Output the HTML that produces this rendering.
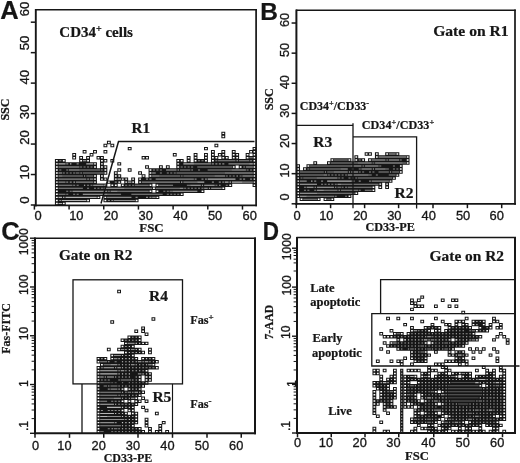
<!DOCTYPE html>
<html lang="en"><head><meta charset="utf-8"><title>Flow cytometry gating figure</title>
<style>html,body{margin:0;padding:0;background:#fff}body{width:520px;height:463px;overflow:hidden}svg{display:block;will-change:transform}</style>
</head><body>
<svg width="520" height="463" viewBox="0 0 520 463">
<rect width="520" height="463" fill="#fff"/>
<path d="M54.91 201.75h3.87v3.45h-3.87zM54.91 198.71h3.87v3.45h-3.87zM54.91 195.66h3.87v3.45h-3.87zM54.91 192.61h3.87v3.45h-3.87zM54.91 189.56h3.87v3.45h-3.87zM54.91 186.52h3.87v3.45h-3.87zM54.91 183.47h3.87v3.45h-3.87zM54.91 180.42h3.87v3.45h-3.87zM54.91 177.38h3.87v3.45h-3.87zM54.91 174.33h3.87v3.45h-3.87zM54.91 171.28h3.87v3.45h-3.87zM54.91 168.24h3.87v3.45h-3.87zM54.91 165.19h3.87v3.45h-3.87zM54.91 162.14h3.87v3.45h-3.87zM54.91 159.09h3.87v3.45h-3.87zM58.38 201.75h3.87v3.45h-3.87zM58.38 198.71h3.87v3.45h-3.87zM58.38 195.66h3.87v3.45h-3.87zM58.38 192.61h3.87v3.45h-3.87zM58.38 189.56h3.87v3.45h-3.87zM58.38 186.52h3.87v3.45h-3.87zM58.38 183.47h3.87v3.45h-3.87zM58.38 180.42h3.87v3.45h-3.87zM58.38 177.38h3.87v3.45h-3.87zM58.38 174.33h3.87v3.45h-3.87zM58.38 171.28h3.87v3.45h-3.87zM58.38 168.24h3.87v3.45h-3.87zM58.38 165.19h3.87v3.45h-3.87zM58.38 162.14h3.87v3.45h-3.87zM58.38 159.09h3.87v3.45h-3.87zM61.84 201.75h3.87v3.45h-3.87zM61.84 198.71h3.87v3.45h-3.87zM61.84 195.66h3.87v3.45h-3.87zM61.84 192.61h3.87v3.45h-3.87zM61.84 189.56h3.87v3.45h-3.87zM61.84 186.52h3.87v3.45h-3.87zM61.84 183.47h3.87v3.45h-3.87zM61.84 180.42h3.87v3.45h-3.87zM61.84 177.38h3.87v3.45h-3.87zM61.84 174.33h3.87v3.45h-3.87zM61.84 171.28h3.87v3.45h-3.87zM61.84 168.24h3.87v3.45h-3.87zM61.84 165.19h3.87v3.45h-3.87zM61.84 162.14h3.87v3.45h-3.87zM61.84 159.09h3.87v3.45h-3.87zM65.31 198.71h3.87v3.45h-3.87zM65.31 195.66h3.87v3.45h-3.87zM65.31 192.61h3.87v3.45h-3.87zM65.31 189.56h3.87v3.45h-3.87zM65.31 186.52h3.87v3.45h-3.87zM65.31 183.47h3.87v3.45h-3.87zM65.31 180.42h3.87v3.45h-3.87zM65.31 177.38h3.87v3.45h-3.87zM65.31 174.33h3.87v3.45h-3.87zM65.31 171.28h3.87v3.45h-3.87zM65.31 168.24h3.87v3.45h-3.87zM65.31 165.19h3.87v3.45h-3.87zM65.31 162.14h3.87v3.45h-3.87zM68.78 198.71h3.87v3.45h-3.87zM68.78 195.66h3.87v3.45h-3.87zM68.78 192.61h3.87v3.45h-3.87zM68.78 189.56h3.87v3.45h-3.87zM68.78 186.52h3.87v3.45h-3.87zM68.78 183.47h3.87v3.45h-3.87zM68.78 180.42h3.87v3.45h-3.87zM68.78 177.38h3.87v3.45h-3.87zM68.78 174.33h3.87v3.45h-3.87zM68.78 171.28h3.87v3.45h-3.87zM68.78 168.24h3.87v3.45h-3.87zM68.78 165.19h3.87v3.45h-3.87zM68.78 162.14h3.87v3.45h-3.87zM72.25 198.71h3.87v3.45h-3.87zM72.25 195.66h3.87v3.45h-3.87zM72.25 192.61h3.87v3.45h-3.87zM72.25 189.56h3.87v3.45h-3.87zM72.25 186.52h3.87v3.45h-3.87zM72.25 183.47h3.87v3.45h-3.87zM72.25 180.42h3.87v3.45h-3.87zM72.25 177.38h3.87v3.45h-3.87zM72.25 174.33h3.87v3.45h-3.87zM72.25 171.28h3.87v3.45h-3.87zM72.25 168.24h3.87v3.45h-3.87zM72.25 165.19h3.87v3.45h-3.87zM72.25 162.14h3.87v3.45h-3.87zM72.25 156.05h3.87v3.45h-3.87zM72.25 153.00h3.87v3.45h-3.87zM75.72 198.71h3.87v3.45h-3.87zM75.72 195.66h3.87v3.45h-3.87zM75.72 192.61h3.87v3.45h-3.87zM75.72 189.56h3.87v3.45h-3.87zM75.72 186.52h3.87v3.45h-3.87zM75.72 183.47h3.87v3.45h-3.87zM75.72 180.42h3.87v3.45h-3.87zM75.72 177.38h3.87v3.45h-3.87zM75.72 174.33h3.87v3.45h-3.87zM75.72 171.28h3.87v3.45h-3.87zM75.72 168.24h3.87v3.45h-3.87zM75.72 165.19h3.87v3.45h-3.87zM75.72 162.14h3.87v3.45h-3.87zM79.18 198.71h3.87v3.45h-3.87zM79.18 195.66h3.87v3.45h-3.87zM79.18 192.61h3.87v3.45h-3.87zM79.18 189.56h3.87v3.45h-3.87zM79.18 186.52h3.87v3.45h-3.87zM79.18 183.47h3.87v3.45h-3.87zM79.18 180.42h3.87v3.45h-3.87zM79.18 177.38h3.87v3.45h-3.87zM79.18 174.33h3.87v3.45h-3.87zM79.18 171.28h3.87v3.45h-3.87zM79.18 168.24h3.87v3.45h-3.87zM79.18 165.19h3.87v3.45h-3.87zM79.18 162.14h3.87v3.45h-3.87zM79.18 159.09h3.87v3.45h-3.87zM79.18 156.05h3.87v3.45h-3.87zM82.65 198.71h3.87v3.45h-3.87zM82.65 195.66h3.87v3.45h-3.87zM82.65 192.61h3.87v3.45h-3.87zM82.65 189.56h3.87v3.45h-3.87zM82.65 186.52h3.87v3.45h-3.87zM82.65 183.47h3.87v3.45h-3.87zM82.65 180.42h3.87v3.45h-3.87zM82.65 177.38h3.87v3.45h-3.87zM82.65 174.33h3.87v3.45h-3.87zM82.65 171.28h3.87v3.45h-3.87zM82.65 168.24h3.87v3.45h-3.87zM82.65 165.19h3.87v3.45h-3.87zM82.65 162.14h3.87v3.45h-3.87zM82.65 159.09h3.87v3.45h-3.87zM82.65 149.95h3.87v3.45h-3.87zM86.12 198.71h3.87v3.45h-3.87zM86.12 195.66h3.87v3.45h-3.87zM86.12 192.61h3.87v3.45h-3.87zM86.12 189.56h3.87v3.45h-3.87zM86.12 186.52h3.87v3.45h-3.87zM86.12 183.47h3.87v3.45h-3.87zM86.12 180.42h3.87v3.45h-3.87zM86.12 177.38h3.87v3.45h-3.87zM86.12 174.33h3.87v3.45h-3.87zM86.12 171.28h3.87v3.45h-3.87zM86.12 168.24h3.87v3.45h-3.87zM86.12 165.19h3.87v3.45h-3.87zM86.12 162.14h3.87v3.45h-3.87zM86.12 159.09h3.87v3.45h-3.87zM86.12 156.05h3.87v3.45h-3.87zM89.59 195.66h3.87v3.45h-3.87zM89.59 192.61h3.87v3.45h-3.87zM89.59 189.56h3.87v3.45h-3.87zM89.59 186.52h3.87v3.45h-3.87zM89.59 183.47h3.87v3.45h-3.87zM89.59 180.42h3.87v3.45h-3.87zM89.59 177.38h3.87v3.45h-3.87zM89.59 174.33h3.87v3.45h-3.87zM89.59 171.28h3.87v3.45h-3.87zM89.59 168.24h3.87v3.45h-3.87zM89.59 165.19h3.87v3.45h-3.87zM89.59 162.14h3.87v3.45h-3.87zM89.59 153.00h3.87v3.45h-3.87zM93.06 195.66h3.87v3.45h-3.87zM93.06 192.61h3.87v3.45h-3.87zM93.06 189.56h3.87v3.45h-3.87zM93.06 186.52h3.87v3.45h-3.87zM93.06 183.47h3.87v3.45h-3.87zM93.06 180.42h3.87v3.45h-3.87zM93.06 177.38h3.87v3.45h-3.87zM93.06 174.33h3.87v3.45h-3.87zM93.06 171.28h3.87v3.45h-3.87zM93.06 168.24h3.87v3.45h-3.87zM93.06 165.19h3.87v3.45h-3.87zM93.06 162.14h3.87v3.45h-3.87zM93.06 149.95h3.87v3.45h-3.87zM96.52 195.66h3.87v3.45h-3.87zM96.52 192.61h3.87v3.45h-3.87zM96.52 189.56h3.87v3.45h-3.87zM96.52 186.52h3.87v3.45h-3.87zM96.52 183.47h3.87v3.45h-3.87zM96.52 171.28h3.87v3.45h-3.87zM96.52 168.24h3.87v3.45h-3.87zM96.52 156.05h3.87v3.45h-3.87zM99.99 192.61h3.87v3.45h-3.87zM99.99 189.56h3.87v3.45h-3.87zM99.99 186.52h3.87v3.45h-3.87zM99.99 183.47h3.87v3.45h-3.87zM99.99 177.38h3.87v3.45h-3.87zM99.99 174.33h3.87v3.45h-3.87zM99.99 171.28h3.87v3.45h-3.87zM99.99 168.24h3.87v3.45h-3.87zM99.99 165.19h3.87v3.45h-3.87zM99.99 162.14h3.87v3.45h-3.87zM99.99 159.09h3.87v3.45h-3.87zM99.99 156.05h3.87v3.45h-3.87zM103.46 198.71h3.87v3.45h-3.87zM103.46 195.66h3.87v3.45h-3.87zM103.46 192.61h3.87v3.45h-3.87zM103.46 189.56h3.87v3.45h-3.87zM103.46 186.52h3.87v3.45h-3.87zM103.46 183.47h3.87v3.45h-3.87zM103.46 177.38h3.87v3.45h-3.87zM103.46 171.28h3.87v3.45h-3.87zM103.46 168.24h3.87v3.45h-3.87zM103.46 165.19h3.87v3.45h-3.87zM103.46 159.09h3.87v3.45h-3.87zM103.46 149.95h3.87v3.45h-3.87zM103.46 143.86h3.87v3.45h-3.87zM106.93 198.71h3.87v3.45h-3.87zM106.93 195.66h3.87v3.45h-3.87zM106.93 192.61h3.87v3.45h-3.87zM106.93 189.56h3.87v3.45h-3.87zM106.93 186.52h3.87v3.45h-3.87zM106.93 180.42h3.87v3.45h-3.87zM106.93 140.81h3.87v3.45h-3.87zM110.40 198.71h3.87v3.45h-3.87zM110.40 195.66h3.87v3.45h-3.87zM110.40 192.61h3.87v3.45h-3.87zM110.40 189.56h3.87v3.45h-3.87zM110.40 186.52h3.87v3.45h-3.87zM110.40 183.47h3.87v3.45h-3.87zM110.40 180.42h3.87v3.45h-3.87zM110.40 159.09h3.87v3.45h-3.87zM110.40 143.86h3.87v3.45h-3.87zM113.86 198.71h3.87v3.45h-3.87zM113.86 195.66h3.87v3.45h-3.87zM113.86 192.61h3.87v3.45h-3.87zM113.86 189.56h3.87v3.45h-3.87zM113.86 186.52h3.87v3.45h-3.87zM113.86 183.47h3.87v3.45h-3.87zM113.86 180.42h3.87v3.45h-3.87zM113.86 177.38h3.87v3.45h-3.87zM113.86 174.33h3.87v3.45h-3.87zM113.86 171.28h3.87v3.45h-3.87zM117.33 198.71h3.87v3.45h-3.87zM117.33 195.66h3.87v3.45h-3.87zM117.33 192.61h3.87v3.45h-3.87zM117.33 189.56h3.87v3.45h-3.87zM117.33 186.52h3.87v3.45h-3.87zM117.33 180.42h3.87v3.45h-3.87zM117.33 177.38h3.87v3.45h-3.87zM117.33 174.33h3.87v3.45h-3.87zM117.33 168.24h3.87v3.45h-3.87zM117.33 162.14h3.87v3.45h-3.87zM120.80 198.71h3.87v3.45h-3.87zM120.80 195.66h3.87v3.45h-3.87zM120.80 192.61h3.87v3.45h-3.87zM120.80 189.56h3.87v3.45h-3.87zM120.80 186.52h3.87v3.45h-3.87zM120.80 183.47h3.87v3.45h-3.87zM120.80 177.38h3.87v3.45h-3.87zM124.27 198.71h3.87v3.45h-3.87zM124.27 195.66h3.87v3.45h-3.87zM124.27 192.61h3.87v3.45h-3.87zM124.27 189.56h3.87v3.45h-3.87zM124.27 186.52h3.87v3.45h-3.87zM124.27 183.47h3.87v3.45h-3.87zM124.27 180.42h3.87v3.45h-3.87zM124.27 177.38h3.87v3.45h-3.87zM127.74 198.71h3.87v3.45h-3.87zM127.74 195.66h3.87v3.45h-3.87zM127.74 192.61h3.87v3.45h-3.87zM127.74 189.56h3.87v3.45h-3.87zM127.74 186.52h3.87v3.45h-3.87zM127.74 183.47h3.87v3.45h-3.87zM127.74 180.42h3.87v3.45h-3.87zM127.74 168.24h3.87v3.45h-3.87zM127.74 146.91h3.87v3.45h-3.87zM131.20 198.71h3.87v3.45h-3.87zM131.20 195.66h3.87v3.45h-3.87zM131.20 192.61h3.87v3.45h-3.87zM131.20 189.56h3.87v3.45h-3.87zM131.20 186.52h3.87v3.45h-3.87zM131.20 183.47h3.87v3.45h-3.87zM131.20 180.42h3.87v3.45h-3.87zM131.20 177.38h3.87v3.45h-3.87zM134.67 198.71h3.87v3.45h-3.87zM134.67 195.66h3.87v3.45h-3.87zM134.67 192.61h3.87v3.45h-3.87zM134.67 189.56h3.87v3.45h-3.87zM134.67 186.52h3.87v3.45h-3.87zM134.67 183.47h3.87v3.45h-3.87zM138.14 195.66h3.87v3.45h-3.87zM138.14 192.61h3.87v3.45h-3.87zM138.14 189.56h3.87v3.45h-3.87zM138.14 186.52h3.87v3.45h-3.87zM138.14 183.47h3.87v3.45h-3.87zM138.14 180.42h3.87v3.45h-3.87zM138.14 177.38h3.87v3.45h-3.87zM138.14 171.28h3.87v3.45h-3.87zM141.61 195.66h3.87v3.45h-3.87zM141.61 192.61h3.87v3.45h-3.87zM141.61 189.56h3.87v3.45h-3.87zM141.61 186.52h3.87v3.45h-3.87zM141.61 183.47h3.87v3.45h-3.87zM141.61 180.42h3.87v3.45h-3.87zM141.61 177.38h3.87v3.45h-3.87zM141.61 174.33h3.87v3.45h-3.87zM141.61 156.05h3.87v3.45h-3.87zM145.08 195.66h3.87v3.45h-3.87zM145.08 192.61h3.87v3.45h-3.87zM145.08 189.56h3.87v3.45h-3.87zM145.08 186.52h3.87v3.45h-3.87zM145.08 183.47h3.87v3.45h-3.87zM145.08 180.42h3.87v3.45h-3.87zM145.08 177.38h3.87v3.45h-3.87zM145.08 165.19h3.87v3.45h-3.87zM145.08 156.05h3.87v3.45h-3.87zM148.54 195.66h3.87v3.45h-3.87zM148.54 192.61h3.87v3.45h-3.87zM148.54 189.56h3.87v3.45h-3.87zM148.54 186.52h3.87v3.45h-3.87zM148.54 183.47h3.87v3.45h-3.87zM148.54 180.42h3.87v3.45h-3.87zM148.54 177.38h3.87v3.45h-3.87zM148.54 174.33h3.87v3.45h-3.87zM148.54 171.28h3.87v3.45h-3.87zM148.54 168.24h3.87v3.45h-3.87zM152.01 195.66h3.87v3.45h-3.87zM152.01 192.61h3.87v3.45h-3.87zM152.01 186.52h3.87v3.45h-3.87zM152.01 180.42h3.87v3.45h-3.87zM152.01 177.38h3.87v3.45h-3.87zM152.01 174.33h3.87v3.45h-3.87zM152.01 171.28h3.87v3.45h-3.87zM152.01 168.24h3.87v3.45h-3.87zM155.48 195.66h3.87v3.45h-3.87zM155.48 192.61h3.87v3.45h-3.87zM155.48 189.56h3.87v3.45h-3.87zM155.48 186.52h3.87v3.45h-3.87zM155.48 183.47h3.87v3.45h-3.87zM155.48 180.42h3.87v3.45h-3.87zM155.48 177.38h3.87v3.45h-3.87zM155.48 174.33h3.87v3.45h-3.87zM155.48 171.28h3.87v3.45h-3.87zM155.48 168.24h3.87v3.45h-3.87zM158.95 192.61h3.87v3.45h-3.87zM158.95 189.56h3.87v3.45h-3.87zM158.95 186.52h3.87v3.45h-3.87zM158.95 183.47h3.87v3.45h-3.87zM158.95 180.42h3.87v3.45h-3.87zM158.95 177.38h3.87v3.45h-3.87zM158.95 174.33h3.87v3.45h-3.87zM158.95 171.28h3.87v3.45h-3.87zM158.95 168.24h3.87v3.45h-3.87zM158.95 165.19h3.87v3.45h-3.87zM162.42 192.61h3.87v3.45h-3.87zM162.42 189.56h3.87v3.45h-3.87zM162.42 186.52h3.87v3.45h-3.87zM162.42 183.47h3.87v3.45h-3.87zM162.42 180.42h3.87v3.45h-3.87zM162.42 177.38h3.87v3.45h-3.87zM162.42 174.33h3.87v3.45h-3.87zM162.42 171.28h3.87v3.45h-3.87zM162.42 168.24h3.87v3.45h-3.87zM165.88 192.61h3.87v3.45h-3.87zM165.88 189.56h3.87v3.45h-3.87zM165.88 186.52h3.87v3.45h-3.87zM165.88 183.47h3.87v3.45h-3.87zM165.88 180.42h3.87v3.45h-3.87zM165.88 177.38h3.87v3.45h-3.87zM165.88 174.33h3.87v3.45h-3.87zM165.88 171.28h3.87v3.45h-3.87zM165.88 168.24h3.87v3.45h-3.87zM165.88 165.19h3.87v3.45h-3.87zM169.35 192.61h3.87v3.45h-3.87zM169.35 189.56h3.87v3.45h-3.87zM169.35 186.52h3.87v3.45h-3.87zM169.35 183.47h3.87v3.45h-3.87zM169.35 180.42h3.87v3.45h-3.87zM169.35 177.38h3.87v3.45h-3.87zM169.35 174.33h3.87v3.45h-3.87zM169.35 171.28h3.87v3.45h-3.87zM169.35 168.24h3.87v3.45h-3.87zM172.82 192.61h3.87v3.45h-3.87zM172.82 189.56h3.87v3.45h-3.87zM172.82 186.52h3.87v3.45h-3.87zM172.82 183.47h3.87v3.45h-3.87zM172.82 180.42h3.87v3.45h-3.87zM172.82 177.38h3.87v3.45h-3.87zM172.82 174.33h3.87v3.45h-3.87zM172.82 171.28h3.87v3.45h-3.87zM172.82 168.24h3.87v3.45h-3.87zM172.82 153.00h3.87v3.45h-3.87zM176.29 192.61h3.87v3.45h-3.87zM176.29 189.56h3.87v3.45h-3.87zM176.29 186.52h3.87v3.45h-3.87zM176.29 183.47h3.87v3.45h-3.87zM176.29 180.42h3.87v3.45h-3.87zM176.29 177.38h3.87v3.45h-3.87zM176.29 174.33h3.87v3.45h-3.87zM176.29 171.28h3.87v3.45h-3.87zM176.29 168.24h3.87v3.45h-3.87zM176.29 165.19h3.87v3.45h-3.87zM176.29 162.14h3.87v3.45h-3.87zM176.29 159.09h3.87v3.45h-3.87zM179.76 192.61h3.87v3.45h-3.87zM179.76 189.56h3.87v3.45h-3.87zM179.76 186.52h3.87v3.45h-3.87zM179.76 183.47h3.87v3.45h-3.87zM179.76 180.42h3.87v3.45h-3.87zM179.76 177.38h3.87v3.45h-3.87zM179.76 174.33h3.87v3.45h-3.87zM179.76 171.28h3.87v3.45h-3.87zM179.76 168.24h3.87v3.45h-3.87zM179.76 165.19h3.87v3.45h-3.87zM179.76 162.14h3.87v3.45h-3.87zM179.76 159.09h3.87v3.45h-3.87zM183.22 189.56h3.87v3.45h-3.87zM183.22 186.52h3.87v3.45h-3.87zM183.22 183.47h3.87v3.45h-3.87zM183.22 180.42h3.87v3.45h-3.87zM183.22 177.38h3.87v3.45h-3.87zM183.22 174.33h3.87v3.45h-3.87zM183.22 171.28h3.87v3.45h-3.87zM183.22 168.24h3.87v3.45h-3.87zM183.22 165.19h3.87v3.45h-3.87zM183.22 162.14h3.87v3.45h-3.87zM186.69 189.56h3.87v3.45h-3.87zM186.69 186.52h3.87v3.45h-3.87zM186.69 183.47h3.87v3.45h-3.87zM186.69 180.42h3.87v3.45h-3.87zM186.69 177.38h3.87v3.45h-3.87zM186.69 174.33h3.87v3.45h-3.87zM186.69 171.28h3.87v3.45h-3.87zM186.69 168.24h3.87v3.45h-3.87zM186.69 165.19h3.87v3.45h-3.87zM186.69 162.14h3.87v3.45h-3.87zM186.69 159.09h3.87v3.45h-3.87zM186.69 156.05h3.87v3.45h-3.87zM190.16 189.56h3.87v3.45h-3.87zM190.16 186.52h3.87v3.45h-3.87zM190.16 183.47h3.87v3.45h-3.87zM190.16 180.42h3.87v3.45h-3.87zM190.16 177.38h3.87v3.45h-3.87zM190.16 174.33h3.87v3.45h-3.87zM190.16 171.28h3.87v3.45h-3.87zM190.16 168.24h3.87v3.45h-3.87zM190.16 165.19h3.87v3.45h-3.87zM190.16 162.14h3.87v3.45h-3.87zM193.63 189.56h3.87v3.45h-3.87zM193.63 186.52h3.87v3.45h-3.87zM193.63 183.47h3.87v3.45h-3.87zM193.63 180.42h3.87v3.45h-3.87zM193.63 177.38h3.87v3.45h-3.87zM193.63 174.33h3.87v3.45h-3.87zM193.63 171.28h3.87v3.45h-3.87zM193.63 168.24h3.87v3.45h-3.87zM193.63 165.19h3.87v3.45h-3.87zM193.63 162.14h3.87v3.45h-3.87zM193.63 159.09h3.87v3.45h-3.87zM193.63 156.05h3.87v3.45h-3.87zM193.63 153.00h3.87v3.45h-3.87zM197.10 189.56h3.87v3.45h-3.87zM197.10 186.52h3.87v3.45h-3.87zM197.10 183.47h3.87v3.45h-3.87zM197.10 180.42h3.87v3.45h-3.87zM197.10 177.38h3.87v3.45h-3.87zM197.10 174.33h3.87v3.45h-3.87zM197.10 171.28h3.87v3.45h-3.87zM197.10 168.24h3.87v3.45h-3.87zM197.10 165.19h3.87v3.45h-3.87zM197.10 162.14h3.87v3.45h-3.87zM197.10 159.09h3.87v3.45h-3.87zM200.56 189.56h3.87v3.45h-3.87zM200.56 186.52h3.87v3.45h-3.87zM200.56 183.47h3.87v3.45h-3.87zM200.56 180.42h3.87v3.45h-3.87zM200.56 177.38h3.87v3.45h-3.87zM200.56 174.33h3.87v3.45h-3.87zM200.56 171.28h3.87v3.45h-3.87zM200.56 168.24h3.87v3.45h-3.87zM200.56 165.19h3.87v3.45h-3.87zM200.56 162.14h3.87v3.45h-3.87zM200.56 159.09h3.87v3.45h-3.87zM204.03 186.52h3.87v3.45h-3.87zM204.03 183.47h3.87v3.45h-3.87zM204.03 180.42h3.87v3.45h-3.87zM204.03 177.38h3.87v3.45h-3.87zM204.03 174.33h3.87v3.45h-3.87zM204.03 171.28h3.87v3.45h-3.87zM204.03 168.24h3.87v3.45h-3.87zM204.03 165.19h3.87v3.45h-3.87zM204.03 162.14h3.87v3.45h-3.87zM204.03 159.09h3.87v3.45h-3.87zM204.03 156.05h3.87v3.45h-3.87zM204.03 153.00h3.87v3.45h-3.87zM204.03 146.91h3.87v3.45h-3.87zM207.50 186.52h3.87v3.45h-3.87zM207.50 183.47h3.87v3.45h-3.87zM207.50 180.42h3.87v3.45h-3.87zM207.50 177.38h3.87v3.45h-3.87zM207.50 174.33h3.87v3.45h-3.87zM207.50 171.28h3.87v3.45h-3.87zM207.50 168.24h3.87v3.45h-3.87zM207.50 165.19h3.87v3.45h-3.87zM207.50 162.14h3.87v3.45h-3.87zM210.97 186.52h3.87v3.45h-3.87zM210.97 183.47h3.87v3.45h-3.87zM210.97 180.42h3.87v3.45h-3.87zM210.97 177.38h3.87v3.45h-3.87zM210.97 174.33h3.87v3.45h-3.87zM210.97 171.28h3.87v3.45h-3.87zM210.97 168.24h3.87v3.45h-3.87zM210.97 165.19h3.87v3.45h-3.87zM210.97 162.14h3.87v3.45h-3.87zM210.97 159.09h3.87v3.45h-3.87zM210.97 156.05h3.87v3.45h-3.87zM210.97 153.00h3.87v3.45h-3.87zM210.97 149.95h3.87v3.45h-3.87zM214.44 186.52h3.87v3.45h-3.87zM214.44 183.47h3.87v3.45h-3.87zM214.44 180.42h3.87v3.45h-3.87zM214.44 177.38h3.87v3.45h-3.87zM214.44 174.33h3.87v3.45h-3.87zM214.44 171.28h3.87v3.45h-3.87zM214.44 168.24h3.87v3.45h-3.87zM214.44 165.19h3.87v3.45h-3.87zM214.44 162.14h3.87v3.45h-3.87zM214.44 159.09h3.87v3.45h-3.87zM214.44 156.05h3.87v3.45h-3.87zM214.44 143.86h3.87v3.45h-3.87zM217.90 186.52h3.87v3.45h-3.87zM217.90 183.47h3.87v3.45h-3.87zM217.90 180.42h3.87v3.45h-3.87zM217.90 177.38h3.87v3.45h-3.87zM217.90 174.33h3.87v3.45h-3.87zM217.90 171.28h3.87v3.45h-3.87zM217.90 168.24h3.87v3.45h-3.87zM217.90 165.19h3.87v3.45h-3.87zM217.90 162.14h3.87v3.45h-3.87zM217.90 159.09h3.87v3.45h-3.87zM217.90 153.00h3.87v3.45h-3.87zM221.37 186.52h3.87v3.45h-3.87zM221.37 183.47h3.87v3.45h-3.87zM221.37 180.42h3.87v3.45h-3.87zM221.37 177.38h3.87v3.45h-3.87zM221.37 174.33h3.87v3.45h-3.87zM221.37 171.28h3.87v3.45h-3.87zM221.37 168.24h3.87v3.45h-3.87zM221.37 165.19h3.87v3.45h-3.87zM221.37 162.14h3.87v3.45h-3.87zM221.37 159.09h3.87v3.45h-3.87zM221.37 156.05h3.87v3.45h-3.87zM221.37 153.00h3.87v3.45h-3.87zM221.37 149.95h3.87v3.45h-3.87zM221.37 134.72h3.87v3.45h-3.87zM221.37 131.67h3.87v3.45h-3.87zM224.84 183.47h3.87v3.45h-3.87zM224.84 180.42h3.87v3.45h-3.87zM224.84 177.38h3.87v3.45h-3.87zM224.84 174.33h3.87v3.45h-3.87zM224.84 171.28h3.87v3.45h-3.87zM224.84 168.24h3.87v3.45h-3.87zM224.84 165.19h3.87v3.45h-3.87zM224.84 162.14h3.87v3.45h-3.87zM224.84 159.09h3.87v3.45h-3.87zM224.84 156.05h3.87v3.45h-3.87zM228.31 183.47h3.87v3.45h-3.87zM228.31 180.42h3.87v3.45h-3.87zM228.31 177.38h3.87v3.45h-3.87zM228.31 174.33h3.87v3.45h-3.87zM228.31 171.28h3.87v3.45h-3.87zM228.31 168.24h3.87v3.45h-3.87zM228.31 165.19h3.87v3.45h-3.87zM228.31 162.14h3.87v3.45h-3.87zM228.31 159.09h3.87v3.45h-3.87zM231.78 180.42h3.87v3.45h-3.87zM231.78 177.38h3.87v3.45h-3.87zM231.78 174.33h3.87v3.45h-3.87zM231.78 171.28h3.87v3.45h-3.87zM231.78 168.24h3.87v3.45h-3.87zM231.78 165.19h3.87v3.45h-3.87zM231.78 162.14h3.87v3.45h-3.87zM231.78 159.09h3.87v3.45h-3.87zM231.78 156.05h3.87v3.45h-3.87zM231.78 153.00h3.87v3.45h-3.87zM231.78 149.95h3.87v3.45h-3.87zM235.24 180.42h3.87v3.45h-3.87zM235.24 177.38h3.87v3.45h-3.87zM235.24 174.33h3.87v3.45h-3.87zM235.24 171.28h3.87v3.45h-3.87zM235.24 168.24h3.87v3.45h-3.87zM235.24 162.14h3.87v3.45h-3.87zM235.24 159.09h3.87v3.45h-3.87zM235.24 156.05h3.87v3.45h-3.87zM235.24 153.00h3.87v3.45h-3.87zM238.71 180.42h3.87v3.45h-3.87zM238.71 177.38h3.87v3.45h-3.87zM238.71 174.33h3.87v3.45h-3.87zM238.71 171.28h3.87v3.45h-3.87zM238.71 168.24h3.87v3.45h-3.87zM238.71 165.19h3.87v3.45h-3.87zM238.71 162.14h3.87v3.45h-3.87zM238.71 159.09h3.87v3.45h-3.87zM242.18 180.42h3.87v3.45h-3.87zM242.18 177.38h3.87v3.45h-3.87zM242.18 174.33h3.87v3.45h-3.87zM242.18 171.28h3.87v3.45h-3.87zM242.18 168.24h3.87v3.45h-3.87zM242.18 165.19h3.87v3.45h-3.87zM242.18 162.14h3.87v3.45h-3.87zM242.18 159.09h3.87v3.45h-3.87zM245.65 180.42h3.87v3.45h-3.87zM245.65 177.38h3.87v3.45h-3.87zM245.65 174.33h3.87v3.45h-3.87zM245.65 171.28h3.87v3.45h-3.87zM245.65 168.24h3.87v3.45h-3.87zM245.65 165.19h3.87v3.45h-3.87zM245.65 162.14h3.87v3.45h-3.87zM245.65 159.09h3.87v3.45h-3.87zM245.65 156.05h3.87v3.45h-3.87zM245.65 153.00h3.87v3.45h-3.87zM249.12 180.42h3.87v3.45h-3.87zM249.12 177.38h3.87v3.45h-3.87zM249.12 174.33h3.87v3.45h-3.87zM249.12 171.28h3.87v3.45h-3.87zM249.12 168.24h3.87v3.45h-3.87zM249.12 165.19h3.87v3.45h-3.87zM249.12 162.14h3.87v3.45h-3.87zM249.12 159.09h3.87v3.45h-3.87zM249.12 156.05h3.87v3.45h-3.87zM249.12 149.95h3.87v3.45h-3.87zM252.58 183.47h3.87v3.45h-3.87zM252.58 180.42h3.87v3.45h-3.87zM252.58 177.38h3.87v3.45h-3.87zM252.58 174.33h3.87v3.45h-3.87zM252.58 171.28h3.87v3.45h-3.87zM252.58 168.24h3.87v3.45h-3.87zM252.58 165.19h3.87v3.45h-3.87zM252.58 162.14h3.87v3.45h-3.87zM252.58 159.09h3.87v3.45h-3.87zM252.58 156.05h3.87v3.45h-3.87zM252.58 153.00h3.87v3.45h-3.87zM252.58 149.95h3.87v3.45h-3.87zM252.58 146.91h3.87v3.45h-3.87z" fill="#161616"/>
<path d="M59.28 199.91h2.07v1.05h-2.07zM58.53 193.81h3.57v1.05h-3.57zM58.53 187.72h3.57v1.05h-3.57zM58.53 184.67h3.57v1.05h-3.57zM58.53 181.62h3.57v1.05h-3.57zM58.53 178.58h3.57v1.05h-3.57zM59.28 169.44h2.07v1.05h-2.07zM59.28 160.29h2.07v1.05h-2.07zM61.99 193.81h3.57v1.05h-3.57zM61.99 187.72h3.57v1.05h-3.57zM61.99 184.67h3.57v1.05h-3.57zM61.99 181.62h3.57v1.05h-3.57zM61.99 178.58h3.57v1.05h-3.57zM61.99 175.53h3.57v1.05h-3.57zM62.74 172.48h2.07v1.05h-2.07zM66.21 193.81h2.07v1.05h-2.07zM66.21 190.76h2.07v1.05h-2.07zM65.46 187.72h3.57v1.05h-3.57zM65.46 184.67h3.57v1.05h-3.57zM66.21 181.62h2.07v1.05h-2.07zM65.46 178.58h3.57v1.05h-3.57zM65.46 175.53h3.57v1.05h-3.57zM66.21 172.48h2.07v1.05h-2.07zM66.21 169.44h2.07v1.05h-2.07zM66.21 163.34h2.07v1.05h-2.07zM69.68 190.76h2.07v1.05h-2.07zM68.93 187.72h3.57v1.05h-3.57zM68.93 184.67h3.57v1.05h-3.57zM69.68 181.62h2.07v1.05h-2.07zM68.93 178.58h3.57v1.05h-3.57zM68.93 175.53h3.57v1.05h-3.57zM69.68 172.48h2.07v1.05h-2.07zM73.15 193.81h2.07v1.05h-2.07zM72.40 187.72h3.57v1.05h-3.57zM73.15 184.67h2.07v1.05h-2.07zM72.40 178.58h3.57v1.05h-3.57zM72.40 175.53h3.57v1.05h-3.57zM73.15 172.48h2.07v1.05h-2.07zM76.62 193.81h2.07v1.05h-2.07zM75.87 187.72h3.57v1.05h-3.57zM76.62 184.67h2.07v1.05h-2.07zM75.87 181.62h3.57v1.05h-3.57zM75.87 178.58h3.57v1.05h-3.57zM75.87 175.53h3.57v1.05h-3.57zM75.87 172.48h3.57v1.05h-3.57zM76.62 163.34h2.07v1.05h-2.07zM79.33 187.72h3.57v1.05h-3.57zM79.33 181.62h3.57v1.05h-3.57zM79.33 178.58h3.57v1.05h-3.57zM79.33 175.53h3.57v1.05h-3.57zM79.33 169.44h3.57v1.05h-3.57zM80.08 166.39h2.07v1.05h-2.07zM82.80 181.62h3.57v1.05h-3.57zM82.80 178.58h3.57v1.05h-3.57zM82.80 172.48h3.57v1.05h-3.57zM82.80 169.44h3.57v1.05h-3.57zM83.55 166.39h2.07v1.05h-2.07zM87.02 187.72h2.07v1.05h-2.07zM87.02 184.67h2.07v1.05h-2.07zM86.27 181.62h3.57v1.05h-3.57zM86.27 175.53h3.57v1.05h-3.57zM86.27 172.48h3.57v1.05h-3.57zM86.27 169.44h3.57v1.05h-3.57zM87.02 166.39h2.07v1.05h-2.07zM90.49 184.67h2.07v1.05h-2.07zM89.74 181.62h3.57v1.05h-3.57zM89.74 178.58h3.57v1.05h-3.57zM89.74 175.53h3.57v1.05h-3.57zM89.74 172.48h3.57v1.05h-3.57zM89.74 169.44h3.57v1.05h-3.57zM90.49 166.39h2.07v1.05h-2.07zM93.96 187.72h2.07v1.05h-2.07zM93.21 172.48h3.57v1.05h-3.57zM93.21 169.44h3.57v1.05h-3.57zM97.42 187.72h2.07v1.05h-2.07zM96.67 172.48h3.57v1.05h-3.57zM96.67 169.44h3.57v1.05h-3.57zM100.89 187.72h2.07v1.05h-2.07zM100.14 172.48h3.57v1.05h-3.57zM107.83 199.91h2.07v1.05h-2.07zM107.08 196.86h3.57v1.05h-3.57zM107.08 193.81h3.57v1.05h-3.57zM107.83 190.76h2.07v1.05h-2.07zM111.30 199.91h2.07v1.05h-2.07zM110.55 196.86h3.57v1.05h-3.57zM110.55 193.81h3.57v1.05h-3.57zM114.01 199.91h3.57v1.05h-3.57zM114.01 196.86h3.57v1.05h-3.57zM114.01 193.81h3.57v1.05h-3.57zM114.76 181.62h2.07v1.05h-2.07zM117.48 199.91h3.57v1.05h-3.57zM117.48 196.86h3.57v1.05h-3.57zM117.48 193.81h3.57v1.05h-3.57zM117.48 190.76h3.57v1.05h-3.57zM120.95 199.91h3.57v1.05h-3.57zM120.95 196.86h3.57v1.05h-3.57zM120.95 190.76h3.57v1.05h-3.57zM124.42 199.91h3.57v1.05h-3.57zM124.42 196.86h3.57v1.05h-3.57zM124.42 190.76h3.57v1.05h-3.57zM124.42 187.72h3.57v1.05h-3.57zM125.17 184.67h2.07v1.05h-2.07zM127.89 199.91h3.57v1.05h-3.57zM127.89 196.86h3.57v1.05h-3.57zM127.89 190.76h3.57v1.05h-3.57zM127.89 187.72h3.57v1.05h-3.57zM128.64 184.67h2.07v1.05h-2.07zM131.35 199.91h3.57v1.05h-3.57zM131.35 193.81h3.57v1.05h-3.57zM131.35 190.76h3.57v1.05h-3.57zM131.35 187.72h3.57v1.05h-3.57zM132.10 184.67h2.07v1.05h-2.07zM135.57 196.86h2.07v1.05h-2.07zM134.82 193.81h3.57v1.05h-3.57zM134.82 190.76h3.57v1.05h-3.57zM134.82 187.72h3.57v1.05h-3.57zM134.82 184.67h3.57v1.05h-3.57zM138.29 193.81h3.57v1.05h-3.57zM138.29 190.76h3.57v1.05h-3.57zM138.29 187.72h3.57v1.05h-3.57zM138.29 184.67h3.57v1.05h-3.57zM141.76 193.81h3.57v1.05h-3.57zM141.76 190.76h3.57v1.05h-3.57zM141.76 187.72h3.57v1.05h-3.57zM141.76 184.67h3.57v1.05h-3.57zM141.76 181.62h3.57v1.05h-3.57zM145.98 196.86h2.07v1.05h-2.07zM145.23 193.81h3.57v1.05h-3.57zM145.23 190.76h3.57v1.05h-3.57zM145.23 187.72h3.57v1.05h-3.57zM145.23 184.67h3.57v1.05h-3.57zM145.23 181.62h3.57v1.05h-3.57zM145.98 178.58h2.07v1.05h-2.07zM149.44 196.86h2.07v1.05h-2.07zM148.69 193.81h3.57v1.05h-3.57zM148.69 187.72h3.57v1.05h-3.57zM148.69 181.62h3.57v1.05h-3.57zM149.44 178.58h2.07v1.05h-2.07zM152.16 196.86h3.57v1.05h-3.57zM152.16 193.81h3.57v1.05h-3.57zM152.16 181.62h3.57v1.05h-3.57zM152.91 169.44h2.07v1.05h-2.07zM155.63 193.81h3.57v1.05h-3.57zM155.63 187.72h3.57v1.05h-3.57zM155.63 181.62h3.57v1.05h-3.57zM155.63 178.58h3.57v1.05h-3.57zM156.38 169.44h2.07v1.05h-2.07zM159.10 193.81h3.57v1.05h-3.57zM159.10 187.72h3.57v1.05h-3.57zM159.10 184.67h3.57v1.05h-3.57zM159.10 181.62h3.57v1.05h-3.57zM159.10 178.58h3.57v1.05h-3.57zM159.10 175.53h3.57v1.05h-3.57zM159.85 172.48h2.07v1.05h-2.07zM159.85 169.44h2.07v1.05h-2.07zM163.32 190.76h2.07v1.05h-2.07zM162.57 187.72h3.57v1.05h-3.57zM162.57 184.67h3.57v1.05h-3.57zM162.57 181.62h3.57v1.05h-3.57zM162.57 178.58h3.57v1.05h-3.57zM162.57 175.53h3.57v1.05h-3.57zM166.78 193.81h2.07v1.05h-2.07zM166.78 190.76h2.07v1.05h-2.07zM166.03 187.72h3.57v1.05h-3.57zM166.03 184.67h3.57v1.05h-3.57zM166.03 181.62h3.57v1.05h-3.57zM166.03 178.58h3.57v1.05h-3.57zM166.03 175.53h3.57v1.05h-3.57zM166.78 172.48h2.07v1.05h-2.07zM170.25 193.81h2.07v1.05h-2.07zM169.50 190.76h3.57v1.05h-3.57zM169.50 187.72h3.57v1.05h-3.57zM169.50 184.67h3.57v1.05h-3.57zM169.50 181.62h3.57v1.05h-3.57zM169.50 178.58h3.57v1.05h-3.57zM169.50 175.53h3.57v1.05h-3.57zM170.25 172.48h2.07v1.05h-2.07zM173.72 193.81h2.07v1.05h-2.07zM172.97 187.72h3.57v1.05h-3.57zM172.97 181.62h3.57v1.05h-3.57zM172.97 178.58h3.57v1.05h-3.57zM172.97 175.53h3.57v1.05h-3.57zM173.72 172.48h2.07v1.05h-2.07zM177.19 193.81h2.07v1.05h-2.07zM176.44 187.72h3.57v1.05h-3.57zM176.44 181.62h3.57v1.05h-3.57zM176.44 178.58h3.57v1.05h-3.57zM176.44 175.53h3.57v1.05h-3.57zM176.44 172.48h3.57v1.05h-3.57zM179.91 178.58h3.57v1.05h-3.57zM180.66 175.53h2.07v1.05h-2.07zM179.91 172.48h3.57v1.05h-3.57zM179.91 169.44h3.57v1.05h-3.57zM180.66 166.39h2.07v1.05h-2.07zM184.12 187.72h2.07v1.05h-2.07zM183.37 181.62h3.57v1.05h-3.57zM183.37 178.58h3.57v1.05h-3.57zM183.37 175.53h3.57v1.05h-3.57zM183.37 172.48h3.57v1.05h-3.57zM183.37 169.44h3.57v1.05h-3.57zM184.12 166.39h2.07v1.05h-2.07zM187.59 187.72h2.07v1.05h-2.07zM186.84 184.67h3.57v1.05h-3.57zM186.84 181.62h3.57v1.05h-3.57zM186.84 178.58h3.57v1.05h-3.57zM186.84 175.53h3.57v1.05h-3.57zM186.84 172.48h3.57v1.05h-3.57zM186.84 169.44h3.57v1.05h-3.57zM187.59 166.39h2.07v1.05h-2.07zM191.06 187.72h2.07v1.05h-2.07zM190.31 181.62h3.57v1.05h-3.57zM190.31 178.58h3.57v1.05h-3.57zM190.31 175.53h3.57v1.05h-3.57zM190.31 172.48h3.57v1.05h-3.57zM191.06 166.39h2.07v1.05h-2.07zM194.53 187.72h2.07v1.05h-2.07zM193.78 181.62h3.57v1.05h-3.57zM194.53 178.58h2.07v1.05h-2.07zM193.78 175.53h3.57v1.05h-3.57zM193.78 172.48h3.57v1.05h-3.57zM193.78 163.34h3.57v1.05h-3.57zM198.00 187.72h2.07v1.05h-2.07zM197.25 175.53h3.57v1.05h-3.57zM197.25 172.48h3.57v1.05h-3.57zM198.00 169.44h2.07v1.05h-2.07zM197.25 166.39h3.57v1.05h-3.57zM197.25 163.34h3.57v1.05h-3.57zM198.00 160.29h2.07v1.05h-2.07zM201.46 187.72h2.07v1.05h-2.07zM201.46 178.58h2.07v1.05h-2.07zM200.71 175.53h3.57v1.05h-3.57zM200.71 172.48h3.57v1.05h-3.57zM200.71 166.39h3.57v1.05h-3.57zM200.71 163.34h3.57v1.05h-3.57zM201.46 160.29h2.07v1.05h-2.07zM204.18 175.53h3.57v1.05h-3.57zM204.18 172.48h3.57v1.05h-3.57zM204.18 166.39h3.57v1.05h-3.57zM204.18 163.34h3.57v1.05h-3.57zM207.65 175.53h3.57v1.05h-3.57zM207.65 172.48h3.57v1.05h-3.57zM207.65 169.44h3.57v1.05h-3.57zM207.65 166.39h3.57v1.05h-3.57zM207.65 163.34h3.57v1.05h-3.57zM211.87 181.62h2.07v1.05h-2.07zM211.12 175.53h3.57v1.05h-3.57zM211.12 172.48h3.57v1.05h-3.57zM211.12 169.44h3.57v1.05h-3.57zM211.12 166.39h3.57v1.05h-3.57zM211.87 163.34h2.07v1.05h-2.07zM215.34 184.67h2.07v1.05h-2.07zM214.59 172.48h3.57v1.05h-3.57zM214.59 169.44h3.57v1.05h-3.57zM214.59 166.39h3.57v1.05h-3.57zM215.34 163.34h2.07v1.05h-2.07zM215.34 160.29h2.07v1.05h-2.07zM218.80 181.62h2.07v1.05h-2.07zM218.05 172.48h3.57v1.05h-3.57zM218.05 169.44h3.57v1.05h-3.57zM218.05 166.39h3.57v1.05h-3.57zM218.80 163.34h2.07v1.05h-2.07zM218.05 160.29h3.57v1.05h-3.57zM222.27 181.62h2.07v1.05h-2.07zM221.52 172.48h3.57v1.05h-3.57zM221.52 169.44h3.57v1.05h-3.57zM221.52 166.39h3.57v1.05h-3.57zM222.27 163.34h2.07v1.05h-2.07zM221.52 160.29h3.57v1.05h-3.57zM225.74 184.67h2.07v1.05h-2.07zM225.74 175.53h2.07v1.05h-2.07zM224.99 169.44h3.57v1.05h-3.57zM224.99 166.39h3.57v1.05h-3.57zM224.99 160.29h3.57v1.05h-3.57zM229.21 175.53h2.07v1.05h-2.07zM228.46 169.44h3.57v1.05h-3.57zM228.46 166.39h3.57v1.05h-3.57zM228.46 163.34h3.57v1.05h-3.57zM228.46 160.29h3.57v1.05h-3.57zM232.68 175.53h2.07v1.05h-2.07zM231.93 163.34h3.57v1.05h-3.57zM231.93 160.29h3.57v1.05h-3.57zM235.39 163.34h3.57v1.05h-3.57zM239.61 178.58h2.07v1.05h-2.07zM239.61 175.53h2.07v1.05h-2.07zM238.86 163.34h3.57v1.05h-3.57zM238.86 160.29h3.57v1.05h-3.57zM242.33 181.62h3.57v1.05h-3.57zM243.08 178.58h2.07v1.05h-2.07zM242.33 163.34h3.57v1.05h-3.57zM242.33 160.29h3.57v1.05h-3.57zM245.80 181.62h3.57v1.05h-3.57zM246.55 169.44h2.07v1.05h-2.07zM245.80 163.34h3.57v1.05h-3.57zM245.80 160.29h3.57v1.05h-3.57zM249.27 181.62h3.57v1.05h-3.57zM250.02 178.58h2.07v1.05h-2.07zM250.02 169.44h2.07v1.05h-2.07zM250.02 160.29h2.07v1.05h-2.07zM249.27 157.25h3.57v1.05h-3.57z" fill="#8c8c8c"/>
<path d="M58.53 202.95h3.57v1.05h-3.57zM58.53 196.86h3.57v1.05h-3.57zM58.53 175.53h3.57v1.05h-3.57zM58.53 172.48h3.57v1.05h-3.57zM58.53 166.39h3.57v1.05h-3.57zM58.53 163.34h3.57v1.05h-3.57zM61.99 199.91h3.57v1.05h-3.57zM61.99 166.39h3.57v1.05h-3.57zM61.99 163.34h3.57v1.05h-3.57zM65.46 199.91h3.57v1.05h-3.57zM65.46 196.86h3.57v1.05h-3.57zM65.46 166.39h3.57v1.05h-3.57zM68.93 199.91h3.57v1.05h-3.57zM68.93 196.86h3.57v1.05h-3.57zM68.93 169.44h3.57v1.05h-3.57zM68.93 166.39h3.57v1.05h-3.57zM72.40 199.91h3.57v1.05h-3.57zM72.40 196.86h3.57v1.05h-3.57zM72.40 190.76h3.57v1.05h-3.57zM72.40 169.44h3.57v1.05h-3.57zM72.40 166.39h3.57v1.05h-3.57zM75.87 199.91h3.57v1.05h-3.57zM75.87 196.86h3.57v1.05h-3.57zM75.87 190.76h3.57v1.05h-3.57zM75.87 169.44h3.57v1.05h-3.57zM75.87 166.39h3.57v1.05h-3.57zM79.33 199.91h3.57v1.05h-3.57zM79.33 196.86h3.57v1.05h-3.57zM79.33 190.76h3.57v1.05h-3.57zM82.80 199.91h3.57v1.05h-3.57zM82.80 196.86h3.57v1.05h-3.57zM82.80 193.81h3.57v1.05h-3.57zM82.80 190.76h3.57v1.05h-3.57zM82.80 160.29h3.57v1.05h-3.57zM86.27 196.86h3.57v1.05h-3.57zM86.27 193.81h3.57v1.05h-3.57zM86.27 190.76h3.57v1.05h-3.57zM86.27 163.34h3.57v1.05h-3.57zM89.74 196.86h3.57v1.05h-3.57zM89.74 193.81h3.57v1.05h-3.57zM89.74 190.76h3.57v1.05h-3.57zM89.74 163.34h3.57v1.05h-3.57zM93.21 196.86h3.57v1.05h-3.57zM93.21 193.81h3.57v1.05h-3.57zM93.21 190.76h3.57v1.05h-3.57zM93.21 184.67h3.57v1.05h-3.57zM96.67 193.81h3.57v1.05h-3.57zM96.67 190.76h3.57v1.05h-3.57zM96.67 184.67h3.57v1.05h-3.57zM100.14 193.81h3.57v1.05h-3.57zM100.14 190.76h3.57v1.05h-3.57zM100.14 184.67h3.57v1.05h-3.57zM103.61 193.81h3.57v1.05h-3.57zM103.61 190.76h3.57v1.05h-3.57zM103.61 187.72h3.57v1.05h-3.57zM107.08 187.72h3.57v1.05h-3.57zM110.55 190.76h3.57v1.05h-3.57zM110.55 187.72h3.57v1.05h-3.57zM114.01 190.76h3.57v1.05h-3.57zM114.01 187.72h3.57v1.05h-3.57zM117.48 187.72h3.57v1.05h-3.57zM117.48 178.58h3.57v1.05h-3.57zM120.95 187.72h3.57v1.05h-3.57zM127.89 181.62h3.57v1.05h-3.57zM152.16 175.53h3.57v1.05h-3.57zM152.16 172.48h3.57v1.05h-3.57zM155.63 175.53h3.57v1.05h-3.57zM166.03 169.44h3.57v1.05h-3.57zM169.50 169.44h3.57v1.05h-3.57zM172.97 190.76h3.57v1.05h-3.57zM172.97 169.44h3.57v1.05h-3.57zM176.44 190.76h3.57v1.05h-3.57zM179.91 190.76h3.57v1.05h-3.57zM179.91 187.72h3.57v1.05h-3.57zM183.37 190.76h3.57v1.05h-3.57zM183.37 163.34h3.57v1.05h-3.57zM186.84 190.76h3.57v1.05h-3.57zM186.84 163.34h3.57v1.05h-3.57zM190.31 190.76h3.57v1.05h-3.57zM190.31 184.67h3.57v1.05h-3.57zM190.31 163.34h3.57v1.05h-3.57zM193.78 190.76h3.57v1.05h-3.57zM193.78 184.67h3.57v1.05h-3.57zM197.25 184.67h3.57v1.05h-3.57zM197.25 181.62h3.57v1.05h-3.57zM200.71 181.62h3.57v1.05h-3.57zM204.18 187.72h3.57v1.05h-3.57zM204.18 184.67h3.57v1.05h-3.57zM207.65 184.67h3.57v1.05h-3.57zM207.65 178.58h3.57v1.05h-3.57zM211.12 187.72h3.57v1.05h-3.57zM211.12 184.67h3.57v1.05h-3.57zM211.12 178.58h3.57v1.05h-3.57zM214.59 187.72h3.57v1.05h-3.57zM214.59 178.58h3.57v1.05h-3.57zM214.59 175.53h3.57v1.05h-3.57zM218.05 187.72h3.57v1.05h-3.57zM218.05 178.58h3.57v1.05h-3.57zM218.05 175.53h3.57v1.05h-3.57zM221.52 178.58h3.57v1.05h-3.57zM221.52 175.53h3.57v1.05h-3.57zM224.99 181.62h3.57v1.05h-3.57zM224.99 178.58h3.57v1.05h-3.57zM224.99 172.48h3.57v1.05h-3.57zM228.46 178.58h3.57v1.05h-3.57zM228.46 172.48h3.57v1.05h-3.57zM231.93 181.62h3.57v1.05h-3.57zM231.93 178.58h3.57v1.05h-3.57zM231.93 172.48h3.57v1.05h-3.57zM231.93 169.44h3.57v1.05h-3.57zM235.39 181.62h3.57v1.05h-3.57zM235.39 172.48h3.57v1.05h-3.57zM235.39 169.44h3.57v1.05h-3.57zM238.86 181.62h3.57v1.05h-3.57zM238.86 172.48h3.57v1.05h-3.57zM238.86 169.44h3.57v1.05h-3.57zM242.33 175.53h3.57v1.05h-3.57zM242.33 172.48h3.57v1.05h-3.57zM242.33 169.44h3.57v1.05h-3.57zM245.80 175.53h3.57v1.05h-3.57zM245.80 172.48h3.57v1.05h-3.57zM245.80 166.39h3.57v1.05h-3.57zM249.27 175.53h3.57v1.05h-3.57zM249.27 172.48h3.57v1.05h-3.57zM249.27 166.39h3.57v1.05h-3.57zM249.27 163.34h3.57v1.05h-3.57z" fill="#b4b4b4"/>
<path d="M63.14 196.86h1.27v1.05h-1.27zM70.08 163.34h1.27v1.05h-1.27zM73.55 181.62h1.27v1.05h-1.27zM80.48 172.48h1.27v1.05h-1.27zM83.95 184.67h1.27v1.05h-1.27zM83.95 175.53h1.27v1.05h-1.27zM87.42 178.58h1.27v1.05h-1.27zM101.29 169.44h1.27v1.05h-1.27zM177.59 169.44h1.27v1.05h-1.27zM181.06 181.62h1.27v1.05h-1.27zM191.46 169.44h1.27v1.05h-1.27zM201.86 184.67h1.27v1.05h-1.27zM205.33 178.58h1.27v1.05h-1.27zM208.80 187.72h1.27v1.05h-1.27zM219.20 184.67h1.27v1.05h-1.27zM229.61 181.62h1.27v1.05h-1.27zM236.54 175.53h1.27v1.05h-1.27zM236.54 160.29h1.27v1.05h-1.27zM243.48 166.39h1.27v1.05h-1.27z" fill="#c6c6c6"/>
<path d="M55.95 202.75h1.79v1.45h-1.79zM55.95 199.71h1.79v1.45h-1.79zM55.95 196.66h1.79v1.45h-1.79zM55.95 193.61h1.79v1.45h-1.79zM55.95 190.56h1.79v1.45h-1.79zM55.95 187.52h1.79v1.45h-1.79zM55.95 184.47h1.79v1.45h-1.79zM55.95 181.42h1.79v1.45h-1.79zM55.95 178.38h1.79v1.45h-1.79zM55.95 175.33h1.79v1.45h-1.79zM55.95 172.28h1.79v1.45h-1.79zM55.95 169.24h1.79v1.45h-1.79zM55.95 166.19h1.79v1.45h-1.79zM55.95 163.14h1.79v1.45h-1.79zM55.95 160.09h1.79v1.45h-1.79zM62.88 202.75h1.79v1.45h-1.79zM62.88 160.09h1.79v1.45h-1.79zM73.29 157.05h1.79v1.45h-1.79zM73.29 154.00h1.79v1.45h-1.79zM80.22 160.09h1.79v1.45h-1.79zM80.22 157.05h1.79v1.45h-1.79zM83.69 150.95h1.79v1.45h-1.79zM87.16 199.71h1.79v1.45h-1.79zM87.16 160.09h1.79v1.45h-1.79zM87.16 157.05h1.79v1.45h-1.79zM90.63 154.00h1.79v1.45h-1.79zM94.10 181.42h1.79v1.45h-1.79zM94.10 178.38h1.79v1.45h-1.79zM94.10 175.33h1.79v1.45h-1.79zM94.10 166.19h1.79v1.45h-1.79zM94.10 163.14h1.79v1.45h-1.79zM94.10 150.95h1.79v1.45h-1.79zM97.56 196.66h1.79v1.45h-1.79zM97.56 157.05h1.79v1.45h-1.79zM101.03 178.38h1.79v1.45h-1.79zM101.03 175.33h1.79v1.45h-1.79zM101.03 166.19h1.79v1.45h-1.79zM101.03 163.14h1.79v1.45h-1.79zM101.03 160.09h1.79v1.45h-1.79zM101.03 157.05h1.79v1.45h-1.79zM104.50 199.71h1.79v1.45h-1.79zM104.50 196.66h1.79v1.45h-1.79zM104.50 184.47h1.79v1.45h-1.79zM104.50 178.38h1.79v1.45h-1.79zM104.50 172.28h1.79v1.45h-1.79zM104.50 169.24h1.79v1.45h-1.79zM104.50 166.19h1.79v1.45h-1.79zM104.50 160.09h1.79v1.45h-1.79zM104.50 150.95h1.79v1.45h-1.79zM104.50 144.86h1.79v1.45h-1.79zM107.97 181.42h1.79v1.45h-1.79zM107.97 141.81h1.79v1.45h-1.79zM111.44 184.47h1.79v1.45h-1.79zM111.44 160.09h1.79v1.45h-1.79zM111.44 144.86h1.79v1.45h-1.79zM114.90 184.47h1.79v1.45h-1.79zM114.90 178.38h1.79v1.45h-1.79zM114.90 175.33h1.79v1.45h-1.79zM114.90 172.28h1.79v1.45h-1.79zM118.37 181.42h1.79v1.45h-1.79zM118.37 175.33h1.79v1.45h-1.79zM118.37 169.24h1.79v1.45h-1.79zM118.37 163.14h1.79v1.45h-1.79zM121.84 184.47h1.79v1.45h-1.79zM121.84 178.38h1.79v1.45h-1.79zM125.31 181.42h1.79v1.45h-1.79zM125.31 178.38h1.79v1.45h-1.79zM128.78 169.24h1.79v1.45h-1.79zM128.78 147.91h1.79v1.45h-1.79zM132.24 181.42h1.79v1.45h-1.79zM132.24 178.38h1.79v1.45h-1.79zM135.71 199.71h1.79v1.45h-1.79zM139.18 181.42h1.79v1.45h-1.79zM139.18 178.38h1.79v1.45h-1.79zM139.18 172.28h1.79v1.45h-1.79zM142.65 175.33h1.79v1.45h-1.79zM142.65 157.05h1.79v1.45h-1.79zM146.12 166.19h1.79v1.45h-1.79zM146.12 157.05h1.79v1.45h-1.79zM149.58 190.56h1.79v1.45h-1.79zM149.58 184.47h1.79v1.45h-1.79zM149.58 175.33h1.79v1.45h-1.79zM149.58 172.28h1.79v1.45h-1.79zM149.58 169.24h1.79v1.45h-1.79zM153.05 187.52h1.79v1.45h-1.79zM156.52 196.66h1.79v1.45h-1.79zM156.52 190.56h1.79v1.45h-1.79zM156.52 184.47h1.79v1.45h-1.79zM159.99 166.19h1.79v1.45h-1.79zM166.92 166.19h1.79v1.45h-1.79zM173.86 154.00h1.79v1.45h-1.79zM177.33 166.19h1.79v1.45h-1.79zM177.33 163.14h1.79v1.45h-1.79zM177.33 160.09h1.79v1.45h-1.79zM180.80 193.61h1.79v1.45h-1.79zM180.80 160.09h1.79v1.45h-1.79zM187.73 160.09h1.79v1.45h-1.79zM187.73 157.05h1.79v1.45h-1.79zM194.67 160.09h1.79v1.45h-1.79zM194.67 157.05h1.79v1.45h-1.79zM194.67 154.00h1.79v1.45h-1.79zM201.60 190.56h1.79v1.45h-1.79zM205.07 160.09h1.79v1.45h-1.79zM205.07 157.05h1.79v1.45h-1.79zM205.07 154.00h1.79v1.45h-1.79zM205.07 147.91h1.79v1.45h-1.79zM212.01 160.09h1.79v1.45h-1.79zM212.01 157.05h1.79v1.45h-1.79zM212.01 154.00h1.79v1.45h-1.79zM212.01 150.95h1.79v1.45h-1.79zM215.48 157.05h1.79v1.45h-1.79zM215.48 144.86h1.79v1.45h-1.79zM218.94 154.00h1.79v1.45h-1.79zM222.41 187.52h1.79v1.45h-1.79zM222.41 157.05h1.79v1.45h-1.79zM222.41 154.00h1.79v1.45h-1.79zM222.41 150.95h1.79v1.45h-1.79zM222.41 135.72h1.79v1.45h-1.79zM222.41 132.67h1.79v1.45h-1.79zM225.88 157.05h1.79v1.45h-1.79zM229.35 184.47h1.79v1.45h-1.79zM232.82 166.19h1.79v1.45h-1.79zM232.82 157.05h1.79v1.45h-1.79zM232.82 154.00h1.79v1.45h-1.79zM232.82 150.95h1.79v1.45h-1.79zM236.28 157.05h1.79v1.45h-1.79zM236.28 154.00h1.79v1.45h-1.79zM239.75 166.19h1.79v1.45h-1.79zM246.69 157.05h1.79v1.45h-1.79zM246.69 154.00h1.79v1.45h-1.79zM250.16 150.95h1.79v1.45h-1.79zM253.62 184.47h1.79v1.45h-1.79zM253.62 181.42h1.79v1.45h-1.79zM253.62 178.38h1.79v1.45h-1.79zM253.62 175.33h1.79v1.45h-1.79zM253.62 172.28h1.79v1.45h-1.79zM253.62 169.24h1.79v1.45h-1.79zM253.62 166.19h1.79v1.45h-1.79zM253.62 163.14h1.79v1.45h-1.79zM253.62 160.09h1.79v1.45h-1.79zM253.62 157.05h1.79v1.45h-1.79zM253.62 154.00h1.79v1.45h-1.79zM253.62 150.95h1.79v1.45h-1.79zM253.62 147.91h1.79v1.45h-1.79z" fill="#ffffff"/>
<polyline points="101,203.5 118.5,141.5 254.5,141.5" fill="none" stroke="#161616" stroke-width="1.5"/>
<line x1="35.80" y1="9.00" x2="35.80" y2="206.40" stroke="#161616" stroke-width="1.9" stroke-linecap="butt"/>
<line x1="34.90" y1="205.40" x2="257.00" y2="205.40" stroke="#161616" stroke-width="1.9" stroke-linecap="butt"/>
<line x1="36.00" y1="9.80" x2="257.00" y2="9.80" stroke="#161616" stroke-width="1.5" stroke-linecap="butt"/>
<line x1="256.10" y1="9.00" x2="256.10" y2="206.30" stroke="#161616" stroke-width="1.7" stroke-linecap="butt"/>
<line x1="30.80" y1="205.00" x2="35.80" y2="205.00" stroke="#161616" stroke-width="1.5" stroke-linecap="butt"/>
<line x1="34.40" y1="205.00" x2="34.40" y2="209.60" stroke="#161616" stroke-width="1.5" stroke-linecap="butt"/>
<line x1="30.80" y1="174.53" x2="35.80" y2="174.53" stroke="#161616" stroke-width="1.5" stroke-linecap="butt"/>
<line x1="69.08" y1="205.00" x2="69.08" y2="209.60" stroke="#161616" stroke-width="1.5" stroke-linecap="butt"/>
<line x1="30.80" y1="144.06" x2="35.80" y2="144.06" stroke="#161616" stroke-width="1.5" stroke-linecap="butt"/>
<line x1="103.76" y1="205.00" x2="103.76" y2="209.60" stroke="#161616" stroke-width="1.5" stroke-linecap="butt"/>
<line x1="30.80" y1="113.59" x2="35.80" y2="113.59" stroke="#161616" stroke-width="1.5" stroke-linecap="butt"/>
<line x1="138.44" y1="205.00" x2="138.44" y2="209.60" stroke="#161616" stroke-width="1.5" stroke-linecap="butt"/>
<line x1="30.80" y1="83.12" x2="35.80" y2="83.12" stroke="#161616" stroke-width="1.5" stroke-linecap="butt"/>
<line x1="173.12" y1="205.00" x2="173.12" y2="209.60" stroke="#161616" stroke-width="1.5" stroke-linecap="butt"/>
<line x1="30.80" y1="52.65" x2="35.80" y2="52.65" stroke="#161616" stroke-width="1.5" stroke-linecap="butt"/>
<line x1="207.80" y1="205.00" x2="207.80" y2="209.60" stroke="#161616" stroke-width="1.5" stroke-linecap="butt"/>
<line x1="30.80" y1="22.18" x2="35.80" y2="22.18" stroke="#161616" stroke-width="1.5" stroke-linecap="butt"/>
<line x1="242.48" y1="205.00" x2="242.48" y2="209.60" stroke="#161616" stroke-width="1.5" stroke-linecap="butt"/>
<text x="28.70" y="9.00" font-family="'Liberation Sans', sans-serif" font-size="13.1" font-weight="normal" text-anchor="middle" fill="#161616" stroke="#161616" stroke-width="0.32" transform="rotate(-90 28.70 9.00)">60</text>
<text x="28.70" y="43.00" font-family="'Liberation Sans', sans-serif" font-size="13.1" font-weight="normal" text-anchor="middle" fill="#161616" stroke="#161616" stroke-width="0.32" transform="rotate(-90 28.70 43.00)">50</text>
<text x="28.70" y="77.30" font-family="'Liberation Sans', sans-serif" font-size="13.1" font-weight="normal" text-anchor="middle" fill="#161616" stroke="#161616" stroke-width="0.32" transform="rotate(-90 28.70 77.30)">40</text>
<text x="28.70" y="112.00" font-family="'Liberation Sans', sans-serif" font-size="13.1" font-weight="normal" text-anchor="middle" fill="#161616" stroke="#161616" stroke-width="0.32" transform="rotate(-90 28.70 112.00)">30</text>
<text x="28.70" y="137.50" font-family="'Liberation Sans', sans-serif" font-size="13.1" font-weight="normal" text-anchor="middle" fill="#161616" stroke="#161616" stroke-width="0.32" transform="rotate(-90 28.70 137.50)">20</text>
<text x="28.70" y="172.30" font-family="'Liberation Sans', sans-serif" font-size="13.1" font-weight="normal" text-anchor="middle" fill="#161616" stroke="#161616" stroke-width="0.32" transform="rotate(-90 28.70 172.30)">10</text>
<text x="28.70" y="200.20" font-family="'Liberation Sans', sans-serif" font-size="13.1" font-weight="normal" text-anchor="middle" fill="#161616" stroke="#161616" stroke-width="0.32" transform="rotate(-90 28.70 200.20)">0</text>
<text x="34.50" y="220.20" font-family="'Liberation Sans', sans-serif" font-size="12.9" font-weight="normal" text-anchor="start" fill="#161616" stroke="#161616" stroke-width="0.32">0</text>
<text x="69.18" y="220.20" font-family="'Liberation Sans', sans-serif" font-size="12.9" font-weight="normal" text-anchor="start" fill="#161616" stroke="#161616" stroke-width="0.32">10</text>
<text x="103.86" y="220.20" font-family="'Liberation Sans', sans-serif" font-size="12.9" font-weight="normal" text-anchor="start" fill="#161616" stroke="#161616" stroke-width="0.32">20</text>
<text x="138.54" y="220.20" font-family="'Liberation Sans', sans-serif" font-size="12.9" font-weight="normal" text-anchor="start" fill="#161616" stroke="#161616" stroke-width="0.32">30</text>
<text x="173.22" y="220.20" font-family="'Liberation Sans', sans-serif" font-size="12.9" font-weight="normal" text-anchor="start" fill="#161616" stroke="#161616" stroke-width="0.32">40</text>
<text x="207.90" y="220.20" font-family="'Liberation Sans', sans-serif" font-size="12.9" font-weight="normal" text-anchor="start" fill="#161616" stroke="#161616" stroke-width="0.32">50</text>
<text x="242.58" y="220.20" font-family="'Liberation Sans', sans-serif" font-size="12.9" font-weight="normal" text-anchor="start" fill="#161616" stroke="#161616" stroke-width="0.32">60</text>
<text x="139.30" y="231.60" font-family="'Liberation Serif', serif" font-size="12.9" font-weight="bold" text-anchor="start" fill="#161616" stroke="#161616" stroke-width="0.22">FSC</text>
<text x="9.30" y="109.60" font-family="'Liberation Serif', serif" font-size="12" font-weight="bold" text-anchor="middle" fill="#161616" stroke="#161616" stroke-width="0.22" transform="rotate(-90 9.30 109.60)">SSC</text>
<text x="59.30" y="36.60" font-family="'Liberation Serif', serif" font-size="15" font-weight="bold" text-anchor="start" fill="#161616" stroke="#161616" stroke-width="0.22">CD34<tspan font-size="10" dy="-5">+</tspan><tspan dy="5"> cells</tspan></text>
<text x="131.60" y="133.30" font-family="'Liberation Serif', serif" font-size="15.2" font-weight="bold" text-anchor="start" fill="#161616" stroke="#161616" stroke-width="0.22">R1</text>
<text x="0.30" y="19.20" font-family="'Liberation Sans', sans-serif" font-size="25.5" font-weight="bold" text-anchor="start" fill="#161616" stroke="#161616" stroke-width="0.22">A</text>
<path d="M296.20 194.53h3.82v3.42h-3.82zM296.20 191.51h3.82v3.42h-3.82zM296.20 188.49h3.82v3.42h-3.82zM296.20 185.47h3.82v3.42h-3.82zM296.20 182.45h3.82v3.42h-3.82zM296.20 179.42h3.82v3.42h-3.82zM296.20 176.40h3.82v3.42h-3.82zM296.20 173.38h3.82v3.42h-3.82zM296.20 170.36h3.82v3.42h-3.82zM296.20 167.34h3.82v3.42h-3.82zM296.20 164.31h3.82v3.42h-3.82zM299.62 197.56h3.82v3.42h-3.82zM299.62 194.53h3.82v3.42h-3.82zM299.62 191.51h3.82v3.42h-3.82zM299.62 188.49h3.82v3.42h-3.82zM299.62 185.47h3.82v3.42h-3.82zM299.62 182.45h3.82v3.42h-3.82zM299.62 179.42h3.82v3.42h-3.82zM299.62 176.40h3.82v3.42h-3.82zM299.62 173.38h3.82v3.42h-3.82zM299.62 170.36h3.82v3.42h-3.82zM303.05 197.56h3.82v3.42h-3.82zM303.05 194.53h3.82v3.42h-3.82zM303.05 191.51h3.82v3.42h-3.82zM303.05 188.49h3.82v3.42h-3.82zM303.05 185.47h3.82v3.42h-3.82zM303.05 182.45h3.82v3.42h-3.82zM303.05 179.42h3.82v3.42h-3.82zM303.05 176.40h3.82v3.42h-3.82zM303.05 173.38h3.82v3.42h-3.82zM303.05 170.36h3.82v3.42h-3.82zM303.05 167.34h3.82v3.42h-3.82zM306.47 197.56h3.82v3.42h-3.82zM306.47 194.53h3.82v3.42h-3.82zM306.47 191.51h3.82v3.42h-3.82zM306.47 188.49h3.82v3.42h-3.82zM306.47 185.47h3.82v3.42h-3.82zM306.47 182.45h3.82v3.42h-3.82zM306.47 179.42h3.82v3.42h-3.82zM306.47 176.40h3.82v3.42h-3.82zM306.47 173.38h3.82v3.42h-3.82zM306.47 170.36h3.82v3.42h-3.82zM306.47 167.34h3.82v3.42h-3.82zM306.47 164.31h3.82v3.42h-3.82zM309.89 197.56h3.82v3.42h-3.82zM309.89 194.53h3.82v3.42h-3.82zM309.89 191.51h3.82v3.42h-3.82zM309.89 188.49h3.82v3.42h-3.82zM309.89 185.47h3.82v3.42h-3.82zM309.89 182.45h3.82v3.42h-3.82zM309.89 179.42h3.82v3.42h-3.82zM309.89 176.40h3.82v3.42h-3.82zM309.89 173.38h3.82v3.42h-3.82zM309.89 170.36h3.82v3.42h-3.82zM309.89 167.34h3.82v3.42h-3.82zM309.89 164.31h3.82v3.42h-3.82zM313.31 197.56h3.82v3.42h-3.82zM313.31 194.53h3.82v3.42h-3.82zM313.31 191.51h3.82v3.42h-3.82zM313.31 188.49h3.82v3.42h-3.82zM313.31 185.47h3.82v3.42h-3.82zM313.31 182.45h3.82v3.42h-3.82zM313.31 179.42h3.82v3.42h-3.82zM313.31 176.40h3.82v3.42h-3.82zM313.31 173.38h3.82v3.42h-3.82zM313.31 170.36h3.82v3.42h-3.82zM313.31 167.34h3.82v3.42h-3.82zM313.31 164.31h3.82v3.42h-3.82zM313.31 161.29h3.82v3.42h-3.82zM316.74 197.56h3.82v3.42h-3.82zM316.74 194.53h3.82v3.42h-3.82zM316.74 191.51h3.82v3.42h-3.82zM316.74 188.49h3.82v3.42h-3.82zM316.74 185.47h3.82v3.42h-3.82zM316.74 182.45h3.82v3.42h-3.82zM316.74 179.42h3.82v3.42h-3.82zM316.74 176.40h3.82v3.42h-3.82zM316.74 173.38h3.82v3.42h-3.82zM316.74 170.36h3.82v3.42h-3.82zM316.74 167.34h3.82v3.42h-3.82zM316.74 164.31h3.82v3.42h-3.82zM320.16 194.53h3.82v3.42h-3.82zM320.16 191.51h3.82v3.42h-3.82zM320.16 188.49h3.82v3.42h-3.82zM320.16 185.47h3.82v3.42h-3.82zM320.16 182.45h3.82v3.42h-3.82zM320.16 179.42h3.82v3.42h-3.82zM320.16 176.40h3.82v3.42h-3.82zM320.16 173.38h3.82v3.42h-3.82zM320.16 170.36h3.82v3.42h-3.82zM320.16 167.34h3.82v3.42h-3.82zM320.16 164.31h3.82v3.42h-3.82zM323.58 197.56h3.82v3.42h-3.82zM323.58 194.53h3.82v3.42h-3.82zM323.58 191.51h3.82v3.42h-3.82zM323.58 188.49h3.82v3.42h-3.82zM323.58 185.47h3.82v3.42h-3.82zM323.58 182.45h3.82v3.42h-3.82zM323.58 179.42h3.82v3.42h-3.82zM323.58 176.40h3.82v3.42h-3.82zM323.58 173.38h3.82v3.42h-3.82zM323.58 170.36h3.82v3.42h-3.82zM323.58 167.34h3.82v3.42h-3.82zM323.58 164.31h3.82v3.42h-3.82zM327.01 197.56h3.82v3.42h-3.82zM327.01 194.53h3.82v3.42h-3.82zM327.01 191.51h3.82v3.42h-3.82zM327.01 188.49h3.82v3.42h-3.82zM327.01 185.47h3.82v3.42h-3.82zM327.01 182.45h3.82v3.42h-3.82zM327.01 179.42h3.82v3.42h-3.82zM327.01 176.40h3.82v3.42h-3.82zM327.01 173.38h3.82v3.42h-3.82zM327.01 170.36h3.82v3.42h-3.82zM327.01 167.34h3.82v3.42h-3.82zM327.01 164.31h3.82v3.42h-3.82zM327.01 161.29h3.82v3.42h-3.82zM330.43 197.56h3.82v3.42h-3.82zM330.43 194.53h3.82v3.42h-3.82zM330.43 191.51h3.82v3.42h-3.82zM330.43 188.49h3.82v3.42h-3.82zM330.43 185.47h3.82v3.42h-3.82zM330.43 182.45h3.82v3.42h-3.82zM330.43 179.42h3.82v3.42h-3.82zM330.43 176.40h3.82v3.42h-3.82zM330.43 173.38h3.82v3.42h-3.82zM330.43 170.36h3.82v3.42h-3.82zM330.43 167.34h3.82v3.42h-3.82zM330.43 164.31h3.82v3.42h-3.82zM330.43 161.29h3.82v3.42h-3.82zM330.43 158.27h3.82v3.42h-3.82zM333.85 194.53h3.82v3.42h-3.82zM333.85 191.51h3.82v3.42h-3.82zM333.85 188.49h3.82v3.42h-3.82zM333.85 185.47h3.82v3.42h-3.82zM333.85 182.45h3.82v3.42h-3.82zM333.85 179.42h3.82v3.42h-3.82zM333.85 176.40h3.82v3.42h-3.82zM333.85 173.38h3.82v3.42h-3.82zM333.85 170.36h3.82v3.42h-3.82zM333.85 167.34h3.82v3.42h-3.82zM333.85 164.31h3.82v3.42h-3.82zM333.85 161.29h3.82v3.42h-3.82zM333.85 158.27h3.82v3.42h-3.82zM337.28 194.53h3.82v3.42h-3.82zM337.28 191.51h3.82v3.42h-3.82zM337.28 188.49h3.82v3.42h-3.82zM337.28 185.47h3.82v3.42h-3.82zM337.28 182.45h3.82v3.42h-3.82zM337.28 179.42h3.82v3.42h-3.82zM337.28 176.40h3.82v3.42h-3.82zM337.28 173.38h3.82v3.42h-3.82zM337.28 170.36h3.82v3.42h-3.82zM337.28 167.34h3.82v3.42h-3.82zM337.28 164.31h3.82v3.42h-3.82zM337.28 161.29h3.82v3.42h-3.82zM337.28 158.27h3.82v3.42h-3.82zM340.70 194.53h3.82v3.42h-3.82zM340.70 191.51h3.82v3.42h-3.82zM340.70 188.49h3.82v3.42h-3.82zM340.70 185.47h3.82v3.42h-3.82zM340.70 182.45h3.82v3.42h-3.82zM340.70 179.42h3.82v3.42h-3.82zM340.70 176.40h3.82v3.42h-3.82zM340.70 173.38h3.82v3.42h-3.82zM340.70 170.36h3.82v3.42h-3.82zM340.70 167.34h3.82v3.42h-3.82zM340.70 164.31h3.82v3.42h-3.82zM340.70 161.29h3.82v3.42h-3.82zM340.70 158.27h3.82v3.42h-3.82zM344.12 194.53h3.82v3.42h-3.82zM344.12 191.51h3.82v3.42h-3.82zM344.12 188.49h3.82v3.42h-3.82zM344.12 185.47h3.82v3.42h-3.82zM344.12 182.45h3.82v3.42h-3.82zM344.12 179.42h3.82v3.42h-3.82zM344.12 176.40h3.82v3.42h-3.82zM344.12 173.38h3.82v3.42h-3.82zM344.12 170.36h3.82v3.42h-3.82zM344.12 167.34h3.82v3.42h-3.82zM344.12 164.31h3.82v3.42h-3.82zM344.12 161.29h3.82v3.42h-3.82zM344.12 158.27h3.82v3.42h-3.82zM347.55 194.53h3.82v3.42h-3.82zM347.55 191.51h3.82v3.42h-3.82zM347.55 188.49h3.82v3.42h-3.82zM347.55 185.47h3.82v3.42h-3.82zM347.55 182.45h3.82v3.42h-3.82zM347.55 179.42h3.82v3.42h-3.82zM347.55 176.40h3.82v3.42h-3.82zM347.55 173.38h3.82v3.42h-3.82zM347.55 170.36h3.82v3.42h-3.82zM347.55 167.34h3.82v3.42h-3.82zM347.55 164.31h3.82v3.42h-3.82zM347.55 161.29h3.82v3.42h-3.82zM347.55 158.27h3.82v3.42h-3.82zM350.97 191.51h3.82v3.42h-3.82zM350.97 188.49h3.82v3.42h-3.82zM350.97 185.47h3.82v3.42h-3.82zM350.97 182.45h3.82v3.42h-3.82zM350.97 179.42h3.82v3.42h-3.82zM350.97 176.40h3.82v3.42h-3.82zM350.97 173.38h3.82v3.42h-3.82zM350.97 170.36h3.82v3.42h-3.82zM350.97 167.34h3.82v3.42h-3.82zM350.97 164.31h3.82v3.42h-3.82zM350.97 161.29h3.82v3.42h-3.82zM354.39 191.51h3.82v3.42h-3.82zM354.39 188.49h3.82v3.42h-3.82zM354.39 185.47h3.82v3.42h-3.82zM354.39 182.45h3.82v3.42h-3.82zM354.39 179.42h3.82v3.42h-3.82zM354.39 176.40h3.82v3.42h-3.82zM354.39 173.38h3.82v3.42h-3.82zM354.39 170.36h3.82v3.42h-3.82zM354.39 167.34h3.82v3.42h-3.82zM354.39 164.31h3.82v3.42h-3.82zM354.39 161.29h3.82v3.42h-3.82zM354.39 158.27h3.82v3.42h-3.82zM354.39 155.25h3.82v3.42h-3.82zM357.81 188.49h3.82v3.42h-3.82zM357.81 185.47h3.82v3.42h-3.82zM357.81 182.45h3.82v3.42h-3.82zM357.81 179.42h3.82v3.42h-3.82zM357.81 176.40h3.82v3.42h-3.82zM357.81 173.38h3.82v3.42h-3.82zM357.81 170.36h3.82v3.42h-3.82zM357.81 167.34h3.82v3.42h-3.82zM357.81 164.31h3.82v3.42h-3.82zM357.81 161.29h3.82v3.42h-3.82zM357.81 158.27h3.82v3.42h-3.82zM361.24 188.49h3.82v3.42h-3.82zM361.24 185.47h3.82v3.42h-3.82zM361.24 182.45h3.82v3.42h-3.82zM361.24 179.42h3.82v3.42h-3.82zM361.24 176.40h3.82v3.42h-3.82zM361.24 173.38h3.82v3.42h-3.82zM361.24 170.36h3.82v3.42h-3.82zM361.24 167.34h3.82v3.42h-3.82zM361.24 164.31h3.82v3.42h-3.82zM361.24 161.29h3.82v3.42h-3.82zM361.24 158.27h3.82v3.42h-3.82zM364.66 188.49h3.82v3.42h-3.82zM364.66 185.47h3.82v3.42h-3.82zM364.66 182.45h3.82v3.42h-3.82zM364.66 179.42h3.82v3.42h-3.82zM364.66 176.40h3.82v3.42h-3.82zM364.66 173.38h3.82v3.42h-3.82zM364.66 170.36h3.82v3.42h-3.82zM364.66 167.34h3.82v3.42h-3.82zM364.66 164.31h3.82v3.42h-3.82zM364.66 161.29h3.82v3.42h-3.82zM364.66 152.23h3.82v3.42h-3.82zM368.08 188.49h3.82v3.42h-3.82zM368.08 185.47h3.82v3.42h-3.82zM368.08 182.45h3.82v3.42h-3.82zM368.08 179.42h3.82v3.42h-3.82zM368.08 176.40h3.82v3.42h-3.82zM368.08 173.38h3.82v3.42h-3.82zM368.08 170.36h3.82v3.42h-3.82zM368.08 167.34h3.82v3.42h-3.82zM368.08 164.31h3.82v3.42h-3.82zM368.08 161.29h3.82v3.42h-3.82zM368.08 158.27h3.82v3.42h-3.82zM368.08 152.23h3.82v3.42h-3.82zM371.51 188.49h3.82v3.42h-3.82zM371.51 185.47h3.82v3.42h-3.82zM371.51 182.45h3.82v3.42h-3.82zM371.51 179.42h3.82v3.42h-3.82zM371.51 176.40h3.82v3.42h-3.82zM371.51 173.38h3.82v3.42h-3.82zM371.51 170.36h3.82v3.42h-3.82zM371.51 167.34h3.82v3.42h-3.82zM371.51 164.31h3.82v3.42h-3.82zM371.51 161.29h3.82v3.42h-3.82zM371.51 158.27h3.82v3.42h-3.82zM374.93 182.45h3.82v3.42h-3.82zM374.93 179.42h3.82v3.42h-3.82zM374.93 176.40h3.82v3.42h-3.82zM374.93 173.38h3.82v3.42h-3.82zM374.93 170.36h3.82v3.42h-3.82zM374.93 167.34h3.82v3.42h-3.82zM374.93 164.31h3.82v3.42h-3.82zM374.93 161.29h3.82v3.42h-3.82zM374.93 158.27h3.82v3.42h-3.82zM374.93 155.25h3.82v3.42h-3.82zM374.93 152.23h3.82v3.42h-3.82zM378.35 185.47h3.82v3.42h-3.82zM378.35 182.45h3.82v3.42h-3.82zM378.35 179.42h3.82v3.42h-3.82zM378.35 176.40h3.82v3.42h-3.82zM378.35 173.38h3.82v3.42h-3.82zM378.35 170.36h3.82v3.42h-3.82zM378.35 167.34h3.82v3.42h-3.82zM378.35 164.31h3.82v3.42h-3.82zM378.35 161.29h3.82v3.42h-3.82zM378.35 158.27h3.82v3.42h-3.82zM378.35 155.25h3.82v3.42h-3.82zM381.77 179.42h3.82v3.42h-3.82zM381.77 176.40h3.82v3.42h-3.82zM381.77 173.38h3.82v3.42h-3.82zM381.77 170.36h3.82v3.42h-3.82zM381.77 167.34h3.82v3.42h-3.82zM381.77 164.31h3.82v3.42h-3.82zM381.77 161.29h3.82v3.42h-3.82zM381.77 158.27h3.82v3.42h-3.82zM381.77 155.25h3.82v3.42h-3.82zM385.20 185.47h3.82v3.42h-3.82zM385.20 182.45h3.82v3.42h-3.82zM385.20 179.42h3.82v3.42h-3.82zM385.20 176.40h3.82v3.42h-3.82zM385.20 173.38h3.82v3.42h-3.82zM385.20 170.36h3.82v3.42h-3.82zM385.20 167.34h3.82v3.42h-3.82zM385.20 164.31h3.82v3.42h-3.82zM385.20 161.29h3.82v3.42h-3.82zM385.20 158.27h3.82v3.42h-3.82zM385.20 155.25h3.82v3.42h-3.82zM385.20 152.23h3.82v3.42h-3.82zM388.62 179.42h3.82v3.42h-3.82zM388.62 176.40h3.82v3.42h-3.82zM388.62 173.38h3.82v3.42h-3.82zM388.62 170.36h3.82v3.42h-3.82zM388.62 167.34h3.82v3.42h-3.82zM388.62 164.31h3.82v3.42h-3.82zM388.62 161.29h3.82v3.42h-3.82zM388.62 158.27h3.82v3.42h-3.82zM388.62 155.25h3.82v3.42h-3.82zM388.62 152.23h3.82v3.42h-3.82zM392.04 176.40h3.82v3.42h-3.82zM392.04 173.38h3.82v3.42h-3.82zM392.04 170.36h3.82v3.42h-3.82zM392.04 167.34h3.82v3.42h-3.82zM392.04 164.31h3.82v3.42h-3.82zM392.04 161.29h3.82v3.42h-3.82zM392.04 158.27h3.82v3.42h-3.82zM392.04 155.25h3.82v3.42h-3.82zM392.04 152.23h3.82v3.42h-3.82zM395.47 173.38h3.82v3.42h-3.82zM395.47 170.36h3.82v3.42h-3.82zM395.47 167.34h3.82v3.42h-3.82zM395.47 164.31h3.82v3.42h-3.82zM395.47 161.29h3.82v3.42h-3.82zM395.47 158.27h3.82v3.42h-3.82zM395.47 155.25h3.82v3.42h-3.82zM395.47 152.23h3.82v3.42h-3.82zM398.89 170.36h3.82v3.42h-3.82zM398.89 167.34h3.82v3.42h-3.82zM398.89 164.31h3.82v3.42h-3.82zM398.89 161.29h3.82v3.42h-3.82zM398.89 158.27h3.82v3.42h-3.82zM398.89 155.25h3.82v3.42h-3.82zM402.31 161.29h3.82v3.42h-3.82zM402.31 158.27h3.82v3.42h-3.82zM402.31 155.25h3.82v3.42h-3.82zM405.74 161.29h3.82v3.42h-3.82zM405.74 158.27h3.82v3.42h-3.82zM405.74 155.25h3.82v3.42h-3.82z" fill="#161616"/>
<path d="M299.77 180.62h3.52v1.02h-3.52zM300.52 177.60h2.02v1.02h-2.02zM299.77 174.58h3.52v1.02h-3.52zM299.77 171.56h3.52v1.02h-3.52zM303.20 198.76h3.52v1.02h-3.52zM303.95 189.69h2.02v1.02h-2.02zM303.95 186.67h2.02v1.02h-2.02zM303.20 180.62h3.52v1.02h-3.52zM303.20 177.60h3.52v1.02h-3.52zM303.20 174.58h3.52v1.02h-3.52zM303.20 171.56h3.52v1.02h-3.52zM306.62 198.76h3.52v1.02h-3.52zM306.62 195.73h3.52v1.02h-3.52zM307.37 189.69h2.02v1.02h-2.02zM306.62 177.60h3.52v1.02h-3.52zM306.62 174.58h3.52v1.02h-3.52zM306.62 171.56h3.52v1.02h-3.52zM307.37 168.54h2.02v1.02h-2.02zM310.04 198.76h3.52v1.02h-3.52zM310.04 195.73h3.52v1.02h-3.52zM310.04 177.60h3.52v1.02h-3.52zM310.04 174.58h3.52v1.02h-3.52zM310.04 171.56h3.52v1.02h-3.52zM310.04 168.54h3.52v1.02h-3.52zM310.04 165.51h3.52v1.02h-3.52zM313.46 198.76h3.52v1.02h-3.52zM313.46 195.73h3.52v1.02h-3.52zM314.21 189.69h2.02v1.02h-2.02zM314.21 180.62h2.02v1.02h-2.02zM313.46 177.60h3.52v1.02h-3.52zM313.46 174.58h3.52v1.02h-3.52zM313.46 171.56h3.52v1.02h-3.52zM313.46 168.54h3.52v1.02h-3.52zM313.46 165.51h3.52v1.02h-3.52zM316.89 195.73h3.52v1.02h-3.52zM316.89 192.71h3.52v1.02h-3.52zM316.89 174.58h3.52v1.02h-3.52zM316.89 171.56h3.52v1.02h-3.52zM316.89 168.54h3.52v1.02h-3.52zM316.89 165.51h3.52v1.02h-3.52zM320.31 195.73h3.52v1.02h-3.52zM320.31 192.71h3.52v1.02h-3.52zM321.06 183.65h2.02v1.02h-2.02zM321.06 180.62h2.02v1.02h-2.02zM320.31 174.58h3.52v1.02h-3.52zM320.31 171.56h3.52v1.02h-3.52zM320.31 168.54h3.52v1.02h-3.52zM320.31 165.51h3.52v1.02h-3.52zM323.73 195.73h3.52v1.02h-3.52zM323.73 192.71h3.52v1.02h-3.52zM323.73 189.69h3.52v1.02h-3.52zM324.48 183.65h2.02v1.02h-2.02zM323.73 168.54h3.52v1.02h-3.52zM323.73 165.51h3.52v1.02h-3.52zM327.16 198.76h3.52v1.02h-3.52zM327.16 195.73h3.52v1.02h-3.52zM327.16 192.71h3.52v1.02h-3.52zM327.16 189.69h3.52v1.02h-3.52zM327.91 183.65h2.02v1.02h-2.02zM327.91 174.58h2.02v1.02h-2.02zM327.16 171.56h3.52v1.02h-3.52zM327.16 168.54h3.52v1.02h-3.52zM327.16 165.51h3.52v1.02h-3.52zM330.58 195.73h3.52v1.02h-3.52zM330.58 192.71h3.52v1.02h-3.52zM330.58 189.69h3.52v1.02h-3.52zM331.33 183.65h2.02v1.02h-2.02zM331.33 174.58h2.02v1.02h-2.02zM330.58 171.56h3.52v1.02h-3.52zM330.58 168.54h3.52v1.02h-3.52zM330.58 165.51h3.52v1.02h-3.52zM330.58 162.49h3.52v1.02h-3.52zM334.75 195.73h2.02v1.02h-2.02zM334.00 192.71h3.52v1.02h-3.52zM334.00 189.69h3.52v1.02h-3.52zM334.75 183.65h2.02v1.02h-2.02zM334.75 174.58h2.02v1.02h-2.02zM334.00 168.54h3.52v1.02h-3.52zM334.00 165.51h3.52v1.02h-3.52zM334.00 162.49h3.52v1.02h-3.52zM334.00 159.47h3.52v1.02h-3.52zM337.43 192.71h3.52v1.02h-3.52zM337.43 186.67h3.52v1.02h-3.52zM338.18 177.60h2.02v1.02h-2.02zM338.18 174.58h2.02v1.02h-2.02zM337.43 168.54h3.52v1.02h-3.52zM337.43 165.51h3.52v1.02h-3.52zM337.43 162.49h3.52v1.02h-3.52zM337.43 159.47h3.52v1.02h-3.52zM340.85 192.71h3.52v1.02h-3.52zM340.85 189.69h3.52v1.02h-3.52zM341.60 186.67h2.02v1.02h-2.02zM340.85 183.65h3.52v1.02h-3.52zM341.60 177.60h2.02v1.02h-2.02zM341.60 174.58h2.02v1.02h-2.02zM340.85 165.51h3.52v1.02h-3.52zM340.85 162.49h3.52v1.02h-3.52zM340.85 159.47h3.52v1.02h-3.52zM344.27 192.71h3.52v1.02h-3.52zM344.27 189.69h3.52v1.02h-3.52zM345.02 186.67h2.02v1.02h-2.02zM344.27 183.65h3.52v1.02h-3.52zM344.27 165.51h3.52v1.02h-3.52zM344.27 162.49h3.52v1.02h-3.52zM344.27 159.47h3.52v1.02h-3.52zM347.69 192.71h3.52v1.02h-3.52zM347.69 189.69h3.52v1.02h-3.52zM347.69 186.67h3.52v1.02h-3.52zM347.69 183.65h3.52v1.02h-3.52zM348.44 177.60h2.02v1.02h-2.02zM347.69 165.51h3.52v1.02h-3.52zM347.69 162.49h3.52v1.02h-3.52zM351.12 192.71h3.52v1.02h-3.52zM351.12 189.69h3.52v1.02h-3.52zM351.12 186.67h3.52v1.02h-3.52zM351.12 183.65h3.52v1.02h-3.52zM351.12 180.62h3.52v1.02h-3.52zM351.87 177.60h2.02v1.02h-2.02zM351.87 168.54h2.02v1.02h-2.02zM351.12 162.49h3.52v1.02h-3.52zM354.54 189.69h3.52v1.02h-3.52zM354.54 186.67h3.52v1.02h-3.52zM354.54 183.65h3.52v1.02h-3.52zM355.29 177.60h2.02v1.02h-2.02zM354.54 162.49h3.52v1.02h-3.52zM358.71 189.69h2.02v1.02h-2.02zM357.96 186.67h3.52v1.02h-3.52zM357.96 183.65h3.52v1.02h-3.52zM358.71 180.62h2.02v1.02h-2.02zM357.96 177.60h3.52v1.02h-3.52zM358.71 171.56h2.02v1.02h-2.02zM358.71 168.54h2.02v1.02h-2.02zM358.71 159.47h2.02v1.02h-2.02zM361.39 186.67h3.52v1.02h-3.52zM361.39 183.65h3.52v1.02h-3.52zM361.39 177.60h3.52v1.02h-3.52zM362.14 171.56h2.02v1.02h-2.02zM364.81 189.69h3.52v1.02h-3.52zM364.81 186.67h3.52v1.02h-3.52zM364.81 183.65h3.52v1.02h-3.52zM364.81 177.60h3.52v1.02h-3.52zM368.23 189.69h3.52v1.02h-3.52zM368.23 186.67h3.52v1.02h-3.52zM368.23 183.65h3.52v1.02h-3.52zM368.23 177.60h3.52v1.02h-3.52zM368.23 174.58h3.52v1.02h-3.52zM368.98 171.56h2.02v1.02h-2.02zM371.66 183.65h3.52v1.02h-3.52zM371.66 180.62h3.52v1.02h-3.52zM371.66 177.60h3.52v1.02h-3.52zM372.41 171.56h2.02v1.02h-2.02zM372.41 162.49h2.02v1.02h-2.02zM375.08 183.65h3.52v1.02h-3.52zM375.08 180.62h3.52v1.02h-3.52zM375.08 177.60h3.52v1.02h-3.52zM375.83 174.58h2.02v1.02h-2.02zM378.50 180.62h3.52v1.02h-3.52zM378.50 177.60h3.52v1.02h-3.52zM378.50 171.56h3.52v1.02h-3.52zM379.25 165.51h2.02v1.02h-2.02zM381.92 180.62h3.52v1.02h-3.52zM381.92 177.60h3.52v1.02h-3.52zM381.92 171.56h3.52v1.02h-3.52zM385.35 180.62h3.52v1.02h-3.52zM385.35 177.60h3.52v1.02h-3.52zM385.35 171.56h3.52v1.02h-3.52zM385.35 168.54h3.52v1.02h-3.52zM388.77 177.60h3.52v1.02h-3.52zM388.77 174.58h3.52v1.02h-3.52zM392.19 174.58h3.52v1.02h-3.52zM392.19 171.56h3.52v1.02h-3.52zM392.94 168.54h2.02v1.02h-2.02zM392.94 165.51h2.02v1.02h-2.02zM395.62 171.56h3.52v1.02h-3.52zM396.37 168.54h2.02v1.02h-2.02zM399.79 159.47h2.02v1.02h-2.02zM402.46 162.49h3.52v1.02h-3.52z" fill="#8c8c8c"/>
<path d="M299.77 195.73h3.52v1.02h-3.52zM299.77 192.71h3.52v1.02h-3.52zM299.77 183.65h3.52v1.02h-3.52zM303.20 195.73h3.52v1.02h-3.52zM303.20 192.71h3.52v1.02h-3.52zM303.20 183.65h3.52v1.02h-3.52zM306.62 192.71h3.52v1.02h-3.52zM306.62 186.67h3.52v1.02h-3.52zM306.62 183.65h3.52v1.02h-3.52zM310.04 192.71h3.52v1.02h-3.52zM310.04 186.67h3.52v1.02h-3.52zM310.04 183.65h3.52v1.02h-3.52zM313.46 192.71h3.52v1.02h-3.52zM313.46 183.65h3.52v1.02h-3.52zM316.89 189.69h3.52v1.02h-3.52zM316.89 186.67h3.52v1.02h-3.52zM316.89 177.60h3.52v1.02h-3.52zM320.31 189.69h3.52v1.02h-3.52zM320.31 186.67h3.52v1.02h-3.52zM320.31 177.60h3.52v1.02h-3.52zM323.73 186.67h3.52v1.02h-3.52zM323.73 177.60h3.52v1.02h-3.52zM323.73 174.58h3.52v1.02h-3.52zM327.16 186.67h3.52v1.02h-3.52zM327.16 180.62h3.52v1.02h-3.52zM327.16 177.60h3.52v1.02h-3.52zM330.58 186.67h3.52v1.02h-3.52zM330.58 180.62h3.52v1.02h-3.52zM330.58 177.60h3.52v1.02h-3.52zM334.00 180.62h3.52v1.02h-3.52zM334.00 177.60h3.52v1.02h-3.52zM334.00 171.56h3.52v1.02h-3.52zM337.43 183.65h3.52v1.02h-3.52zM337.43 180.62h3.52v1.02h-3.52zM337.43 171.56h3.52v1.02h-3.52zM340.85 180.62h3.52v1.02h-3.52zM340.85 171.56h3.52v1.02h-3.52zM340.85 168.54h3.52v1.02h-3.52zM344.27 180.62h3.52v1.02h-3.52zM344.27 171.56h3.52v1.02h-3.52zM344.27 168.54h3.52v1.02h-3.52zM347.69 180.62h3.52v1.02h-3.52zM347.69 174.58h3.52v1.02h-3.52zM351.12 174.58h3.52v1.02h-3.52zM351.12 171.56h3.52v1.02h-3.52zM351.12 165.51h3.52v1.02h-3.52zM354.54 174.58h3.52v1.02h-3.52zM354.54 171.56h3.52v1.02h-3.52zM354.54 165.51h3.52v1.02h-3.52zM357.96 174.58h3.52v1.02h-3.52zM357.96 165.51h3.52v1.02h-3.52zM357.96 162.49h3.52v1.02h-3.52zM361.39 174.58h3.52v1.02h-3.52zM361.39 168.54h3.52v1.02h-3.52zM361.39 162.49h3.52v1.02h-3.52zM364.81 174.58h3.52v1.02h-3.52zM364.81 168.54h3.52v1.02h-3.52zM364.81 165.51h3.52v1.02h-3.52zM364.81 162.49h3.52v1.02h-3.52zM368.23 168.54h3.52v1.02h-3.52zM368.23 165.51h3.52v1.02h-3.52zM368.23 162.49h3.52v1.02h-3.52zM371.66 165.51h3.52v1.02h-3.52zM371.66 159.47h3.52v1.02h-3.52zM375.08 168.54h3.52v1.02h-3.52zM375.08 165.51h3.52v1.02h-3.52zM375.08 162.49h3.52v1.02h-3.52zM375.08 159.47h3.52v1.02h-3.52zM378.50 168.54h3.52v1.02h-3.52zM378.50 162.49h3.52v1.02h-3.52zM378.50 159.47h3.52v1.02h-3.52zM378.50 156.45h3.52v1.02h-3.52zM381.92 168.54h3.52v1.02h-3.52zM381.92 162.49h3.52v1.02h-3.52zM381.92 159.47h3.52v1.02h-3.52zM381.92 156.45h3.52v1.02h-3.52zM385.35 162.49h3.52v1.02h-3.52zM385.35 156.45h3.52v1.02h-3.52zM388.77 162.49h3.52v1.02h-3.52zM388.77 159.47h3.52v1.02h-3.52zM388.77 156.45h3.52v1.02h-3.52zM388.77 153.43h3.52v1.02h-3.52zM392.19 162.49h3.52v1.02h-3.52zM392.19 159.47h3.52v1.02h-3.52zM392.19 156.45h3.52v1.02h-3.52zM392.19 153.43h3.52v1.02h-3.52zM395.62 162.49h3.52v1.02h-3.52zM395.62 159.47h3.52v1.02h-3.52zM395.62 156.45h3.52v1.02h-3.52zM399.04 162.49h3.52v1.02h-3.52zM399.04 156.45h3.52v1.02h-3.52zM402.46 156.45h3.52v1.02h-3.52z" fill="#b4b4b4"/>
<path d="M311.19 180.62h1.22v1.02h-1.22zM314.62 186.67h1.22v1.02h-1.22zM324.88 171.56h1.22v1.02h-1.22zM335.15 186.67h1.22v1.02h-1.22zM338.58 189.69h1.22v1.02h-1.22zM345.42 195.73h1.22v1.02h-1.22zM345.42 174.58h1.22v1.02h-1.22zM348.85 171.56h1.22v1.02h-1.22zM362.54 165.51h1.22v1.02h-1.22zM369.38 180.62h1.22v1.02h-1.22zM372.81 168.54h1.22v1.02h-1.22zM386.50 159.47h1.22v1.02h-1.22zM389.92 171.56h1.22v1.02h-1.22z" fill="#c6c6c6"/>
<path d="M297.24 195.53h1.74v1.42h-1.74zM297.24 192.51h1.74v1.42h-1.74zM297.24 189.49h1.74v1.42h-1.74zM297.24 186.47h1.74v1.42h-1.74zM297.24 183.45h1.74v1.42h-1.74zM297.24 180.42h1.74v1.42h-1.74zM297.24 177.40h1.74v1.42h-1.74zM297.24 174.38h1.74v1.42h-1.74zM297.24 171.36h1.74v1.42h-1.74zM297.24 168.34h1.74v1.42h-1.74zM297.24 165.31h1.74v1.42h-1.74zM300.66 198.56h1.74v1.42h-1.74zM304.09 168.34h1.74v1.42h-1.74zM307.51 165.31h1.74v1.42h-1.74zM314.35 162.29h1.74v1.42h-1.74zM317.78 198.56h1.74v1.42h-1.74zM324.62 198.56h1.74v1.42h-1.74zM328.05 162.29h1.74v1.42h-1.74zM331.47 198.56h1.74v1.42h-1.74zM331.47 159.27h1.74v1.42h-1.74zM348.58 195.53h1.74v1.42h-1.74zM348.58 159.27h1.74v1.42h-1.74zM355.43 192.51h1.74v1.42h-1.74zM355.43 159.27h1.74v1.42h-1.74zM355.43 156.25h1.74v1.42h-1.74zM362.28 159.27h1.74v1.42h-1.74zM365.70 153.23h1.74v1.42h-1.74zM369.12 159.27h1.74v1.42h-1.74zM369.12 153.23h1.74v1.42h-1.74zM372.55 189.49h1.74v1.42h-1.74zM372.55 186.47h1.74v1.42h-1.74zM375.97 156.25h1.74v1.42h-1.74zM375.97 153.23h1.74v1.42h-1.74zM379.39 186.47h1.74v1.42h-1.74zM379.39 183.45h1.74v1.42h-1.74zM386.24 186.47h1.74v1.42h-1.74zM386.24 183.45h1.74v1.42h-1.74zM386.24 153.23h1.74v1.42h-1.74zM389.66 180.42h1.74v1.42h-1.74zM393.08 177.40h1.74v1.42h-1.74zM396.51 174.38h1.74v1.42h-1.74zM396.51 153.23h1.74v1.42h-1.74zM399.93 171.36h1.74v1.42h-1.74zM399.93 168.34h1.74v1.42h-1.74zM399.93 165.31h1.74v1.42h-1.74zM406.78 162.29h1.74v1.42h-1.74zM406.78 159.27h1.74v1.42h-1.74zM406.78 156.25h1.74v1.42h-1.74z" fill="#ffffff"/>
<polyline points="296.4,125.3 353,125.3" fill="none" stroke="#161616" stroke-width="1.3"/>
<line x1="353.00" y1="123.30" x2="353.00" y2="208.20" stroke="#161616" stroke-width="1.3" stroke-linecap="butt"/>
<polyline points="353,136.8 416.6,136.8 416.6,208.4" fill="none" stroke="#161616" stroke-width="1.3"/>
<line x1="296.40" y1="9.50" x2="296.40" y2="204.80" stroke="#161616" stroke-width="2.0" stroke-linecap="butt"/>
<line x1="295.40" y1="203.90" x2="516.00" y2="203.90" stroke="#161616" stroke-width="1.9" stroke-linecap="butt"/>
<line x1="296.00" y1="10.20" x2="515.80" y2="10.20" stroke="#161616" stroke-width="1.5" stroke-linecap="butt"/>
<line x1="515.00" y1="9.50" x2="515.00" y2="204.80" stroke="#161616" stroke-width="1.7" stroke-linecap="butt"/>
<line x1="291.60" y1="203.80" x2="296.40" y2="203.80" stroke="#161616" stroke-width="1.5" stroke-linecap="butt"/>
<line x1="291.60" y1="173.67" x2="296.40" y2="173.67" stroke="#161616" stroke-width="1.5" stroke-linecap="butt"/>
<line x1="291.60" y1="143.54" x2="296.40" y2="143.54" stroke="#161616" stroke-width="1.5" stroke-linecap="butt"/>
<line x1="291.60" y1="113.41" x2="296.40" y2="113.41" stroke="#161616" stroke-width="1.5" stroke-linecap="butt"/>
<line x1="291.60" y1="83.28" x2="296.40" y2="83.28" stroke="#161616" stroke-width="1.5" stroke-linecap="butt"/>
<line x1="291.60" y1="53.15" x2="296.40" y2="53.15" stroke="#161616" stroke-width="1.5" stroke-linecap="butt"/>
<line x1="291.60" y1="23.02" x2="296.40" y2="23.02" stroke="#161616" stroke-width="1.5" stroke-linecap="butt"/>
<line x1="296.30" y1="203.80" x2="296.30" y2="208.20" stroke="#161616" stroke-width="1.5" stroke-linecap="butt"/>
<text x="297.00" y="219.70" font-family="'Liberation Sans', sans-serif" font-size="12.9" font-weight="normal" text-anchor="middle" fill="#161616" stroke="#161616" stroke-width="0.32">0</text>
<line x1="330.60" y1="203.80" x2="330.60" y2="208.20" stroke="#161616" stroke-width="1.5" stroke-linecap="butt"/>
<text x="333.50" y="219.70" font-family="'Liberation Sans', sans-serif" font-size="12.9" font-weight="normal" text-anchor="end" fill="#161616" stroke="#161616" stroke-width="0.32">10</text>
<line x1="364.60" y1="203.80" x2="364.60" y2="208.20" stroke="#161616" stroke-width="1.5" stroke-linecap="butt"/>
<text x="367.50" y="219.70" font-family="'Liberation Sans', sans-serif" font-size="12.9" font-weight="normal" text-anchor="end" fill="#161616" stroke="#161616" stroke-width="0.32">20</text>
<line x1="398.60" y1="203.80" x2="398.60" y2="208.20" stroke="#161616" stroke-width="1.5" stroke-linecap="butt"/>
<text x="401.50" y="219.70" font-family="'Liberation Sans', sans-serif" font-size="12.9" font-weight="normal" text-anchor="end" fill="#161616" stroke="#161616" stroke-width="0.32">30</text>
<line x1="433.00" y1="203.80" x2="433.00" y2="208.20" stroke="#161616" stroke-width="1.5" stroke-linecap="butt"/>
<text x="435.90" y="219.70" font-family="'Liberation Sans', sans-serif" font-size="12.9" font-weight="normal" text-anchor="end" fill="#161616" stroke="#161616" stroke-width="0.32">40</text>
<line x1="467.40" y1="203.80" x2="467.40" y2="208.20" stroke="#161616" stroke-width="1.5" stroke-linecap="butt"/>
<text x="470.30" y="219.70" font-family="'Liberation Sans', sans-serif" font-size="12.9" font-weight="normal" text-anchor="end" fill="#161616" stroke="#161616" stroke-width="0.32">50</text>
<line x1="501.70" y1="203.80" x2="501.70" y2="208.20" stroke="#161616" stroke-width="1.5" stroke-linecap="butt"/>
<text x="503.90" y="219.70" font-family="'Liberation Sans', sans-serif" font-size="12.9" font-weight="normal" text-anchor="end" fill="#161616" stroke="#161616" stroke-width="0.32">60</text>
<text x="289.20" y="20.00" font-family="'Liberation Sans', sans-serif" font-size="12.8" font-weight="normal" text-anchor="middle" fill="#161616" stroke="#161616" stroke-width="0.32" transform="rotate(-90 289.20 20.00)">60</text>
<text x="289.20" y="50.00" font-family="'Liberation Sans', sans-serif" font-size="12.8" font-weight="normal" text-anchor="middle" fill="#161616" stroke="#161616" stroke-width="0.32" transform="rotate(-90 289.20 50.00)">50</text>
<text x="289.20" y="82.20" font-family="'Liberation Sans', sans-serif" font-size="12.8" font-weight="normal" text-anchor="middle" fill="#161616" stroke="#161616" stroke-width="0.32" transform="rotate(-90 289.20 82.20)">40</text>
<text x="289.20" y="110.70" font-family="'Liberation Sans', sans-serif" font-size="12.8" font-weight="normal" text-anchor="middle" fill="#161616" stroke="#161616" stroke-width="0.32" transform="rotate(-90 289.20 110.70)">30</text>
<text x="289.20" y="140.80" font-family="'Liberation Sans', sans-serif" font-size="12.8" font-weight="normal" text-anchor="middle" fill="#161616" stroke="#161616" stroke-width="0.32" transform="rotate(-90 289.20 140.80)">20</text>
<text x="289.20" y="170.50" font-family="'Liberation Sans', sans-serif" font-size="12.8" font-weight="normal" text-anchor="middle" fill="#161616" stroke="#161616" stroke-width="0.32" transform="rotate(-90 289.20 170.50)">10</text>
<text x="289.20" y="197.00" font-family="'Liberation Sans', sans-serif" font-size="12.8" font-weight="normal" text-anchor="middle" fill="#161616" stroke="#161616" stroke-width="0.32" transform="rotate(-90 289.20 197.00)">0</text>
<text x="365.40" y="230.90" font-family="'Liberation Serif', serif" font-size="12.2" font-weight="bold" text-anchor="start" fill="#161616" stroke="#161616" stroke-width="0.22">CD33-PE</text>
<text x="272.60" y="99.30" font-family="'Liberation Serif', serif" font-size="12" font-weight="bold" text-anchor="middle" fill="#161616" stroke="#161616" stroke-width="0.22" transform="rotate(-90 272.60 99.30)">SSC</text>
<text x="260.30" y="20.20" font-family="'Liberation Sans', sans-serif" font-size="24.5" font-weight="bold" text-anchor="start" fill="#161616" stroke="#161616" stroke-width="0.22">B</text>
<text x="433.20" y="36.00" font-family="'Liberation Serif', serif" font-size="15.6" font-weight="bold" text-anchor="start" fill="#161616" stroke="#161616" stroke-width="0.22">Gate on R1</text>
<text x="299.80" y="110.40" font-family="'Liberation Serif', serif" font-size="13.1" font-weight="bold" text-anchor="start" fill="#161616" stroke="#161616" stroke-width="0.22" transform="translate(299.80 110.40) scale(0.915 1) translate(-299.80 -110.40)">CD34<tspan font-size="9" dy="-4">+</tspan><tspan dy="4">/CD33</tspan><tspan font-size="9" dy="-4">-</tspan></text>
<text x="361.80" y="128.80" font-family="'Liberation Serif', serif" font-size="13.1" font-weight="bold" text-anchor="start" fill="#161616" stroke="#161616" stroke-width="0.22" transform="translate(361.80 128.80) scale(0.93 1) translate(-361.80 -128.80)">CD34<tspan font-size="9" dy="-4">+</tspan><tspan dy="4">/CD33</tspan><tspan font-size="9" dy="-4">+</tspan></text>
<text x="313.30" y="147.40" font-family="'Liberation Serif', serif" font-size="15.5" font-weight="bold" text-anchor="start" fill="#161616" stroke="#161616" stroke-width="0.22">R3</text>
<text x="394.50" y="197.60" font-family="'Liberation Serif', serif" font-size="15.5" font-weight="bold" text-anchor="start" fill="#161616" stroke="#161616" stroke-width="0.22">R2</text>
<path d="M96.58 430.05h3.83v3.45h-3.83zM96.58 427.00h3.83v3.45h-3.83zM96.58 423.96h3.83v3.45h-3.83zM96.58 420.91h3.83v3.45h-3.83zM96.58 417.86h3.83v3.45h-3.83zM96.58 414.81h3.83v3.45h-3.83zM96.58 411.76h3.83v3.45h-3.83zM96.58 408.72h3.83v3.45h-3.83zM96.58 405.67h3.83v3.45h-3.83zM96.58 402.62h3.83v3.45h-3.83zM96.58 399.57h3.83v3.45h-3.83zM96.58 396.52h3.83v3.45h-3.83zM96.58 393.48h3.83v3.45h-3.83zM96.58 390.43h3.83v3.45h-3.83zM96.58 387.38h3.83v3.45h-3.83zM96.58 384.33h3.83v3.45h-3.83zM96.58 381.28h3.83v3.45h-3.83zM96.58 378.24h3.83v3.45h-3.83zM96.58 375.19h3.83v3.45h-3.83zM96.58 372.14h3.83v3.45h-3.83zM96.58 369.09h3.83v3.45h-3.83zM96.58 366.04h3.83v3.45h-3.83zM96.58 359.95h3.83v3.45h-3.83zM96.58 356.90h3.83v3.45h-3.83zM100.01 430.05h3.83v3.45h-3.83zM100.01 427.00h3.83v3.45h-3.83zM100.01 423.96h3.83v3.45h-3.83zM100.01 420.91h3.83v3.45h-3.83zM100.01 417.86h3.83v3.45h-3.83zM100.01 414.81h3.83v3.45h-3.83zM100.01 411.76h3.83v3.45h-3.83zM100.01 408.72h3.83v3.45h-3.83zM100.01 405.67h3.83v3.45h-3.83zM100.01 402.62h3.83v3.45h-3.83zM100.01 399.57h3.83v3.45h-3.83zM100.01 396.52h3.83v3.45h-3.83zM100.01 393.48h3.83v3.45h-3.83zM100.01 390.43h3.83v3.45h-3.83zM100.01 387.38h3.83v3.45h-3.83zM100.01 384.33h3.83v3.45h-3.83zM100.01 381.28h3.83v3.45h-3.83zM100.01 378.24h3.83v3.45h-3.83zM100.01 375.19h3.83v3.45h-3.83zM100.01 372.14h3.83v3.45h-3.83zM100.01 369.09h3.83v3.45h-3.83zM100.01 366.04h3.83v3.45h-3.83zM100.01 363.00h3.83v3.45h-3.83zM100.01 359.95h3.83v3.45h-3.83zM100.01 356.90h3.83v3.45h-3.83zM103.44 430.05h3.83v3.45h-3.83zM103.44 427.00h3.83v3.45h-3.83zM103.44 423.96h3.83v3.45h-3.83zM103.44 420.91h3.83v3.45h-3.83zM103.44 417.86h3.83v3.45h-3.83zM103.44 414.81h3.83v3.45h-3.83zM103.44 411.76h3.83v3.45h-3.83zM103.44 408.72h3.83v3.45h-3.83zM103.44 405.67h3.83v3.45h-3.83zM103.44 402.62h3.83v3.45h-3.83zM103.44 399.57h3.83v3.45h-3.83zM103.44 396.52h3.83v3.45h-3.83zM103.44 393.48h3.83v3.45h-3.83zM103.44 390.43h3.83v3.45h-3.83zM103.44 387.38h3.83v3.45h-3.83zM103.44 384.33h3.83v3.45h-3.83zM103.44 381.28h3.83v3.45h-3.83zM103.44 378.24h3.83v3.45h-3.83zM103.44 375.19h3.83v3.45h-3.83zM103.44 372.14h3.83v3.45h-3.83zM103.44 369.09h3.83v3.45h-3.83zM103.44 366.04h3.83v3.45h-3.83zM103.44 363.00h3.83v3.45h-3.83zM103.44 359.95h3.83v3.45h-3.83zM103.44 356.90h3.83v3.45h-3.83zM106.87 430.05h3.83v3.45h-3.83zM106.87 427.00h3.83v3.45h-3.83zM106.87 423.96h3.83v3.45h-3.83zM106.87 420.91h3.83v3.45h-3.83zM106.87 417.86h3.83v3.45h-3.83zM106.87 414.81h3.83v3.45h-3.83zM106.87 411.76h3.83v3.45h-3.83zM106.87 408.72h3.83v3.45h-3.83zM106.87 405.67h3.83v3.45h-3.83zM106.87 402.62h3.83v3.45h-3.83zM106.87 399.57h3.83v3.45h-3.83zM106.87 396.52h3.83v3.45h-3.83zM106.87 393.48h3.83v3.45h-3.83zM106.87 390.43h3.83v3.45h-3.83zM106.87 387.38h3.83v3.45h-3.83zM106.87 384.33h3.83v3.45h-3.83zM106.87 381.28h3.83v3.45h-3.83zM106.87 378.24h3.83v3.45h-3.83zM106.87 375.19h3.83v3.45h-3.83zM106.87 372.14h3.83v3.45h-3.83zM106.87 369.09h3.83v3.45h-3.83zM106.87 366.04h3.83v3.45h-3.83zM106.87 363.00h3.83v3.45h-3.83zM106.87 359.95h3.83v3.45h-3.83zM106.87 347.76h3.83v3.45h-3.83zM110.30 430.05h3.83v3.45h-3.83zM110.30 427.00h3.83v3.45h-3.83zM110.30 423.96h3.83v3.45h-3.83zM110.30 420.91h3.83v3.45h-3.83zM110.30 417.86h3.83v3.45h-3.83zM110.30 414.81h3.83v3.45h-3.83zM110.30 411.76h3.83v3.45h-3.83zM110.30 408.72h3.83v3.45h-3.83zM110.30 405.67h3.83v3.45h-3.83zM110.30 402.62h3.83v3.45h-3.83zM110.30 399.57h3.83v3.45h-3.83zM110.30 396.52h3.83v3.45h-3.83zM110.30 393.48h3.83v3.45h-3.83zM110.30 390.43h3.83v3.45h-3.83zM110.30 387.38h3.83v3.45h-3.83zM110.30 384.33h3.83v3.45h-3.83zM110.30 381.28h3.83v3.45h-3.83zM110.30 378.24h3.83v3.45h-3.83zM110.30 375.19h3.83v3.45h-3.83zM110.30 372.14h3.83v3.45h-3.83zM110.30 369.09h3.83v3.45h-3.83zM110.30 366.04h3.83v3.45h-3.83zM110.30 363.00h3.83v3.45h-3.83zM110.30 359.95h3.83v3.45h-3.83zM110.30 356.90h3.83v3.45h-3.83zM110.30 353.85h3.83v3.45h-3.83zM110.30 320.32h3.83v3.45h-3.83zM113.74 430.05h3.83v3.45h-3.83zM113.74 427.00h3.83v3.45h-3.83zM113.74 423.96h3.83v3.45h-3.83zM113.74 420.91h3.83v3.45h-3.83zM113.74 417.86h3.83v3.45h-3.83zM113.74 414.81h3.83v3.45h-3.83zM113.74 411.76h3.83v3.45h-3.83zM113.74 408.72h3.83v3.45h-3.83zM113.74 405.67h3.83v3.45h-3.83zM113.74 402.62h3.83v3.45h-3.83zM113.74 399.57h3.83v3.45h-3.83zM113.74 396.52h3.83v3.45h-3.83zM113.74 393.48h3.83v3.45h-3.83zM113.74 390.43h3.83v3.45h-3.83zM113.74 387.38h3.83v3.45h-3.83zM113.74 384.33h3.83v3.45h-3.83zM113.74 381.28h3.83v3.45h-3.83zM113.74 378.24h3.83v3.45h-3.83zM113.74 375.19h3.83v3.45h-3.83zM113.74 372.14h3.83v3.45h-3.83zM113.74 369.09h3.83v3.45h-3.83zM113.74 366.04h3.83v3.45h-3.83zM113.74 363.00h3.83v3.45h-3.83zM113.74 359.95h3.83v3.45h-3.83zM113.74 356.90h3.83v3.45h-3.83zM113.74 353.85h3.83v3.45h-3.83zM117.17 430.05h3.83v3.45h-3.83zM117.17 427.00h3.83v3.45h-3.83zM117.17 423.96h3.83v3.45h-3.83zM117.17 420.91h3.83v3.45h-3.83zM117.17 417.86h3.83v3.45h-3.83zM117.17 414.81h3.83v3.45h-3.83zM117.17 411.76h3.83v3.45h-3.83zM117.17 408.72h3.83v3.45h-3.83zM117.17 405.67h3.83v3.45h-3.83zM117.17 402.62h3.83v3.45h-3.83zM117.17 399.57h3.83v3.45h-3.83zM117.17 396.52h3.83v3.45h-3.83zM117.17 393.48h3.83v3.45h-3.83zM117.17 390.43h3.83v3.45h-3.83zM117.17 387.38h3.83v3.45h-3.83zM117.17 384.33h3.83v3.45h-3.83zM117.17 381.28h3.83v3.45h-3.83zM117.17 378.24h3.83v3.45h-3.83zM117.17 375.19h3.83v3.45h-3.83zM117.17 372.14h3.83v3.45h-3.83zM117.17 369.09h3.83v3.45h-3.83zM117.17 366.04h3.83v3.45h-3.83zM117.17 363.00h3.83v3.45h-3.83zM117.17 359.95h3.83v3.45h-3.83zM117.17 356.90h3.83v3.45h-3.83zM117.17 353.85h3.83v3.45h-3.83zM117.17 347.76h3.83v3.45h-3.83zM117.17 289.84h3.83v3.45h-3.83zM120.60 430.05h3.83v3.45h-3.83zM120.60 427.00h3.83v3.45h-3.83zM120.60 423.96h3.83v3.45h-3.83zM120.60 420.91h3.83v3.45h-3.83zM120.60 417.86h3.83v3.45h-3.83zM120.60 414.81h3.83v3.45h-3.83zM120.60 411.76h3.83v3.45h-3.83zM120.60 408.72h3.83v3.45h-3.83zM120.60 405.67h3.83v3.45h-3.83zM120.60 402.62h3.83v3.45h-3.83zM120.60 399.57h3.83v3.45h-3.83zM120.60 396.52h3.83v3.45h-3.83zM120.60 393.48h3.83v3.45h-3.83zM120.60 390.43h3.83v3.45h-3.83zM120.60 387.38h3.83v3.45h-3.83zM120.60 384.33h3.83v3.45h-3.83zM120.60 381.28h3.83v3.45h-3.83zM120.60 378.24h3.83v3.45h-3.83zM120.60 375.19h3.83v3.45h-3.83zM120.60 372.14h3.83v3.45h-3.83zM120.60 369.09h3.83v3.45h-3.83zM120.60 366.04h3.83v3.45h-3.83zM120.60 363.00h3.83v3.45h-3.83zM120.60 359.95h3.83v3.45h-3.83zM120.60 356.90h3.83v3.45h-3.83zM120.60 353.85h3.83v3.45h-3.83zM120.60 347.76h3.83v3.45h-3.83zM120.60 344.71h3.83v3.45h-3.83zM120.60 338.61h3.83v3.45h-3.83zM124.03 430.05h3.83v3.45h-3.83zM124.03 427.00h3.83v3.45h-3.83zM124.03 423.96h3.83v3.45h-3.83zM124.03 420.91h3.83v3.45h-3.83zM124.03 417.86h3.83v3.45h-3.83zM124.03 414.81h3.83v3.45h-3.83zM124.03 411.76h3.83v3.45h-3.83zM124.03 405.67h3.83v3.45h-3.83zM124.03 402.62h3.83v3.45h-3.83zM124.03 396.52h3.83v3.45h-3.83zM124.03 393.48h3.83v3.45h-3.83zM124.03 390.43h3.83v3.45h-3.83zM124.03 384.33h3.83v3.45h-3.83zM124.03 381.28h3.83v3.45h-3.83zM124.03 378.24h3.83v3.45h-3.83zM124.03 375.19h3.83v3.45h-3.83zM124.03 372.14h3.83v3.45h-3.83zM124.03 369.09h3.83v3.45h-3.83zM124.03 366.04h3.83v3.45h-3.83zM124.03 363.00h3.83v3.45h-3.83zM124.03 359.95h3.83v3.45h-3.83zM124.03 356.90h3.83v3.45h-3.83zM124.03 353.85h3.83v3.45h-3.83zM124.03 350.80h3.83v3.45h-3.83zM124.03 347.76h3.83v3.45h-3.83zM124.03 344.71h3.83v3.45h-3.83zM124.03 341.66h3.83v3.45h-3.83zM124.03 338.61h3.83v3.45h-3.83zM127.46 430.05h3.83v3.45h-3.83zM127.46 427.00h3.83v3.45h-3.83zM127.46 423.96h3.83v3.45h-3.83zM127.46 420.91h3.83v3.45h-3.83zM127.46 417.86h3.83v3.45h-3.83zM127.46 414.81h3.83v3.45h-3.83zM127.46 408.72h3.83v3.45h-3.83zM127.46 405.67h3.83v3.45h-3.83zM127.46 402.62h3.83v3.45h-3.83zM127.46 399.57h3.83v3.45h-3.83zM127.46 396.52h3.83v3.45h-3.83zM127.46 393.48h3.83v3.45h-3.83zM127.46 390.43h3.83v3.45h-3.83zM127.46 387.38h3.83v3.45h-3.83zM127.46 384.33h3.83v3.45h-3.83zM127.46 381.28h3.83v3.45h-3.83zM127.46 378.24h3.83v3.45h-3.83zM127.46 375.19h3.83v3.45h-3.83zM127.46 372.14h3.83v3.45h-3.83zM127.46 369.09h3.83v3.45h-3.83zM127.46 366.04h3.83v3.45h-3.83zM127.46 363.00h3.83v3.45h-3.83zM127.46 359.95h3.83v3.45h-3.83zM127.46 356.90h3.83v3.45h-3.83zM127.46 353.85h3.83v3.45h-3.83zM127.46 350.80h3.83v3.45h-3.83zM127.46 347.76h3.83v3.45h-3.83zM127.46 344.71h3.83v3.45h-3.83zM127.46 341.66h3.83v3.45h-3.83zM127.46 338.61h3.83v3.45h-3.83zM127.46 335.56h3.83v3.45h-3.83zM130.90 430.05h3.83v3.45h-3.83zM130.90 427.00h3.83v3.45h-3.83zM130.90 423.96h3.83v3.45h-3.83zM130.90 420.91h3.83v3.45h-3.83zM130.90 417.86h3.83v3.45h-3.83zM130.90 414.81h3.83v3.45h-3.83zM130.90 411.76h3.83v3.45h-3.83zM130.90 408.72h3.83v3.45h-3.83zM130.90 405.67h3.83v3.45h-3.83zM130.90 402.62h3.83v3.45h-3.83zM130.90 396.52h3.83v3.45h-3.83zM130.90 393.48h3.83v3.45h-3.83zM130.90 390.43h3.83v3.45h-3.83zM130.90 387.38h3.83v3.45h-3.83zM130.90 384.33h3.83v3.45h-3.83zM130.90 381.28h3.83v3.45h-3.83zM130.90 378.24h3.83v3.45h-3.83zM130.90 375.19h3.83v3.45h-3.83zM130.90 372.14h3.83v3.45h-3.83zM130.90 369.09h3.83v3.45h-3.83zM130.90 366.04h3.83v3.45h-3.83zM130.90 363.00h3.83v3.45h-3.83zM130.90 359.95h3.83v3.45h-3.83zM130.90 356.90h3.83v3.45h-3.83zM130.90 353.85h3.83v3.45h-3.83zM130.90 350.80h3.83v3.45h-3.83zM130.90 347.76h3.83v3.45h-3.83zM130.90 344.71h3.83v3.45h-3.83zM130.90 341.66h3.83v3.45h-3.83zM130.90 338.61h3.83v3.45h-3.83zM130.90 335.56h3.83v3.45h-3.83zM134.33 430.05h3.83v3.45h-3.83zM134.33 427.00h3.83v3.45h-3.83zM134.33 420.91h3.83v3.45h-3.83zM134.33 417.86h3.83v3.45h-3.83zM134.33 414.81h3.83v3.45h-3.83zM134.33 411.76h3.83v3.45h-3.83zM134.33 402.62h3.83v3.45h-3.83zM134.33 399.57h3.83v3.45h-3.83zM134.33 396.52h3.83v3.45h-3.83zM134.33 393.48h3.83v3.45h-3.83zM134.33 390.43h3.83v3.45h-3.83zM134.33 387.38h3.83v3.45h-3.83zM134.33 384.33h3.83v3.45h-3.83zM134.33 381.28h3.83v3.45h-3.83zM134.33 378.24h3.83v3.45h-3.83zM134.33 375.19h3.83v3.45h-3.83zM134.33 372.14h3.83v3.45h-3.83zM134.33 369.09h3.83v3.45h-3.83zM134.33 366.04h3.83v3.45h-3.83zM134.33 363.00h3.83v3.45h-3.83zM134.33 359.95h3.83v3.45h-3.83zM134.33 356.90h3.83v3.45h-3.83zM134.33 350.80h3.83v3.45h-3.83zM134.33 347.76h3.83v3.45h-3.83zM134.33 341.66h3.83v3.45h-3.83zM134.33 338.61h3.83v3.45h-3.83zM134.33 335.56h3.83v3.45h-3.83zM134.33 329.47h3.83v3.45h-3.83zM137.76 430.05h3.83v3.45h-3.83zM137.76 427.00h3.83v3.45h-3.83zM137.76 399.57h3.83v3.45h-3.83zM137.76 393.48h3.83v3.45h-3.83zM137.76 390.43h3.83v3.45h-3.83zM137.76 387.38h3.83v3.45h-3.83zM137.76 384.33h3.83v3.45h-3.83zM137.76 381.28h3.83v3.45h-3.83zM137.76 378.24h3.83v3.45h-3.83zM137.76 375.19h3.83v3.45h-3.83zM137.76 372.14h3.83v3.45h-3.83zM137.76 369.09h3.83v3.45h-3.83zM137.76 366.04h3.83v3.45h-3.83zM137.76 363.00h3.83v3.45h-3.83zM137.76 359.95h3.83v3.45h-3.83zM137.76 350.80h3.83v3.45h-3.83zM137.76 347.76h3.83v3.45h-3.83zM137.76 341.66h3.83v3.45h-3.83zM137.76 338.61h3.83v3.45h-3.83zM137.76 335.56h3.83v3.45h-3.83zM141.19 430.05h3.83v3.45h-3.83zM141.19 405.67h3.83v3.45h-3.83zM141.19 396.52h3.83v3.45h-3.83zM141.19 390.43h3.83v3.45h-3.83zM141.19 384.33h3.83v3.45h-3.83zM141.19 381.28h3.83v3.45h-3.83zM141.19 372.14h3.83v3.45h-3.83zM141.19 369.09h3.83v3.45h-3.83zM141.19 366.04h3.83v3.45h-3.83zM141.19 363.00h3.83v3.45h-3.83zM141.19 359.95h3.83v3.45h-3.83zM141.19 356.90h3.83v3.45h-3.83zM141.19 350.80h3.83v3.45h-3.83zM141.19 341.66h3.83v3.45h-3.83zM141.19 329.47h3.83v3.45h-3.83zM141.19 326.42h3.83v3.45h-3.83zM144.62 423.96h3.83v3.45h-3.83zM144.62 420.91h3.83v3.45h-3.83zM144.62 417.86h3.83v3.45h-3.83zM144.62 408.72h3.83v3.45h-3.83zM144.62 399.57h3.83v3.45h-3.83zM144.62 381.28h3.83v3.45h-3.83zM144.62 378.24h3.83v3.45h-3.83zM144.62 375.19h3.83v3.45h-3.83zM144.62 372.14h3.83v3.45h-3.83zM144.62 369.09h3.83v3.45h-3.83zM144.62 366.04h3.83v3.45h-3.83zM144.62 363.00h3.83v3.45h-3.83zM144.62 359.95h3.83v3.45h-3.83zM144.62 356.90h3.83v3.45h-3.83zM144.62 341.66h3.83v3.45h-3.83zM144.62 332.52h3.83v3.45h-3.83zM148.06 430.05h3.83v3.45h-3.83zM148.06 427.00h3.83v3.45h-3.83zM148.06 378.24h3.83v3.45h-3.83zM148.06 375.19h3.83v3.45h-3.83zM148.06 372.14h3.83v3.45h-3.83zM148.06 366.04h3.83v3.45h-3.83zM148.06 363.00h3.83v3.45h-3.83zM148.06 359.95h3.83v3.45h-3.83zM148.06 356.90h3.83v3.45h-3.83zM148.06 350.80h3.83v3.45h-3.83zM148.06 347.76h3.83v3.45h-3.83zM151.49 366.04h3.83v3.45h-3.83zM151.49 363.00h3.83v3.45h-3.83zM151.49 359.95h3.83v3.45h-3.83zM151.49 356.90h3.83v3.45h-3.83zM151.49 317.28h3.83v3.45h-3.83zM154.92 430.05h3.83v3.45h-3.83zM154.92 411.76h3.83v3.45h-3.83zM154.92 366.04h3.83v3.45h-3.83zM154.92 359.95h3.83v3.45h-3.83zM158.35 430.05h3.83v3.45h-3.83zM158.35 427.00h3.83v3.45h-3.83zM158.35 423.96h3.83v3.45h-3.83zM161.78 420.91h3.83v3.45h-3.83zM165.22 430.05h3.83v3.45h-3.83z" fill="#161616"/>
<path d="M100.16 431.25h3.53v1.05h-3.53zM100.16 425.16h3.53v1.05h-3.53zM100.16 422.11h3.53v1.05h-3.53zM100.16 419.06h3.53v1.05h-3.53zM100.91 409.92h2.03v1.05h-2.03zM100.16 400.77h3.53v1.05h-3.53zM100.16 397.72h3.53v1.05h-3.53zM100.16 394.68h3.53v1.05h-3.53zM100.16 391.63h3.53v1.05h-3.53zM100.91 367.24h2.03v1.05h-2.03zM100.16 361.15h3.53v1.05h-3.53zM103.59 425.16h3.53v1.05h-3.53zM103.59 422.11h3.53v1.05h-3.53zM103.59 419.06h3.53v1.05h-3.53zM103.59 400.77h3.53v1.05h-3.53zM103.59 397.72h3.53v1.05h-3.53zM103.59 394.68h3.53v1.05h-3.53zM103.59 391.63h3.53v1.05h-3.53zM103.59 385.53h3.53v1.05h-3.53zM103.59 382.48h3.53v1.05h-3.53zM104.34 379.44h2.03v1.05h-2.03zM103.59 364.20h3.53v1.05h-3.53zM103.59 361.15h3.53v1.05h-3.53zM107.77 428.20h2.03v1.05h-2.03zM107.02 425.16h3.53v1.05h-3.53zM107.02 422.11h3.53v1.05h-3.53zM107.02 419.06h3.53v1.05h-3.53zM107.02 416.01h3.53v1.05h-3.53zM107.77 409.92h2.03v1.05h-2.03zM107.02 397.72h3.53v1.05h-3.53zM107.02 394.68h3.53v1.05h-3.53zM107.02 391.63h3.53v1.05h-3.53zM107.77 388.58h2.03v1.05h-2.03zM107.02 382.48h3.53v1.05h-3.53zM107.77 379.44h2.03v1.05h-2.03zM107.02 364.20h3.53v1.05h-3.53zM111.20 431.25h2.03v1.05h-2.03zM110.45 425.16h3.53v1.05h-3.53zM110.45 422.11h3.53v1.05h-3.53zM110.45 419.06h3.53v1.05h-3.53zM110.45 416.01h3.53v1.05h-3.53zM111.20 409.92h2.03v1.05h-2.03zM111.20 400.77h2.03v1.05h-2.03zM110.45 397.72h3.53v1.05h-3.53zM110.45 394.68h3.53v1.05h-3.53zM110.45 391.63h3.53v1.05h-3.53zM110.45 388.58h3.53v1.05h-3.53zM110.45 385.53h3.53v1.05h-3.53zM111.20 382.48h2.03v1.05h-2.03zM114.64 431.25h2.03v1.05h-2.03zM113.89 428.20h3.53v1.05h-3.53zM113.89 425.16h3.53v1.05h-3.53zM114.64 422.11h2.03v1.05h-2.03zM113.89 419.06h3.53v1.05h-3.53zM113.89 416.01h3.53v1.05h-3.53zM114.64 409.92h2.03v1.05h-2.03zM114.64 400.77h2.03v1.05h-2.03zM113.89 394.68h3.53v1.05h-3.53zM113.89 391.63h3.53v1.05h-3.53zM113.89 388.58h3.53v1.05h-3.53zM113.89 385.53h3.53v1.05h-3.53zM114.64 382.48h2.03v1.05h-2.03zM114.64 361.15h2.03v1.05h-2.03zM113.89 358.10h3.53v1.05h-3.53zM113.89 355.05h3.53v1.05h-3.53zM118.07 431.25h2.03v1.05h-2.03zM117.32 425.16h3.53v1.05h-3.53zM117.32 419.06h3.53v1.05h-3.53zM117.32 416.01h3.53v1.05h-3.53zM118.07 403.82h2.03v1.05h-2.03zM117.32 391.63h3.53v1.05h-3.53zM117.32 355.05h3.53v1.05h-3.53zM120.75 419.06h3.53v1.05h-3.53zM121.50 403.82h2.03v1.05h-2.03zM120.75 394.68h3.53v1.05h-3.53zM120.75 379.44h3.53v1.05h-3.53zM120.75 348.96h3.53v1.05h-3.53zM124.93 403.82h2.03v1.05h-2.03zM124.18 379.44h3.53v1.05h-3.53zM127.61 391.63h3.53v1.05h-3.53zM127.61 379.44h3.53v1.05h-3.53zM127.61 342.86h3.53v1.05h-3.53zM131.80 352.00h2.03v1.05h-2.03zM131.05 348.96h3.53v1.05h-3.53zM131.05 342.86h3.53v1.05h-3.53zM137.91 373.34h3.53v1.05h-3.53zM145.52 367.24h2.03v1.05h-2.03zM152.39 367.24h2.03v1.05h-2.03z" fill="#8c8c8c"/>
<path d="M100.16 416.01h3.53v1.05h-3.53zM100.16 412.96h3.53v1.05h-3.53zM100.16 403.82h3.53v1.05h-3.53zM100.16 382.48h3.53v1.05h-3.53zM100.16 376.39h3.53v1.05h-3.53zM100.16 373.34h3.53v1.05h-3.53zM100.16 370.29h3.53v1.05h-3.53zM103.59 416.01h3.53v1.05h-3.53zM103.59 412.96h3.53v1.05h-3.53zM103.59 403.82h3.53v1.05h-3.53zM103.59 373.34h3.53v1.05h-3.53zM103.59 370.29h3.53v1.05h-3.53zM103.59 367.24h3.53v1.05h-3.53zM107.02 412.96h3.53v1.05h-3.53zM107.02 406.87h3.53v1.05h-3.53zM107.02 403.82h3.53v1.05h-3.53zM107.02 376.39h3.53v1.05h-3.53zM107.02 373.34h3.53v1.05h-3.53zM107.02 370.29h3.53v1.05h-3.53zM107.02 367.24h3.53v1.05h-3.53zM110.45 412.96h3.53v1.05h-3.53zM110.45 406.87h3.53v1.05h-3.53zM110.45 403.82h3.53v1.05h-3.53zM110.45 376.39h3.53v1.05h-3.53zM110.45 373.34h3.53v1.05h-3.53zM110.45 370.29h3.53v1.05h-3.53zM110.45 367.24h3.53v1.05h-3.53zM110.45 364.20h3.53v1.05h-3.53zM113.89 406.87h3.53v1.05h-3.53zM113.89 397.72h3.53v1.05h-3.53zM113.89 373.34h3.53v1.05h-3.53zM113.89 370.29h3.53v1.05h-3.53zM113.89 364.20h3.53v1.05h-3.53zM117.32 406.87h3.53v1.05h-3.53zM117.32 397.72h3.53v1.05h-3.53zM117.32 367.24h3.53v1.05h-3.53zM120.75 370.29h3.53v1.05h-3.53zM131.05 397.72h3.53v1.05h-3.53zM131.05 364.20h3.53v1.05h-3.53zM134.48 391.63h3.53v1.05h-3.53zM137.91 361.15h3.53v1.05h-3.53zM144.77 361.15h3.53v1.05h-3.53zM148.21 364.20h3.53v1.05h-3.53z" fill="#b4b4b4"/>
<path d="M101.31 379.44h1.23v1.05h-1.23zM101.31 358.10h1.23v1.05h-1.23zM104.74 376.39h1.23v1.05h-1.23zM108.17 385.53h1.23v1.05h-1.23zM108.17 361.15h1.23v1.05h-1.23zM111.60 428.20h1.23v1.05h-1.23zM115.04 412.96h1.23v1.05h-1.23zM115.04 403.82h1.23v1.05h-1.23zM115.04 376.39h1.23v1.05h-1.23zM115.04 367.24h1.23v1.05h-1.23zM118.47 428.20h1.23v1.05h-1.23zM118.47 412.96h1.23v1.05h-1.23zM118.47 409.92h1.23v1.05h-1.23zM118.47 400.77h1.23v1.05h-1.23zM118.47 394.68h1.23v1.05h-1.23zM118.47 388.58h1.23v1.05h-1.23zM118.47 385.53h1.23v1.05h-1.23zM118.47 379.44h1.23v1.05h-1.23zM118.47 376.39h1.23v1.05h-1.23zM118.47 373.34h1.23v1.05h-1.23zM118.47 370.29h1.23v1.05h-1.23zM118.47 364.20h1.23v1.05h-1.23zM118.47 358.10h1.23v1.05h-1.23zM121.90 431.25h1.23v1.05h-1.23zM121.90 428.20h1.23v1.05h-1.23zM121.90 425.16h1.23v1.05h-1.23zM121.90 422.11h1.23v1.05h-1.23zM121.90 416.01h1.23v1.05h-1.23zM121.90 412.96h1.23v1.05h-1.23zM121.90 406.87h1.23v1.05h-1.23zM121.90 397.72h1.23v1.05h-1.23zM121.90 391.63h1.23v1.05h-1.23zM121.90 385.53h1.23v1.05h-1.23zM121.90 382.48h1.23v1.05h-1.23zM121.90 376.39h1.23v1.05h-1.23zM121.90 373.34h1.23v1.05h-1.23zM121.90 367.24h1.23v1.05h-1.23zM121.90 364.20h1.23v1.05h-1.23zM121.90 361.15h1.23v1.05h-1.23zM121.90 358.10h1.23v1.05h-1.23zM121.90 355.05h1.23v1.05h-1.23zM125.33 431.25h1.23v1.05h-1.23zM125.33 428.20h1.23v1.05h-1.23zM125.33 425.16h1.23v1.05h-1.23zM125.33 422.11h1.23v1.05h-1.23zM125.33 419.06h1.23v1.05h-1.23zM125.33 416.01h1.23v1.05h-1.23zM125.33 406.87h1.23v1.05h-1.23zM125.33 397.72h1.23v1.05h-1.23zM125.33 394.68h1.23v1.05h-1.23zM125.33 391.63h1.23v1.05h-1.23zM125.33 385.53h1.23v1.05h-1.23zM125.33 376.39h1.23v1.05h-1.23zM125.33 373.34h1.23v1.05h-1.23zM125.33 370.29h1.23v1.05h-1.23zM125.33 367.24h1.23v1.05h-1.23zM125.33 364.20h1.23v1.05h-1.23zM125.33 361.15h1.23v1.05h-1.23zM125.33 358.10h1.23v1.05h-1.23zM125.33 355.05h1.23v1.05h-1.23zM125.33 348.96h1.23v1.05h-1.23zM125.33 345.91h1.23v1.05h-1.23zM125.33 339.81h1.23v1.05h-1.23zM128.76 431.25h1.23v1.05h-1.23zM128.76 428.20h1.23v1.05h-1.23zM128.76 425.16h1.23v1.05h-1.23zM128.76 422.11h1.23v1.05h-1.23zM128.76 419.06h1.23v1.05h-1.23zM128.76 416.01h1.23v1.05h-1.23zM128.76 406.87h1.23v1.05h-1.23zM128.76 403.82h1.23v1.05h-1.23zM128.76 397.72h1.23v1.05h-1.23zM128.76 394.68h1.23v1.05h-1.23zM128.76 385.53h1.23v1.05h-1.23zM128.76 382.48h1.23v1.05h-1.23zM128.76 376.39h1.23v1.05h-1.23zM128.76 373.34h1.23v1.05h-1.23zM128.76 370.29h1.23v1.05h-1.23zM128.76 367.24h1.23v1.05h-1.23zM128.76 364.20h1.23v1.05h-1.23zM128.76 361.15h1.23v1.05h-1.23zM128.76 358.10h1.23v1.05h-1.23zM128.76 355.05h1.23v1.05h-1.23zM128.76 352.00h1.23v1.05h-1.23zM128.76 348.96h1.23v1.05h-1.23zM128.76 345.91h1.23v1.05h-1.23zM128.76 339.81h1.23v1.05h-1.23zM132.20 431.25h1.23v1.05h-1.23zM132.20 428.20h1.23v1.05h-1.23zM132.20 422.11h1.23v1.05h-1.23zM132.20 419.06h1.23v1.05h-1.23zM132.20 416.01h1.23v1.05h-1.23zM132.20 403.82h1.23v1.05h-1.23zM132.20 394.68h1.23v1.05h-1.23zM132.20 391.63h1.23v1.05h-1.23zM132.20 388.58h1.23v1.05h-1.23zM132.20 385.53h1.23v1.05h-1.23zM132.20 382.48h1.23v1.05h-1.23zM132.20 379.44h1.23v1.05h-1.23zM132.20 370.29h1.23v1.05h-1.23zM132.20 367.24h1.23v1.05h-1.23zM132.20 361.15h1.23v1.05h-1.23zM132.20 358.10h1.23v1.05h-1.23zM132.20 339.81h1.23v1.05h-1.23zM132.20 336.76h1.23v1.05h-1.23zM135.63 431.25h1.23v1.05h-1.23zM135.63 428.20h1.23v1.05h-1.23zM135.63 394.68h1.23v1.05h-1.23zM135.63 388.58h1.23v1.05h-1.23zM135.63 385.53h1.23v1.05h-1.23zM135.63 382.48h1.23v1.05h-1.23zM135.63 379.44h1.23v1.05h-1.23zM135.63 376.39h1.23v1.05h-1.23zM135.63 370.29h1.23v1.05h-1.23zM135.63 367.24h1.23v1.05h-1.23zM135.63 364.20h1.23v1.05h-1.23zM135.63 361.15h1.23v1.05h-1.23zM135.63 352.00h1.23v1.05h-1.23zM135.63 348.96h1.23v1.05h-1.23zM135.63 342.86h1.23v1.05h-1.23zM135.63 339.81h1.23v1.05h-1.23zM135.63 336.76h1.23v1.05h-1.23zM139.06 431.25h1.23v1.05h-1.23zM139.06 391.63h1.23v1.05h-1.23zM139.06 385.53h1.23v1.05h-1.23zM139.06 382.48h1.23v1.05h-1.23zM139.06 370.29h1.23v1.05h-1.23zM139.06 367.24h1.23v1.05h-1.23zM139.06 364.20h1.23v1.05h-1.23zM139.06 352.00h1.23v1.05h-1.23zM139.06 342.86h1.23v1.05h-1.23zM142.49 382.48h1.23v1.05h-1.23zM142.49 373.34h1.23v1.05h-1.23zM142.49 370.29h1.23v1.05h-1.23zM142.49 367.24h1.23v1.05h-1.23zM142.49 364.20h1.23v1.05h-1.23zM142.49 361.15h1.23v1.05h-1.23zM145.92 373.34h1.23v1.05h-1.23zM145.92 364.20h1.23v1.05h-1.23zM145.92 358.10h1.23v1.05h-1.23zM149.36 367.24h1.23v1.05h-1.23zM149.36 361.15h1.23v1.05h-1.23zM149.36 358.10h1.23v1.05h-1.23zM152.79 361.15h1.23v1.05h-1.23z" fill="#c6c6c6"/>
<path d="M97.62 431.05h1.75v1.45h-1.75zM97.62 428.00h1.75v1.45h-1.75zM97.62 424.96h1.75v1.45h-1.75zM97.62 421.91h1.75v1.45h-1.75zM97.62 418.86h1.75v1.45h-1.75zM97.62 415.81h1.75v1.45h-1.75zM97.62 412.76h1.75v1.45h-1.75zM97.62 409.72h1.75v1.45h-1.75zM97.62 406.67h1.75v1.45h-1.75zM97.62 403.62h1.75v1.45h-1.75zM97.62 400.57h1.75v1.45h-1.75zM97.62 397.52h1.75v1.45h-1.75zM97.62 394.48h1.75v1.45h-1.75zM97.62 391.43h1.75v1.45h-1.75zM97.62 388.38h1.75v1.45h-1.75zM97.62 385.33h1.75v1.45h-1.75zM97.62 382.28h1.75v1.45h-1.75zM97.62 379.24h1.75v1.45h-1.75zM97.62 376.19h1.75v1.45h-1.75zM97.62 373.14h1.75v1.45h-1.75zM97.62 370.09h1.75v1.45h-1.75zM97.62 367.04h1.75v1.45h-1.75zM97.62 360.95h1.75v1.45h-1.75zM97.62 357.90h1.75v1.45h-1.75zM101.05 364.00h1.75v1.45h-1.75zM104.48 357.90h1.75v1.45h-1.75zM107.91 348.76h1.75v1.45h-1.75zM111.34 357.90h1.75v1.45h-1.75zM111.34 354.85h1.75v1.45h-1.75zM111.34 321.32h1.75v1.45h-1.75zM118.21 348.76h1.75v1.45h-1.75zM118.21 290.84h1.75v1.45h-1.75zM121.64 409.72h1.75v1.45h-1.75zM121.64 400.57h1.75v1.45h-1.75zM121.64 388.38h1.75v1.45h-1.75zM121.64 345.71h1.75v1.45h-1.75zM121.64 339.61h1.75v1.45h-1.75zM125.07 412.76h1.75v1.45h-1.75zM125.07 351.80h1.75v1.45h-1.75zM125.07 342.66h1.75v1.45h-1.75zM128.50 409.72h1.75v1.45h-1.75zM128.50 400.57h1.75v1.45h-1.75zM128.50 388.38h1.75v1.45h-1.75zM128.50 336.56h1.75v1.45h-1.75zM131.94 424.96h1.75v1.45h-1.75zM131.94 412.76h1.75v1.45h-1.75zM131.94 409.72h1.75v1.45h-1.75zM131.94 406.67h1.75v1.45h-1.75zM131.94 354.85h1.75v1.45h-1.75zM131.94 345.71h1.75v1.45h-1.75zM135.37 421.91h1.75v1.45h-1.75zM135.37 418.86h1.75v1.45h-1.75zM135.37 415.81h1.75v1.45h-1.75zM135.37 412.76h1.75v1.45h-1.75zM135.37 403.62h1.75v1.45h-1.75zM135.37 400.57h1.75v1.45h-1.75zM135.37 397.52h1.75v1.45h-1.75zM135.37 357.90h1.75v1.45h-1.75zM135.37 330.47h1.75v1.45h-1.75zM138.80 428.00h1.75v1.45h-1.75zM138.80 400.57h1.75v1.45h-1.75zM138.80 394.48h1.75v1.45h-1.75zM138.80 388.38h1.75v1.45h-1.75zM138.80 379.24h1.75v1.45h-1.75zM138.80 376.19h1.75v1.45h-1.75zM138.80 348.76h1.75v1.45h-1.75zM138.80 339.61h1.75v1.45h-1.75zM138.80 336.56h1.75v1.45h-1.75zM142.23 431.05h1.75v1.45h-1.75zM142.23 406.67h1.75v1.45h-1.75zM142.23 397.52h1.75v1.45h-1.75zM142.23 391.43h1.75v1.45h-1.75zM142.23 385.33h1.75v1.45h-1.75zM142.23 357.90h1.75v1.45h-1.75zM142.23 351.80h1.75v1.45h-1.75zM142.23 342.66h1.75v1.45h-1.75zM142.23 330.47h1.75v1.45h-1.75zM142.23 327.42h1.75v1.45h-1.75zM145.66 424.96h1.75v1.45h-1.75zM145.66 421.91h1.75v1.45h-1.75zM145.66 418.86h1.75v1.45h-1.75zM145.66 409.72h1.75v1.45h-1.75zM145.66 400.57h1.75v1.45h-1.75zM145.66 382.28h1.75v1.45h-1.75zM145.66 379.24h1.75v1.45h-1.75zM145.66 376.19h1.75v1.45h-1.75zM145.66 370.09h1.75v1.45h-1.75zM145.66 342.66h1.75v1.45h-1.75zM145.66 333.52h1.75v1.45h-1.75zM149.10 431.05h1.75v1.45h-1.75zM149.10 428.00h1.75v1.45h-1.75zM149.10 379.24h1.75v1.45h-1.75zM149.10 376.19h1.75v1.45h-1.75zM149.10 373.14h1.75v1.45h-1.75zM149.10 351.80h1.75v1.45h-1.75zM149.10 348.76h1.75v1.45h-1.75zM152.53 364.00h1.75v1.45h-1.75zM152.53 357.90h1.75v1.45h-1.75zM152.53 318.28h1.75v1.45h-1.75zM155.96 431.05h1.75v1.45h-1.75zM155.96 412.76h1.75v1.45h-1.75zM155.96 367.04h1.75v1.45h-1.75zM155.96 360.95h1.75v1.45h-1.75zM159.39 431.05h1.75v1.45h-1.75zM159.39 428.00h1.75v1.45h-1.75zM159.39 424.96h1.75v1.45h-1.75zM162.82 421.91h1.75v1.45h-1.75zM166.26 431.05h1.75v1.45h-1.75z" fill="#ffffff"/>
<rect x="73" y="279.8" width="109.5" height="104.1" fill="none" stroke="#161616" stroke-width="1.3"/>
<polyline points="82,383.9 82,433.3" fill="none" stroke="#161616" stroke-width="1.3"/>
<line x1="172.50" y1="383.90" x2="172.50" y2="433.30" stroke="#161616" stroke-width="1.15" stroke-linecap="butt"/>
<line x1="35.00" y1="237.40" x2="35.00" y2="434.20" stroke="#161616" stroke-width="2.0" stroke-linecap="butt"/>
<line x1="34.00" y1="433.30" x2="256.00" y2="433.30" stroke="#161616" stroke-width="1.9" stroke-linecap="butt"/>
<line x1="34.50" y1="238.20" x2="256.00" y2="238.20" stroke="#161616" stroke-width="1.6" stroke-linecap="butt"/>
<line x1="255.00" y1="237.40" x2="255.00" y2="434.20" stroke="#161616" stroke-width="2.0" stroke-linecap="butt"/>
<line x1="30.00" y1="238.20" x2="35.00" y2="238.20" stroke="#161616" stroke-width="1.4" stroke-linecap="butt"/>
<line x1="31.60" y1="272.29" x2="35.00" y2="272.29" stroke="#161616" stroke-width="1.0" stroke-linecap="butt"/>
<line x1="31.60" y1="263.70" x2="35.00" y2="263.70" stroke="#161616" stroke-width="1.0" stroke-linecap="butt"/>
<line x1="31.60" y1="257.61" x2="35.00" y2="257.61" stroke="#161616" stroke-width="1.0" stroke-linecap="butt"/>
<line x1="31.60" y1="252.88" x2="35.00" y2="252.88" stroke="#161616" stroke-width="1.0" stroke-linecap="butt"/>
<line x1="31.60" y1="249.02" x2="35.00" y2="249.02" stroke="#161616" stroke-width="1.0" stroke-linecap="butt"/>
<line x1="31.60" y1="245.76" x2="35.00" y2="245.76" stroke="#161616" stroke-width="1.0" stroke-linecap="butt"/>
<line x1="31.60" y1="242.93" x2="35.00" y2="242.93" stroke="#161616" stroke-width="1.0" stroke-linecap="butt"/>
<line x1="31.60" y1="240.43" x2="35.00" y2="240.43" stroke="#161616" stroke-width="1.0" stroke-linecap="butt"/>
<line x1="30.00" y1="286.98" x2="35.00" y2="286.98" stroke="#161616" stroke-width="1.4" stroke-linecap="butt"/>
<line x1="31.60" y1="321.07" x2="35.00" y2="321.07" stroke="#161616" stroke-width="1.0" stroke-linecap="butt"/>
<line x1="31.60" y1="312.48" x2="35.00" y2="312.48" stroke="#161616" stroke-width="1.0" stroke-linecap="butt"/>
<line x1="31.60" y1="306.38" x2="35.00" y2="306.38" stroke="#161616" stroke-width="1.0" stroke-linecap="butt"/>
<line x1="31.60" y1="301.66" x2="35.00" y2="301.66" stroke="#161616" stroke-width="1.0" stroke-linecap="butt"/>
<line x1="31.60" y1="297.80" x2="35.00" y2="297.80" stroke="#161616" stroke-width="1.0" stroke-linecap="butt"/>
<line x1="31.60" y1="294.53" x2="35.00" y2="294.53" stroke="#161616" stroke-width="1.0" stroke-linecap="butt"/>
<line x1="31.60" y1="291.70" x2="35.00" y2="291.70" stroke="#161616" stroke-width="1.0" stroke-linecap="butt"/>
<line x1="31.60" y1="289.21" x2="35.00" y2="289.21" stroke="#161616" stroke-width="1.0" stroke-linecap="butt"/>
<line x1="30.00" y1="335.75" x2="35.00" y2="335.75" stroke="#161616" stroke-width="1.4" stroke-linecap="butt"/>
<line x1="31.60" y1="369.84" x2="35.00" y2="369.84" stroke="#161616" stroke-width="1.0" stroke-linecap="butt"/>
<line x1="31.60" y1="361.25" x2="35.00" y2="361.25" stroke="#161616" stroke-width="1.0" stroke-linecap="butt"/>
<line x1="31.60" y1="355.16" x2="35.00" y2="355.16" stroke="#161616" stroke-width="1.0" stroke-linecap="butt"/>
<line x1="31.60" y1="350.43" x2="35.00" y2="350.43" stroke="#161616" stroke-width="1.0" stroke-linecap="butt"/>
<line x1="31.60" y1="346.57" x2="35.00" y2="346.57" stroke="#161616" stroke-width="1.0" stroke-linecap="butt"/>
<line x1="31.60" y1="343.31" x2="35.00" y2="343.31" stroke="#161616" stroke-width="1.0" stroke-linecap="butt"/>
<line x1="31.60" y1="340.48" x2="35.00" y2="340.48" stroke="#161616" stroke-width="1.0" stroke-linecap="butt"/>
<line x1="31.60" y1="337.98" x2="35.00" y2="337.98" stroke="#161616" stroke-width="1.0" stroke-linecap="butt"/>
<line x1="30.00" y1="384.52" x2="35.00" y2="384.52" stroke="#161616" stroke-width="1.4" stroke-linecap="butt"/>
<line x1="31.60" y1="418.62" x2="35.00" y2="418.62" stroke="#161616" stroke-width="1.0" stroke-linecap="butt"/>
<line x1="31.60" y1="410.03" x2="35.00" y2="410.03" stroke="#161616" stroke-width="1.0" stroke-linecap="butt"/>
<line x1="31.60" y1="403.93" x2="35.00" y2="403.93" stroke="#161616" stroke-width="1.0" stroke-linecap="butt"/>
<line x1="31.60" y1="399.21" x2="35.00" y2="399.21" stroke="#161616" stroke-width="1.0" stroke-linecap="butt"/>
<line x1="31.60" y1="395.35" x2="35.00" y2="395.35" stroke="#161616" stroke-width="1.0" stroke-linecap="butt"/>
<line x1="31.60" y1="392.08" x2="35.00" y2="392.08" stroke="#161616" stroke-width="1.0" stroke-linecap="butt"/>
<line x1="31.60" y1="389.25" x2="35.00" y2="389.25" stroke="#161616" stroke-width="1.0" stroke-linecap="butt"/>
<line x1="31.60" y1="386.76" x2="35.00" y2="386.76" stroke="#161616" stroke-width="1.0" stroke-linecap="butt"/>
<line x1="30.00" y1="433.30" x2="35.00" y2="433.30" stroke="#161616" stroke-width="1.4" stroke-linecap="butt"/>
<line x1="35.00" y1="433.30" x2="35.00" y2="437.80" stroke="#161616" stroke-width="1.5" stroke-linecap="butt"/>
<text x="35.60" y="450.20" font-family="'Liberation Sans', sans-serif" font-size="12.8" font-weight="normal" text-anchor="middle" fill="#161616" stroke="#161616" stroke-width="0.32">0</text>
<line x1="69.50" y1="433.30" x2="69.50" y2="437.80" stroke="#161616" stroke-width="1.5" stroke-linecap="butt"/>
<text x="71.50" y="450.20" font-family="'Liberation Sans', sans-serif" font-size="12.8" font-weight="normal" text-anchor="end" fill="#161616" stroke="#161616" stroke-width="0.32">10</text>
<line x1="103.75" y1="433.30" x2="103.75" y2="437.80" stroke="#161616" stroke-width="1.5" stroke-linecap="butt"/>
<text x="105.75" y="450.20" font-family="'Liberation Sans', sans-serif" font-size="12.8" font-weight="normal" text-anchor="end" fill="#161616" stroke="#161616" stroke-width="0.32">20</text>
<line x1="138.00" y1="433.30" x2="138.00" y2="437.80" stroke="#161616" stroke-width="1.5" stroke-linecap="butt"/>
<text x="140.00" y="450.20" font-family="'Liberation Sans', sans-serif" font-size="12.8" font-weight="normal" text-anchor="end" fill="#161616" stroke="#161616" stroke-width="0.32">30</text>
<line x1="172.50" y1="433.30" x2="172.50" y2="437.80" stroke="#161616" stroke-width="1.5" stroke-linecap="butt"/>
<text x="174.50" y="450.20" font-family="'Liberation Sans', sans-serif" font-size="12.8" font-weight="normal" text-anchor="end" fill="#161616" stroke="#161616" stroke-width="0.32">40</text>
<line x1="207.00" y1="433.30" x2="207.00" y2="437.80" stroke="#161616" stroke-width="1.5" stroke-linecap="butt"/>
<text x="209.00" y="450.20" font-family="'Liberation Sans', sans-serif" font-size="12.8" font-weight="normal" text-anchor="end" fill="#161616" stroke="#161616" stroke-width="0.32">50</text>
<line x1="241.25" y1="433.30" x2="241.25" y2="437.80" stroke="#161616" stroke-width="1.5" stroke-linecap="butt"/>
<text x="243.25" y="450.20" font-family="'Liberation Sans', sans-serif" font-size="12.8" font-weight="normal" text-anchor="end" fill="#161616" stroke="#161616" stroke-width="0.32">60</text>
<text x="28.40" y="241.80" font-family="'Liberation Sans', sans-serif" font-size="12.2" font-weight="normal" text-anchor="middle" fill="#161616" stroke="#161616" stroke-width="0.32" transform="rotate(-90 28.40 241.80)">1000</text>
<text x="28.40" y="284.70" font-family="'Liberation Sans', sans-serif" font-size="12.2" font-weight="normal" text-anchor="middle" fill="#161616" stroke="#161616" stroke-width="0.32" transform="rotate(-90 28.40 284.70)">100</text>
<text x="28.40" y="333.50" font-family="'Liberation Sans', sans-serif" font-size="12.2" font-weight="normal" text-anchor="middle" fill="#161616" stroke="#161616" stroke-width="0.32" transform="rotate(-90 28.40 333.50)">10</text>
<text x="28.40" y="383.50" font-family="'Liberation Sans', sans-serif" font-size="12.2" font-weight="normal" text-anchor="middle" fill="#161616" stroke="#161616" stroke-width="0.32" transform="rotate(-90 28.40 383.50)">1</text>
<text x="28.40" y="426.00" font-family="'Liberation Sans', sans-serif" font-size="12.2" font-weight="normal" text-anchor="middle" fill="#161616" stroke="#161616" stroke-width="0.32" transform="rotate(-90 28.40 426.00)">.1</text>
<text x="103.70" y="461.60" font-family="'Liberation Serif', serif" font-size="12" font-weight="bold" text-anchor="start" fill="#161616" stroke="#161616" stroke-width="0.22">CD33-PE</text>
<text x="10.20" y="328.40" font-family="'Liberation Serif', serif" font-size="12" font-weight="bold" text-anchor="middle" fill="#161616" stroke="#161616" stroke-width="0.22" transform="rotate(-90 10.20 328.40)">Fas-FITC</text>
<text x="1.20" y="239.60" font-family="'Liberation Sans', sans-serif" font-size="25.5" font-weight="bold" text-anchor="start" fill="#161616" stroke="#161616" stroke-width="0.22">C</text>
<text x="59.00" y="259.60" font-family="'Liberation Serif', serif" font-size="15.2" font-weight="bold" text-anchor="start" fill="#161616" stroke="#161616" stroke-width="0.22">Gate on R2</text>
<text x="149.10" y="300.70" font-family="'Liberation Serif', serif" font-size="15.5" font-weight="bold" text-anchor="start" fill="#161616" stroke="#161616" stroke-width="0.22">R4</text>
<text x="152.40" y="402.40" font-family="'Liberation Serif', serif" font-size="15.5" font-weight="bold" text-anchor="start" fill="#161616" stroke="#161616" stroke-width="0.22">R5</text>
<text x="190.20" y="323.90" font-family="'Liberation Serif', serif" font-size="12.2" font-weight="bold" text-anchor="start" fill="#161616" stroke="#161616" stroke-width="0.22">Fas<tspan font-size="9" dy="-4">+</tspan></text>
<text x="190.20" y="407.60" font-family="'Liberation Serif', serif" font-size="12.2" font-weight="bold" text-anchor="start" fill="#161616" stroke="#161616" stroke-width="0.22">Fas<tspan font-size="9" dy="-4">-</tspan></text>
<path d="M372.47 429.75h3.82v3.45h-3.82zM372.47 426.69h3.82v3.45h-3.82zM372.47 411.43h3.82v3.45h-3.82zM372.47 408.38h3.82v3.45h-3.82zM372.47 405.32h3.82v3.45h-3.82zM372.47 402.27h3.82v3.45h-3.82zM372.47 399.22h3.82v3.45h-3.82zM372.47 396.16h3.82v3.45h-3.82zM372.47 393.11h3.82v3.45h-3.82zM372.47 390.06h3.82v3.45h-3.82zM372.47 383.95h3.82v3.45h-3.82zM372.47 380.90h3.82v3.45h-3.82zM372.47 371.74h3.82v3.45h-3.82zM372.47 368.69h3.82v3.45h-3.82zM375.89 414.48h3.82v3.45h-3.82zM375.89 402.27h3.82v3.45h-3.82zM375.89 399.22h3.82v3.45h-3.82zM375.89 387.00h3.82v3.45h-3.82zM375.89 383.95h3.82v3.45h-3.82zM375.89 380.90h3.82v3.45h-3.82zM375.89 371.74h3.82v3.45h-3.82zM375.89 368.69h3.82v3.45h-3.82zM375.89 359.53h3.82v3.45h-3.82zM379.31 420.59h3.82v3.45h-3.82zM379.31 399.22h3.82v3.45h-3.82zM379.31 396.16h3.82v3.45h-3.82zM379.31 393.11h3.82v3.45h-3.82zM379.31 390.06h3.82v3.45h-3.82zM379.31 387.00h3.82v3.45h-3.82zM379.31 383.95h3.82v3.45h-3.82zM379.31 380.90h3.82v3.45h-3.82zM379.31 377.85h3.82v3.45h-3.82zM379.31 374.79h3.82v3.45h-3.82zM379.31 347.32h3.82v3.45h-3.82zM379.31 332.05h3.82v3.45h-3.82zM382.73 429.75h3.82v3.45h-3.82zM382.73 408.38h3.82v3.45h-3.82zM382.73 405.32h3.82v3.45h-3.82zM382.73 402.27h3.82v3.45h-3.82zM382.73 399.22h3.82v3.45h-3.82zM382.73 396.16h3.82v3.45h-3.82zM382.73 393.11h3.82v3.45h-3.82zM382.73 390.06h3.82v3.45h-3.82zM382.73 387.00h3.82v3.45h-3.82zM382.73 383.95h3.82v3.45h-3.82zM382.73 380.90h3.82v3.45h-3.82zM382.73 368.69h3.82v3.45h-3.82zM382.73 341.21h3.82v3.45h-3.82zM382.73 335.10h3.82v3.45h-3.82zM386.14 429.75h3.82v3.45h-3.82zM386.14 411.43h3.82v3.45h-3.82zM386.14 405.32h3.82v3.45h-3.82zM386.14 402.27h3.82v3.45h-3.82zM386.14 399.22h3.82v3.45h-3.82zM386.14 396.16h3.82v3.45h-3.82zM386.14 393.11h3.82v3.45h-3.82zM386.14 390.06h3.82v3.45h-3.82zM386.14 387.00h3.82v3.45h-3.82zM386.14 383.95h3.82v3.45h-3.82zM386.14 380.90h3.82v3.45h-3.82zM386.14 377.85h3.82v3.45h-3.82zM386.14 350.37h3.82v3.45h-3.82zM386.14 344.26h3.82v3.45h-3.82zM386.14 335.10h3.82v3.45h-3.82zM386.14 316.79h3.82v3.45h-3.82zM389.56 405.32h3.82v3.45h-3.82zM389.56 402.27h3.82v3.45h-3.82zM389.56 399.22h3.82v3.45h-3.82zM389.56 396.16h3.82v3.45h-3.82zM389.56 393.11h3.82v3.45h-3.82zM389.56 390.06h3.82v3.45h-3.82zM389.56 380.90h3.82v3.45h-3.82zM389.56 377.85h3.82v3.45h-3.82zM389.56 374.79h3.82v3.45h-3.82zM389.56 359.53h3.82v3.45h-3.82zM389.56 344.26h3.82v3.45h-3.82zM389.56 341.21h3.82v3.45h-3.82zM389.56 335.10h3.82v3.45h-3.82zM389.56 329.00h3.82v3.45h-3.82zM392.98 405.32h3.82v3.45h-3.82zM392.98 396.16h3.82v3.45h-3.82zM392.98 393.11h3.82v3.45h-3.82zM392.98 390.06h3.82v3.45h-3.82zM392.98 387.00h3.82v3.45h-3.82zM392.98 380.90h3.82v3.45h-3.82zM392.98 377.85h3.82v3.45h-3.82zM392.98 374.79h3.82v3.45h-3.82zM392.98 371.74h3.82v3.45h-3.82zM392.98 368.69h3.82v3.45h-3.82zM392.98 344.26h3.82v3.45h-3.82zM392.98 341.21h3.82v3.45h-3.82zM392.98 335.10h3.82v3.45h-3.82zM392.98 332.05h3.82v3.45h-3.82zM396.39 359.53h3.82v3.45h-3.82zM396.39 347.32h3.82v3.45h-3.82zM396.39 344.26h3.82v3.45h-3.82zM396.39 341.21h3.82v3.45h-3.82zM396.39 338.16h3.82v3.45h-3.82zM396.39 335.10h3.82v3.45h-3.82zM396.39 332.05h3.82v3.45h-3.82zM396.39 316.79h3.82v3.45h-3.82zM399.81 362.58h3.82v3.45h-3.82zM399.81 359.53h3.82v3.45h-3.82zM399.81 347.32h3.82v3.45h-3.82zM399.81 344.26h3.82v3.45h-3.82zM399.81 341.21h3.82v3.45h-3.82zM399.81 335.10h3.82v3.45h-3.82zM399.81 332.05h3.82v3.45h-3.82zM403.23 405.32h3.82v3.45h-3.82zM403.23 402.27h3.82v3.45h-3.82zM403.23 399.22h3.82v3.45h-3.82zM403.23 396.16h3.82v3.45h-3.82zM403.23 393.11h3.82v3.45h-3.82zM403.23 390.06h3.82v3.45h-3.82zM403.23 387.00h3.82v3.45h-3.82zM403.23 383.95h3.82v3.45h-3.82zM403.23 380.90h3.82v3.45h-3.82zM403.23 377.85h3.82v3.45h-3.82zM403.23 374.79h3.82v3.45h-3.82zM403.23 356.48h3.82v3.45h-3.82zM403.23 347.32h3.82v3.45h-3.82zM403.23 344.26h3.82v3.45h-3.82zM403.23 341.21h3.82v3.45h-3.82zM403.23 338.16h3.82v3.45h-3.82zM403.23 335.10h3.82v3.45h-3.82zM403.23 322.89h3.82v3.45h-3.82zM406.64 405.32h3.82v3.45h-3.82zM406.64 399.22h3.82v3.45h-3.82zM406.64 396.16h3.82v3.45h-3.82zM406.64 393.11h3.82v3.45h-3.82zM406.64 390.06h3.82v3.45h-3.82zM406.64 387.00h3.82v3.45h-3.82zM406.64 383.95h3.82v3.45h-3.82zM406.64 380.90h3.82v3.45h-3.82zM406.64 377.85h3.82v3.45h-3.82zM406.64 374.79h3.82v3.45h-3.82zM406.64 368.69h3.82v3.45h-3.82zM406.64 347.32h3.82v3.45h-3.82zM406.64 344.26h3.82v3.45h-3.82zM406.64 341.21h3.82v3.45h-3.82zM406.64 338.16h3.82v3.45h-3.82zM406.64 335.10h3.82v3.45h-3.82zM406.64 332.05h3.82v3.45h-3.82zM410.06 429.75h3.82v3.45h-3.82zM410.06 420.59h3.82v3.45h-3.82zM410.06 417.54h3.82v3.45h-3.82zM410.06 405.32h3.82v3.45h-3.82zM410.06 402.27h3.82v3.45h-3.82zM410.06 399.22h3.82v3.45h-3.82zM410.06 396.16h3.82v3.45h-3.82zM410.06 393.11h3.82v3.45h-3.82zM410.06 390.06h3.82v3.45h-3.82zM410.06 387.00h3.82v3.45h-3.82zM410.06 383.95h3.82v3.45h-3.82zM410.06 377.85h3.82v3.45h-3.82zM410.06 374.79h3.82v3.45h-3.82zM410.06 368.69h3.82v3.45h-3.82zM410.06 362.58h3.82v3.45h-3.82zM410.06 356.48h3.82v3.45h-3.82zM410.06 353.42h3.82v3.45h-3.82zM410.06 350.37h3.82v3.45h-3.82zM410.06 347.32h3.82v3.45h-3.82zM410.06 344.26h3.82v3.45h-3.82zM410.06 341.21h3.82v3.45h-3.82zM410.06 338.16h3.82v3.45h-3.82zM410.06 335.10h3.82v3.45h-3.82zM410.06 332.05h3.82v3.45h-3.82zM410.06 329.00h3.82v3.45h-3.82zM410.06 325.94h3.82v3.45h-3.82zM410.06 316.79h3.82v3.45h-3.82zM410.06 307.63h3.82v3.45h-3.82zM410.06 301.52h3.82v3.45h-3.82zM410.06 298.47h3.82v3.45h-3.82zM413.48 429.75h3.82v3.45h-3.82zM413.48 426.69h3.82v3.45h-3.82zM413.48 420.59h3.82v3.45h-3.82zM413.48 417.54h3.82v3.45h-3.82zM413.48 414.48h3.82v3.45h-3.82zM413.48 411.43h3.82v3.45h-3.82zM413.48 408.38h3.82v3.45h-3.82zM413.48 402.27h3.82v3.45h-3.82zM413.48 399.22h3.82v3.45h-3.82zM413.48 396.16h3.82v3.45h-3.82zM413.48 393.11h3.82v3.45h-3.82zM413.48 390.06h3.82v3.45h-3.82zM413.48 387.00h3.82v3.45h-3.82zM413.48 383.95h3.82v3.45h-3.82zM413.48 377.85h3.82v3.45h-3.82zM413.48 374.79h3.82v3.45h-3.82zM413.48 368.69h3.82v3.45h-3.82zM413.48 359.53h3.82v3.45h-3.82zM413.48 356.48h3.82v3.45h-3.82zM413.48 353.42h3.82v3.45h-3.82zM413.48 350.37h3.82v3.45h-3.82zM413.48 347.32h3.82v3.45h-3.82zM413.48 344.26h3.82v3.45h-3.82zM413.48 341.21h3.82v3.45h-3.82zM413.48 338.16h3.82v3.45h-3.82zM413.48 335.10h3.82v3.45h-3.82zM413.48 332.05h3.82v3.45h-3.82zM413.48 329.00h3.82v3.45h-3.82zM413.48 304.57h3.82v3.45h-3.82zM413.48 301.52h3.82v3.45h-3.82zM416.90 423.64h3.82v3.45h-3.82zM416.90 420.59h3.82v3.45h-3.82zM416.90 417.54h3.82v3.45h-3.82zM416.90 414.48h3.82v3.45h-3.82zM416.90 411.43h3.82v3.45h-3.82zM416.90 408.38h3.82v3.45h-3.82zM416.90 405.32h3.82v3.45h-3.82zM416.90 402.27h3.82v3.45h-3.82zM416.90 399.22h3.82v3.45h-3.82zM416.90 390.06h3.82v3.45h-3.82zM416.90 387.00h3.82v3.45h-3.82zM416.90 383.95h3.82v3.45h-3.82zM416.90 380.90h3.82v3.45h-3.82zM416.90 377.85h3.82v3.45h-3.82zM416.90 368.69h3.82v3.45h-3.82zM416.90 359.53h3.82v3.45h-3.82zM416.90 356.48h3.82v3.45h-3.82zM416.90 353.42h3.82v3.45h-3.82zM416.90 350.37h3.82v3.45h-3.82zM416.90 347.32h3.82v3.45h-3.82zM416.90 344.26h3.82v3.45h-3.82zM416.90 341.21h3.82v3.45h-3.82zM416.90 338.16h3.82v3.45h-3.82zM416.90 335.10h3.82v3.45h-3.82zM416.90 332.05h3.82v3.45h-3.82zM416.90 329.00h3.82v3.45h-3.82zM416.90 304.57h3.82v3.45h-3.82zM416.90 298.47h3.82v3.45h-3.82zM420.31 426.69h3.82v3.45h-3.82zM420.31 420.59h3.82v3.45h-3.82zM420.31 417.54h3.82v3.45h-3.82zM420.31 414.48h3.82v3.45h-3.82zM420.31 408.38h3.82v3.45h-3.82zM420.31 405.32h3.82v3.45h-3.82zM420.31 402.27h3.82v3.45h-3.82zM420.31 396.16h3.82v3.45h-3.82zM420.31 393.11h3.82v3.45h-3.82zM420.31 390.06h3.82v3.45h-3.82zM420.31 387.00h3.82v3.45h-3.82zM420.31 383.95h3.82v3.45h-3.82zM420.31 380.90h3.82v3.45h-3.82zM420.31 377.85h3.82v3.45h-3.82zM420.31 374.79h3.82v3.45h-3.82zM420.31 371.74h3.82v3.45h-3.82zM420.31 359.53h3.82v3.45h-3.82zM420.31 356.48h3.82v3.45h-3.82zM420.31 353.42h3.82v3.45h-3.82zM420.31 350.37h3.82v3.45h-3.82zM420.31 347.32h3.82v3.45h-3.82zM420.31 344.26h3.82v3.45h-3.82zM420.31 341.21h3.82v3.45h-3.82zM420.31 338.16h3.82v3.45h-3.82zM420.31 335.10h3.82v3.45h-3.82zM420.31 332.05h3.82v3.45h-3.82zM420.31 329.00h3.82v3.45h-3.82zM420.31 319.84h3.82v3.45h-3.82zM420.31 304.57h3.82v3.45h-3.82zM420.31 295.42h3.82v3.45h-3.82zM423.73 426.69h3.82v3.45h-3.82zM423.73 420.59h3.82v3.45h-3.82zM423.73 417.54h3.82v3.45h-3.82zM423.73 414.48h3.82v3.45h-3.82zM423.73 411.43h3.82v3.45h-3.82zM423.73 408.38h3.82v3.45h-3.82zM423.73 405.32h3.82v3.45h-3.82zM423.73 402.27h3.82v3.45h-3.82zM423.73 399.22h3.82v3.45h-3.82zM423.73 396.16h3.82v3.45h-3.82zM423.73 393.11h3.82v3.45h-3.82zM423.73 390.06h3.82v3.45h-3.82zM423.73 387.00h3.82v3.45h-3.82zM423.73 383.95h3.82v3.45h-3.82zM423.73 380.90h3.82v3.45h-3.82zM423.73 377.85h3.82v3.45h-3.82zM423.73 374.79h3.82v3.45h-3.82zM423.73 371.74h3.82v3.45h-3.82zM423.73 359.53h3.82v3.45h-3.82zM423.73 356.48h3.82v3.45h-3.82zM423.73 353.42h3.82v3.45h-3.82zM423.73 350.37h3.82v3.45h-3.82zM423.73 347.32h3.82v3.45h-3.82zM423.73 344.26h3.82v3.45h-3.82zM423.73 341.21h3.82v3.45h-3.82zM423.73 338.16h3.82v3.45h-3.82zM423.73 335.10h3.82v3.45h-3.82zM423.73 332.05h3.82v3.45h-3.82zM423.73 329.00h3.82v3.45h-3.82zM423.73 325.94h3.82v3.45h-3.82zM427.15 429.75h3.82v3.45h-3.82zM427.15 426.69h3.82v3.45h-3.82zM427.15 423.64h3.82v3.45h-3.82zM427.15 420.59h3.82v3.45h-3.82zM427.15 417.54h3.82v3.45h-3.82zM427.15 414.48h3.82v3.45h-3.82zM427.15 411.43h3.82v3.45h-3.82zM427.15 408.38h3.82v3.45h-3.82zM427.15 405.32h3.82v3.45h-3.82zM427.15 402.27h3.82v3.45h-3.82zM427.15 399.22h3.82v3.45h-3.82zM427.15 396.16h3.82v3.45h-3.82zM427.15 393.11h3.82v3.45h-3.82zM427.15 390.06h3.82v3.45h-3.82zM427.15 387.00h3.82v3.45h-3.82zM427.15 383.95h3.82v3.45h-3.82zM427.15 380.90h3.82v3.45h-3.82zM427.15 377.85h3.82v3.45h-3.82zM427.15 374.79h3.82v3.45h-3.82zM427.15 371.74h3.82v3.45h-3.82zM427.15 368.69h3.82v3.45h-3.82zM427.15 365.63h3.82v3.45h-3.82zM427.15 353.42h3.82v3.45h-3.82zM427.15 347.32h3.82v3.45h-3.82zM427.15 344.26h3.82v3.45h-3.82zM427.15 338.16h3.82v3.45h-3.82zM427.15 335.10h3.82v3.45h-3.82zM427.15 332.05h3.82v3.45h-3.82zM427.15 329.00h3.82v3.45h-3.82zM427.15 325.94h3.82v3.45h-3.82zM430.56 429.75h3.82v3.45h-3.82zM430.56 426.69h3.82v3.45h-3.82zM430.56 423.64h3.82v3.45h-3.82zM430.56 420.59h3.82v3.45h-3.82zM430.56 417.54h3.82v3.45h-3.82zM430.56 414.48h3.82v3.45h-3.82zM430.56 411.43h3.82v3.45h-3.82zM430.56 408.38h3.82v3.45h-3.82zM430.56 405.32h3.82v3.45h-3.82zM430.56 402.27h3.82v3.45h-3.82zM430.56 399.22h3.82v3.45h-3.82zM430.56 396.16h3.82v3.45h-3.82zM430.56 393.11h3.82v3.45h-3.82zM430.56 390.06h3.82v3.45h-3.82zM430.56 387.00h3.82v3.45h-3.82zM430.56 383.95h3.82v3.45h-3.82zM430.56 380.90h3.82v3.45h-3.82zM430.56 377.85h3.82v3.45h-3.82zM430.56 368.69h3.82v3.45h-3.82zM430.56 347.32h3.82v3.45h-3.82zM430.56 344.26h3.82v3.45h-3.82zM430.56 341.21h3.82v3.45h-3.82zM430.56 338.16h3.82v3.45h-3.82zM430.56 335.10h3.82v3.45h-3.82zM430.56 332.05h3.82v3.45h-3.82zM430.56 325.94h3.82v3.45h-3.82zM430.56 322.89h3.82v3.45h-3.82zM433.98 429.75h3.82v3.45h-3.82zM433.98 426.69h3.82v3.45h-3.82zM433.98 420.59h3.82v3.45h-3.82zM433.98 417.54h3.82v3.45h-3.82zM433.98 414.48h3.82v3.45h-3.82zM433.98 411.43h3.82v3.45h-3.82zM433.98 408.38h3.82v3.45h-3.82zM433.98 405.32h3.82v3.45h-3.82zM433.98 402.27h3.82v3.45h-3.82zM433.98 399.22h3.82v3.45h-3.82zM433.98 396.16h3.82v3.45h-3.82zM433.98 393.11h3.82v3.45h-3.82zM433.98 390.06h3.82v3.45h-3.82zM433.98 387.00h3.82v3.45h-3.82zM433.98 383.95h3.82v3.45h-3.82zM433.98 380.90h3.82v3.45h-3.82zM433.98 377.85h3.82v3.45h-3.82zM433.98 374.79h3.82v3.45h-3.82zM433.98 368.69h3.82v3.45h-3.82zM433.98 362.58h3.82v3.45h-3.82zM433.98 350.37h3.82v3.45h-3.82zM433.98 347.32h3.82v3.45h-3.82zM433.98 344.26h3.82v3.45h-3.82zM433.98 341.21h3.82v3.45h-3.82zM433.98 338.16h3.82v3.45h-3.82zM433.98 335.10h3.82v3.45h-3.82zM433.98 332.05h3.82v3.45h-3.82zM433.98 329.00h3.82v3.45h-3.82zM433.98 325.94h3.82v3.45h-3.82zM433.98 316.79h3.82v3.45h-3.82zM433.98 304.57h3.82v3.45h-3.82zM437.40 429.75h3.82v3.45h-3.82zM437.40 423.64h3.82v3.45h-3.82zM437.40 417.54h3.82v3.45h-3.82zM437.40 414.48h3.82v3.45h-3.82zM437.40 408.38h3.82v3.45h-3.82zM437.40 405.32h3.82v3.45h-3.82zM437.40 399.22h3.82v3.45h-3.82zM437.40 396.16h3.82v3.45h-3.82zM437.40 393.11h3.82v3.45h-3.82zM437.40 387.00h3.82v3.45h-3.82zM437.40 383.95h3.82v3.45h-3.82zM437.40 380.90h3.82v3.45h-3.82zM437.40 377.85h3.82v3.45h-3.82zM437.40 374.79h3.82v3.45h-3.82zM437.40 371.74h3.82v3.45h-3.82zM437.40 362.58h3.82v3.45h-3.82zM437.40 347.32h3.82v3.45h-3.82zM437.40 344.26h3.82v3.45h-3.82zM437.40 341.21h3.82v3.45h-3.82zM437.40 338.16h3.82v3.45h-3.82zM437.40 335.10h3.82v3.45h-3.82zM437.40 332.05h3.82v3.45h-3.82zM437.40 329.00h3.82v3.45h-3.82zM437.40 325.94h3.82v3.45h-3.82zM440.81 429.75h3.82v3.45h-3.82zM440.81 426.69h3.82v3.45h-3.82zM440.81 423.64h3.82v3.45h-3.82zM440.81 420.59h3.82v3.45h-3.82zM440.81 414.48h3.82v3.45h-3.82zM440.81 411.43h3.82v3.45h-3.82zM440.81 408.38h3.82v3.45h-3.82zM440.81 405.32h3.82v3.45h-3.82zM440.81 402.27h3.82v3.45h-3.82zM440.81 399.22h3.82v3.45h-3.82zM440.81 396.16h3.82v3.45h-3.82zM440.81 393.11h3.82v3.45h-3.82zM440.81 390.06h3.82v3.45h-3.82zM440.81 387.00h3.82v3.45h-3.82zM440.81 383.95h3.82v3.45h-3.82zM440.81 380.90h3.82v3.45h-3.82zM440.81 377.85h3.82v3.45h-3.82zM440.81 374.79h3.82v3.45h-3.82zM440.81 371.74h3.82v3.45h-3.82zM440.81 365.63h3.82v3.45h-3.82zM440.81 362.58h3.82v3.45h-3.82zM440.81 347.32h3.82v3.45h-3.82zM440.81 344.26h3.82v3.45h-3.82zM440.81 341.21h3.82v3.45h-3.82zM440.81 338.16h3.82v3.45h-3.82zM440.81 335.10h3.82v3.45h-3.82zM440.81 332.05h3.82v3.45h-3.82zM440.81 319.84h3.82v3.45h-3.82zM440.81 298.47h3.82v3.45h-3.82zM444.23 429.75h3.82v3.45h-3.82zM444.23 426.69h3.82v3.45h-3.82zM444.23 423.64h3.82v3.45h-3.82zM444.23 420.59h3.82v3.45h-3.82zM444.23 417.54h3.82v3.45h-3.82zM444.23 411.43h3.82v3.45h-3.82zM444.23 408.38h3.82v3.45h-3.82zM444.23 405.32h3.82v3.45h-3.82zM444.23 402.27h3.82v3.45h-3.82zM444.23 399.22h3.82v3.45h-3.82zM444.23 396.16h3.82v3.45h-3.82zM444.23 393.11h3.82v3.45h-3.82zM444.23 390.06h3.82v3.45h-3.82zM444.23 387.00h3.82v3.45h-3.82zM444.23 383.95h3.82v3.45h-3.82zM444.23 380.90h3.82v3.45h-3.82zM444.23 377.85h3.82v3.45h-3.82zM444.23 374.79h3.82v3.45h-3.82zM444.23 371.74h3.82v3.45h-3.82zM444.23 368.69h3.82v3.45h-3.82zM444.23 365.63h3.82v3.45h-3.82zM444.23 359.53h3.82v3.45h-3.82zM444.23 347.32h3.82v3.45h-3.82zM444.23 344.26h3.82v3.45h-3.82zM444.23 341.21h3.82v3.45h-3.82zM444.23 338.16h3.82v3.45h-3.82zM444.23 335.10h3.82v3.45h-3.82zM444.23 332.05h3.82v3.45h-3.82zM444.23 329.00h3.82v3.45h-3.82zM444.23 322.89h3.82v3.45h-3.82zM447.65 426.69h3.82v3.45h-3.82zM447.65 423.64h3.82v3.45h-3.82zM447.65 420.59h3.82v3.45h-3.82zM447.65 417.54h3.82v3.45h-3.82zM447.65 414.48h3.82v3.45h-3.82zM447.65 411.43h3.82v3.45h-3.82zM447.65 408.38h3.82v3.45h-3.82zM447.65 405.32h3.82v3.45h-3.82zM447.65 402.27h3.82v3.45h-3.82zM447.65 399.22h3.82v3.45h-3.82zM447.65 396.16h3.82v3.45h-3.82zM447.65 393.11h3.82v3.45h-3.82zM447.65 390.06h3.82v3.45h-3.82zM447.65 387.00h3.82v3.45h-3.82zM447.65 383.95h3.82v3.45h-3.82zM447.65 380.90h3.82v3.45h-3.82zM447.65 377.85h3.82v3.45h-3.82zM447.65 374.79h3.82v3.45h-3.82zM447.65 368.69h3.82v3.45h-3.82zM447.65 359.53h3.82v3.45h-3.82zM447.65 353.42h3.82v3.45h-3.82zM447.65 350.37h3.82v3.45h-3.82zM447.65 347.32h3.82v3.45h-3.82zM447.65 344.26h3.82v3.45h-3.82zM447.65 341.21h3.82v3.45h-3.82zM447.65 338.16h3.82v3.45h-3.82zM447.65 335.10h3.82v3.45h-3.82zM447.65 332.05h3.82v3.45h-3.82zM447.65 329.00h3.82v3.45h-3.82zM447.65 325.94h3.82v3.45h-3.82zM447.65 322.89h3.82v3.45h-3.82zM447.65 304.57h3.82v3.45h-3.82zM451.06 429.75h3.82v3.45h-3.82zM451.06 423.64h3.82v3.45h-3.82zM451.06 420.59h3.82v3.45h-3.82zM451.06 417.54h3.82v3.45h-3.82zM451.06 414.48h3.82v3.45h-3.82zM451.06 411.43h3.82v3.45h-3.82zM451.06 408.38h3.82v3.45h-3.82zM451.06 405.32h3.82v3.45h-3.82zM451.06 402.27h3.82v3.45h-3.82zM451.06 399.22h3.82v3.45h-3.82zM451.06 396.16h3.82v3.45h-3.82zM451.06 393.11h3.82v3.45h-3.82zM451.06 390.06h3.82v3.45h-3.82zM451.06 387.00h3.82v3.45h-3.82zM451.06 383.95h3.82v3.45h-3.82zM451.06 380.90h3.82v3.45h-3.82zM451.06 377.85h3.82v3.45h-3.82zM451.06 374.79h3.82v3.45h-3.82zM451.06 371.74h3.82v3.45h-3.82zM451.06 359.53h3.82v3.45h-3.82zM451.06 353.42h3.82v3.45h-3.82zM451.06 347.32h3.82v3.45h-3.82zM451.06 344.26h3.82v3.45h-3.82zM451.06 341.21h3.82v3.45h-3.82zM451.06 335.10h3.82v3.45h-3.82zM451.06 332.05h3.82v3.45h-3.82zM451.06 329.00h3.82v3.45h-3.82zM451.06 325.94h3.82v3.45h-3.82zM451.06 298.47h3.82v3.45h-3.82zM454.48 429.75h3.82v3.45h-3.82zM454.48 423.64h3.82v3.45h-3.82zM454.48 420.59h3.82v3.45h-3.82zM454.48 417.54h3.82v3.45h-3.82zM454.48 414.48h3.82v3.45h-3.82zM454.48 411.43h3.82v3.45h-3.82zM454.48 408.38h3.82v3.45h-3.82zM454.48 405.32h3.82v3.45h-3.82zM454.48 402.27h3.82v3.45h-3.82zM454.48 399.22h3.82v3.45h-3.82zM454.48 396.16h3.82v3.45h-3.82zM454.48 393.11h3.82v3.45h-3.82zM454.48 390.06h3.82v3.45h-3.82zM454.48 387.00h3.82v3.45h-3.82zM454.48 383.95h3.82v3.45h-3.82zM454.48 380.90h3.82v3.45h-3.82zM454.48 377.85h3.82v3.45h-3.82zM454.48 374.79h3.82v3.45h-3.82zM454.48 371.74h3.82v3.45h-3.82zM454.48 359.53h3.82v3.45h-3.82zM454.48 356.48h3.82v3.45h-3.82zM454.48 353.42h3.82v3.45h-3.82zM454.48 350.37h3.82v3.45h-3.82zM454.48 344.26h3.82v3.45h-3.82zM454.48 341.21h3.82v3.45h-3.82zM454.48 338.16h3.82v3.45h-3.82zM454.48 335.10h3.82v3.45h-3.82zM454.48 332.05h3.82v3.45h-3.82zM454.48 329.00h3.82v3.45h-3.82zM454.48 325.94h3.82v3.45h-3.82zM454.48 322.89h3.82v3.45h-3.82zM454.48 319.84h3.82v3.45h-3.82zM454.48 304.57h3.82v3.45h-3.82zM454.48 298.47h3.82v3.45h-3.82zM457.90 429.75h3.82v3.45h-3.82zM457.90 426.69h3.82v3.45h-3.82zM457.90 423.64h3.82v3.45h-3.82zM457.90 420.59h3.82v3.45h-3.82zM457.90 417.54h3.82v3.45h-3.82zM457.90 414.48h3.82v3.45h-3.82zM457.90 411.43h3.82v3.45h-3.82zM457.90 408.38h3.82v3.45h-3.82zM457.90 405.32h3.82v3.45h-3.82zM457.90 402.27h3.82v3.45h-3.82zM457.90 399.22h3.82v3.45h-3.82zM457.90 396.16h3.82v3.45h-3.82zM457.90 393.11h3.82v3.45h-3.82zM457.90 390.06h3.82v3.45h-3.82zM457.90 387.00h3.82v3.45h-3.82zM457.90 383.95h3.82v3.45h-3.82zM457.90 380.90h3.82v3.45h-3.82zM457.90 377.85h3.82v3.45h-3.82zM457.90 371.74h3.82v3.45h-3.82zM457.90 362.58h3.82v3.45h-3.82zM457.90 359.53h3.82v3.45h-3.82zM457.90 356.48h3.82v3.45h-3.82zM457.90 353.42h3.82v3.45h-3.82zM457.90 350.37h3.82v3.45h-3.82zM457.90 344.26h3.82v3.45h-3.82zM457.90 341.21h3.82v3.45h-3.82zM457.90 338.16h3.82v3.45h-3.82zM457.90 335.10h3.82v3.45h-3.82zM457.90 332.05h3.82v3.45h-3.82zM457.90 329.00h3.82v3.45h-3.82zM457.90 325.94h3.82v3.45h-3.82zM457.90 319.84h3.82v3.45h-3.82zM461.32 429.75h3.82v3.45h-3.82zM461.32 423.64h3.82v3.45h-3.82zM461.32 420.59h3.82v3.45h-3.82zM461.32 417.54h3.82v3.45h-3.82zM461.32 414.48h3.82v3.45h-3.82zM461.32 411.43h3.82v3.45h-3.82zM461.32 408.38h3.82v3.45h-3.82zM461.32 405.32h3.82v3.45h-3.82zM461.32 402.27h3.82v3.45h-3.82zM461.32 399.22h3.82v3.45h-3.82zM461.32 396.16h3.82v3.45h-3.82zM461.32 393.11h3.82v3.45h-3.82zM461.32 390.06h3.82v3.45h-3.82zM461.32 387.00h3.82v3.45h-3.82zM461.32 383.95h3.82v3.45h-3.82zM461.32 380.90h3.82v3.45h-3.82zM461.32 377.85h3.82v3.45h-3.82zM461.32 374.79h3.82v3.45h-3.82zM461.32 371.74h3.82v3.45h-3.82zM461.32 359.53h3.82v3.45h-3.82zM461.32 356.48h3.82v3.45h-3.82zM461.32 353.42h3.82v3.45h-3.82zM461.32 350.37h3.82v3.45h-3.82zM461.32 344.26h3.82v3.45h-3.82zM461.32 341.21h3.82v3.45h-3.82zM461.32 338.16h3.82v3.45h-3.82zM461.32 335.10h3.82v3.45h-3.82zM461.32 332.05h3.82v3.45h-3.82zM461.32 329.00h3.82v3.45h-3.82zM461.32 325.94h3.82v3.45h-3.82zM461.32 322.89h3.82v3.45h-3.82zM461.32 319.84h3.82v3.45h-3.82zM461.32 310.68h3.82v3.45h-3.82zM464.73 429.75h3.82v3.45h-3.82zM464.73 426.69h3.82v3.45h-3.82zM464.73 423.64h3.82v3.45h-3.82zM464.73 417.54h3.82v3.45h-3.82zM464.73 414.48h3.82v3.45h-3.82zM464.73 411.43h3.82v3.45h-3.82zM464.73 408.38h3.82v3.45h-3.82zM464.73 405.32h3.82v3.45h-3.82zM464.73 402.27h3.82v3.45h-3.82zM464.73 399.22h3.82v3.45h-3.82zM464.73 396.16h3.82v3.45h-3.82zM464.73 393.11h3.82v3.45h-3.82zM464.73 390.06h3.82v3.45h-3.82zM464.73 387.00h3.82v3.45h-3.82zM464.73 383.95h3.82v3.45h-3.82zM464.73 380.90h3.82v3.45h-3.82zM464.73 377.85h3.82v3.45h-3.82zM464.73 374.79h3.82v3.45h-3.82zM464.73 371.74h3.82v3.45h-3.82zM464.73 362.58h3.82v3.45h-3.82zM464.73 359.53h3.82v3.45h-3.82zM464.73 353.42h3.82v3.45h-3.82zM464.73 341.21h3.82v3.45h-3.82zM464.73 338.16h3.82v3.45h-3.82zM464.73 335.10h3.82v3.45h-3.82zM464.73 332.05h3.82v3.45h-3.82zM464.73 329.00h3.82v3.45h-3.82zM464.73 325.94h3.82v3.45h-3.82zM464.73 322.89h3.82v3.45h-3.82zM464.73 316.79h3.82v3.45h-3.82zM468.15 429.75h3.82v3.45h-3.82zM468.15 426.69h3.82v3.45h-3.82zM468.15 423.64h3.82v3.45h-3.82zM468.15 420.59h3.82v3.45h-3.82zM468.15 417.54h3.82v3.45h-3.82zM468.15 414.48h3.82v3.45h-3.82zM468.15 411.43h3.82v3.45h-3.82zM468.15 408.38h3.82v3.45h-3.82zM468.15 405.32h3.82v3.45h-3.82zM468.15 402.27h3.82v3.45h-3.82zM468.15 399.22h3.82v3.45h-3.82zM468.15 396.16h3.82v3.45h-3.82zM468.15 393.11h3.82v3.45h-3.82zM468.15 390.06h3.82v3.45h-3.82zM468.15 387.00h3.82v3.45h-3.82zM468.15 383.95h3.82v3.45h-3.82zM468.15 380.90h3.82v3.45h-3.82zM468.15 377.85h3.82v3.45h-3.82zM468.15 374.79h3.82v3.45h-3.82zM468.15 371.74h3.82v3.45h-3.82zM468.15 347.32h3.82v3.45h-3.82zM468.15 338.16h3.82v3.45h-3.82zM468.15 335.10h3.82v3.45h-3.82zM468.15 332.05h3.82v3.45h-3.82zM468.15 329.00h3.82v3.45h-3.82zM468.15 325.94h3.82v3.45h-3.82zM471.57 429.75h3.82v3.45h-3.82zM471.57 423.64h3.82v3.45h-3.82zM471.57 420.59h3.82v3.45h-3.82zM471.57 417.54h3.82v3.45h-3.82zM471.57 414.48h3.82v3.45h-3.82zM471.57 411.43h3.82v3.45h-3.82zM471.57 408.38h3.82v3.45h-3.82zM471.57 405.32h3.82v3.45h-3.82zM471.57 402.27h3.82v3.45h-3.82zM471.57 399.22h3.82v3.45h-3.82zM471.57 396.16h3.82v3.45h-3.82zM471.57 393.11h3.82v3.45h-3.82zM471.57 390.06h3.82v3.45h-3.82zM471.57 387.00h3.82v3.45h-3.82zM471.57 383.95h3.82v3.45h-3.82zM471.57 380.90h3.82v3.45h-3.82zM471.57 377.85h3.82v3.45h-3.82zM471.57 356.48h3.82v3.45h-3.82zM471.57 350.37h3.82v3.45h-3.82zM471.57 338.16h3.82v3.45h-3.82zM471.57 335.10h3.82v3.45h-3.82zM471.57 332.05h3.82v3.45h-3.82zM471.57 329.00h3.82v3.45h-3.82zM471.57 322.89h3.82v3.45h-3.82zM471.57 319.84h3.82v3.45h-3.82zM474.98 429.75h3.82v3.45h-3.82zM474.98 423.64h3.82v3.45h-3.82zM474.98 420.59h3.82v3.45h-3.82zM474.98 417.54h3.82v3.45h-3.82zM474.98 414.48h3.82v3.45h-3.82zM474.98 411.43h3.82v3.45h-3.82zM474.98 408.38h3.82v3.45h-3.82zM474.98 405.32h3.82v3.45h-3.82zM474.98 402.27h3.82v3.45h-3.82zM474.98 399.22h3.82v3.45h-3.82zM474.98 396.16h3.82v3.45h-3.82zM474.98 393.11h3.82v3.45h-3.82zM474.98 390.06h3.82v3.45h-3.82zM474.98 387.00h3.82v3.45h-3.82zM474.98 383.95h3.82v3.45h-3.82zM474.98 380.90h3.82v3.45h-3.82zM474.98 377.85h3.82v3.45h-3.82zM474.98 374.79h3.82v3.45h-3.82zM474.98 368.69h3.82v3.45h-3.82zM474.98 347.32h3.82v3.45h-3.82zM474.98 338.16h3.82v3.45h-3.82zM474.98 335.10h3.82v3.45h-3.82zM474.98 329.00h3.82v3.45h-3.82zM474.98 322.89h3.82v3.45h-3.82zM474.98 319.84h3.82v3.45h-3.82zM478.40 429.75h3.82v3.45h-3.82zM478.40 426.69h3.82v3.45h-3.82zM478.40 423.64h3.82v3.45h-3.82zM478.40 420.59h3.82v3.45h-3.82zM478.40 417.54h3.82v3.45h-3.82zM478.40 414.48h3.82v3.45h-3.82zM478.40 411.43h3.82v3.45h-3.82zM478.40 408.38h3.82v3.45h-3.82zM478.40 405.32h3.82v3.45h-3.82zM478.40 402.27h3.82v3.45h-3.82zM478.40 399.22h3.82v3.45h-3.82zM478.40 396.16h3.82v3.45h-3.82zM478.40 393.11h3.82v3.45h-3.82zM478.40 390.06h3.82v3.45h-3.82zM478.40 387.00h3.82v3.45h-3.82zM478.40 383.95h3.82v3.45h-3.82zM478.40 380.90h3.82v3.45h-3.82zM478.40 377.85h3.82v3.45h-3.82zM478.40 374.79h3.82v3.45h-3.82zM478.40 350.37h3.82v3.45h-3.82zM478.40 335.10h3.82v3.45h-3.82zM478.40 329.00h3.82v3.45h-3.82zM478.40 325.94h3.82v3.45h-3.82zM478.40 322.89h3.82v3.45h-3.82zM478.40 319.84h3.82v3.45h-3.82zM481.82 429.75h3.82v3.45h-3.82zM481.82 420.59h3.82v3.45h-3.82zM481.82 417.54h3.82v3.45h-3.82zM481.82 414.48h3.82v3.45h-3.82zM481.82 411.43h3.82v3.45h-3.82zM481.82 408.38h3.82v3.45h-3.82zM481.82 405.32h3.82v3.45h-3.82zM481.82 402.27h3.82v3.45h-3.82zM481.82 399.22h3.82v3.45h-3.82zM481.82 396.16h3.82v3.45h-3.82zM481.82 393.11h3.82v3.45h-3.82zM481.82 390.06h3.82v3.45h-3.82zM481.82 387.00h3.82v3.45h-3.82zM481.82 380.90h3.82v3.45h-3.82zM481.82 377.85h3.82v3.45h-3.82zM481.82 374.79h3.82v3.45h-3.82zM481.82 365.63h3.82v3.45h-3.82zM481.82 347.32h3.82v3.45h-3.82zM481.82 329.00h3.82v3.45h-3.82zM481.82 325.94h3.82v3.45h-3.82zM481.82 322.89h3.82v3.45h-3.82zM481.82 319.84h3.82v3.45h-3.82zM485.24 423.64h3.82v3.45h-3.82zM485.24 420.59h3.82v3.45h-3.82zM485.24 417.54h3.82v3.45h-3.82zM485.24 414.48h3.82v3.45h-3.82zM485.24 411.43h3.82v3.45h-3.82zM485.24 408.38h3.82v3.45h-3.82zM485.24 405.32h3.82v3.45h-3.82zM485.24 402.27h3.82v3.45h-3.82zM485.24 399.22h3.82v3.45h-3.82zM485.24 396.16h3.82v3.45h-3.82zM485.24 393.11h3.82v3.45h-3.82zM485.24 390.06h3.82v3.45h-3.82zM485.24 387.00h3.82v3.45h-3.82zM485.24 383.95h3.82v3.45h-3.82zM485.24 380.90h3.82v3.45h-3.82zM485.24 377.85h3.82v3.45h-3.82zM485.24 374.79h3.82v3.45h-3.82zM485.24 371.74h3.82v3.45h-3.82zM485.24 368.69h3.82v3.45h-3.82zM485.24 329.00h3.82v3.45h-3.82zM485.24 325.94h3.82v3.45h-3.82zM488.65 429.75h3.82v3.45h-3.82zM488.65 423.64h3.82v3.45h-3.82zM488.65 420.59h3.82v3.45h-3.82zM488.65 417.54h3.82v3.45h-3.82zM488.65 414.48h3.82v3.45h-3.82zM488.65 411.43h3.82v3.45h-3.82zM488.65 408.38h3.82v3.45h-3.82zM488.65 405.32h3.82v3.45h-3.82zM488.65 402.27h3.82v3.45h-3.82zM488.65 399.22h3.82v3.45h-3.82zM488.65 396.16h3.82v3.45h-3.82zM488.65 393.11h3.82v3.45h-3.82zM488.65 390.06h3.82v3.45h-3.82zM488.65 387.00h3.82v3.45h-3.82zM488.65 383.95h3.82v3.45h-3.82zM488.65 380.90h3.82v3.45h-3.82zM488.65 377.85h3.82v3.45h-3.82zM488.65 374.79h3.82v3.45h-3.82zM488.65 371.74h3.82v3.45h-3.82zM488.65 353.42h3.82v3.45h-3.82zM488.65 325.94h3.82v3.45h-3.82zM488.65 322.89h3.82v3.45h-3.82zM492.07 429.75h3.82v3.45h-3.82zM492.07 426.69h3.82v3.45h-3.82zM492.07 423.64h3.82v3.45h-3.82zM492.07 420.59h3.82v3.45h-3.82zM492.07 417.54h3.82v3.45h-3.82zM492.07 414.48h3.82v3.45h-3.82zM492.07 411.43h3.82v3.45h-3.82zM492.07 408.38h3.82v3.45h-3.82zM492.07 405.32h3.82v3.45h-3.82zM492.07 402.27h3.82v3.45h-3.82zM492.07 399.22h3.82v3.45h-3.82zM492.07 396.16h3.82v3.45h-3.82zM492.07 393.11h3.82v3.45h-3.82zM492.07 390.06h3.82v3.45h-3.82zM492.07 387.00h3.82v3.45h-3.82zM492.07 383.95h3.82v3.45h-3.82zM492.07 380.90h3.82v3.45h-3.82zM492.07 377.85h3.82v3.45h-3.82zM492.07 374.79h3.82v3.45h-3.82zM492.07 371.74h3.82v3.45h-3.82zM492.07 368.69h3.82v3.45h-3.82zM492.07 347.32h3.82v3.45h-3.82zM492.07 338.16h3.82v3.45h-3.82zM492.07 319.84h3.82v3.45h-3.82zM492.07 316.79h3.82v3.45h-3.82zM495.49 429.75h3.82v3.45h-3.82zM495.49 426.69h3.82v3.45h-3.82zM495.49 423.64h3.82v3.45h-3.82zM495.49 420.59h3.82v3.45h-3.82zM495.49 417.54h3.82v3.45h-3.82zM495.49 411.43h3.82v3.45h-3.82zM495.49 408.38h3.82v3.45h-3.82zM495.49 405.32h3.82v3.45h-3.82zM495.49 402.27h3.82v3.45h-3.82zM495.49 399.22h3.82v3.45h-3.82zM495.49 396.16h3.82v3.45h-3.82zM495.49 393.11h3.82v3.45h-3.82zM495.49 390.06h3.82v3.45h-3.82zM495.49 387.00h3.82v3.45h-3.82zM495.49 383.95h3.82v3.45h-3.82zM495.49 380.90h3.82v3.45h-3.82zM495.49 377.85h3.82v3.45h-3.82zM495.49 359.53h3.82v3.45h-3.82zM495.49 356.48h3.82v3.45h-3.82zM495.49 350.37h3.82v3.45h-3.82zM495.49 335.10h3.82v3.45h-3.82zM495.49 325.94h3.82v3.45h-3.82zM495.49 319.84h3.82v3.45h-3.82zM498.90 423.64h3.82v3.45h-3.82zM498.90 417.54h3.82v3.45h-3.82zM498.90 414.48h3.82v3.45h-3.82zM498.90 411.43h3.82v3.45h-3.82zM498.90 408.38h3.82v3.45h-3.82zM498.90 405.32h3.82v3.45h-3.82zM498.90 402.27h3.82v3.45h-3.82zM498.90 399.22h3.82v3.45h-3.82zM498.90 396.16h3.82v3.45h-3.82zM498.90 393.11h3.82v3.45h-3.82zM498.90 390.06h3.82v3.45h-3.82zM498.90 387.00h3.82v3.45h-3.82zM498.90 383.95h3.82v3.45h-3.82zM498.90 380.90h3.82v3.45h-3.82zM498.90 377.85h3.82v3.45h-3.82zM498.90 374.79h3.82v3.45h-3.82zM498.90 368.69h3.82v3.45h-3.82zM498.90 365.63h3.82v3.45h-3.82zM498.90 332.05h3.82v3.45h-3.82zM498.90 325.94h3.82v3.45h-3.82zM498.90 322.89h3.82v3.45h-3.82zM502.32 429.75h3.82v3.45h-3.82zM502.32 417.54h3.82v3.45h-3.82zM502.32 414.48h3.82v3.45h-3.82zM502.32 411.43h3.82v3.45h-3.82zM502.32 408.38h3.82v3.45h-3.82zM502.32 405.32h3.82v3.45h-3.82zM502.32 402.27h3.82v3.45h-3.82zM502.32 399.22h3.82v3.45h-3.82zM502.32 396.16h3.82v3.45h-3.82zM502.32 393.11h3.82v3.45h-3.82zM502.32 390.06h3.82v3.45h-3.82zM502.32 387.00h3.82v3.45h-3.82zM502.32 383.95h3.82v3.45h-3.82zM502.32 380.90h3.82v3.45h-3.82zM502.32 377.85h3.82v3.45h-3.82zM502.32 374.79h3.82v3.45h-3.82zM502.32 371.74h3.82v3.45h-3.82zM502.32 368.69h3.82v3.45h-3.82zM502.32 335.10h3.82v3.45h-3.82zM505.74 341.21h3.82v3.45h-3.82zM505.74 338.16h3.82v3.45h-3.82z" fill="#161616"/>
<path d="M389.71 391.26h3.52v1.05h-3.52zM396.54 333.25h3.52v1.05h-3.52zM406.79 394.31h3.52v1.05h-3.52zM407.54 391.26h2.02v1.05h-2.02zM407.54 388.20h2.02v1.05h-2.02zM410.21 385.15h3.52v1.05h-3.52zM410.21 348.52h3.52v1.05h-3.52zM413.63 418.74h3.52v1.05h-3.52zM420.46 351.57h3.52v1.05h-3.52zM420.46 345.46h3.52v1.05h-3.52zM423.88 375.99h3.52v1.05h-3.52zM427.30 427.89h3.52v1.05h-3.52zM427.30 421.79h3.52v1.05h-3.52zM427.30 418.74h3.52v1.05h-3.52zM427.30 348.52h3.52v1.05h-3.52zM430.71 391.26h3.52v1.05h-3.52zM430.71 339.36h3.52v1.05h-3.52zM431.46 336.30h2.02v1.05h-2.02zM434.13 409.58h3.52v1.05h-3.52zM437.55 409.58h3.52v1.05h-3.52zM438.30 385.15h2.02v1.05h-2.02zM441.71 397.36h2.02v1.05h-2.02zM444.38 421.79h3.52v1.05h-3.52zM444.38 348.52h3.52v1.05h-3.52zM444.38 342.41h3.52v1.05h-3.52zM447.80 418.74h3.52v1.05h-3.52zM451.21 375.99h3.52v1.05h-3.52zM461.47 372.94h3.52v1.05h-3.52zM465.63 430.95h2.02v1.05h-2.02zM465.63 333.25h2.02v1.05h-2.02zM468.30 412.63h3.52v1.05h-3.52zM471.72 339.36h3.52v1.05h-3.52zM471.72 330.20h3.52v1.05h-3.52zM475.13 409.58h3.52v1.05h-3.52zM478.55 400.42h3.52v1.05h-3.52zM489.55 418.74h2.02v1.05h-2.02zM489.55 397.36h2.02v1.05h-2.02zM495.64 385.15h3.52v1.05h-3.52z" fill="#8c8c8c"/>
<path d="M382.88 382.10h3.52v1.05h-3.52zM393.13 342.41h3.52v1.05h-3.52zM410.21 375.99h3.52v1.05h-3.52zM413.63 330.20h3.52v1.05h-3.52zM423.88 339.36h3.52v1.05h-3.52zM427.30 397.36h3.52v1.05h-3.52zM427.30 336.30h3.52v1.05h-3.52zM434.13 400.42h3.52v1.05h-3.52zM440.96 394.31h3.52v1.05h-3.52zM454.63 421.79h3.52v1.05h-3.52zM458.05 354.62h3.52v1.05h-3.52zM468.30 418.74h3.52v1.05h-3.52zM475.13 415.68h3.52v1.05h-3.52zM475.13 382.10h3.52v1.05h-3.52zM478.55 379.05h3.52v1.05h-3.52zM481.97 379.05h3.52v1.05h-3.52zM488.80 409.58h3.52v1.05h-3.52zM495.64 382.10h3.52v1.05h-3.52z" fill="#b4b4b4"/>
<path d="M377.19 400.42h1.22v1.05h-1.22zM377.19 385.15h1.22v1.05h-1.22zM377.19 382.10h1.22v1.05h-1.22zM380.61 400.42h1.22v1.05h-1.22zM380.61 388.20h1.22v1.05h-1.22zM380.61 385.15h1.22v1.05h-1.22zM380.61 382.10h1.22v1.05h-1.22zM384.03 400.42h1.22v1.05h-1.22zM384.03 397.36h1.22v1.05h-1.22zM384.03 394.31h1.22v1.05h-1.22zM384.03 391.26h1.22v1.05h-1.22zM384.03 388.20h1.22v1.05h-1.22zM384.03 385.15h1.22v1.05h-1.22zM387.44 406.52h1.22v1.05h-1.22zM387.44 403.47h1.22v1.05h-1.22zM387.44 400.42h1.22v1.05h-1.22zM387.44 397.36h1.22v1.05h-1.22zM387.44 394.31h1.22v1.05h-1.22zM387.44 391.26h1.22v1.05h-1.22zM387.44 382.10h1.22v1.05h-1.22zM390.86 406.52h1.22v1.05h-1.22zM390.86 397.36h1.22v1.05h-1.22zM390.86 394.31h1.22v1.05h-1.22zM390.86 382.10h1.22v1.05h-1.22zM390.86 379.05h1.22v1.05h-1.22zM390.86 345.46h1.22v1.05h-1.22zM394.28 345.46h1.22v1.05h-1.22zM394.28 336.30h1.22v1.05h-1.22zM397.69 345.46h1.22v1.05h-1.22zM397.69 342.41h1.22v1.05h-1.22zM397.69 336.30h1.22v1.05h-1.22zM401.11 348.52h1.22v1.05h-1.22zM401.11 345.46h1.22v1.05h-1.22zM401.11 342.41h1.22v1.05h-1.22zM401.11 336.30h1.22v1.05h-1.22zM404.53 345.46h1.22v1.05h-1.22zM404.53 342.41h1.22v1.05h-1.22zM404.53 336.30h1.22v1.05h-1.22zM407.94 400.42h1.22v1.05h-1.22zM407.94 397.36h1.22v1.05h-1.22zM407.94 385.15h1.22v1.05h-1.22zM407.94 379.05h1.22v1.05h-1.22zM407.94 375.99h1.22v1.05h-1.22zM407.94 348.52h1.22v1.05h-1.22zM407.94 345.46h1.22v1.05h-1.22zM407.94 342.41h1.22v1.05h-1.22zM407.94 339.36h1.22v1.05h-1.22zM407.94 336.30h1.22v1.05h-1.22zM411.36 400.42h1.22v1.05h-1.22zM411.36 397.36h1.22v1.05h-1.22zM411.36 394.31h1.22v1.05h-1.22zM411.36 391.26h1.22v1.05h-1.22zM411.36 388.20h1.22v1.05h-1.22zM411.36 379.05h1.22v1.05h-1.22zM411.36 345.46h1.22v1.05h-1.22zM411.36 342.41h1.22v1.05h-1.22zM411.36 339.36h1.22v1.05h-1.22zM411.36 336.30h1.22v1.05h-1.22zM411.36 333.25h1.22v1.05h-1.22zM414.78 421.79h1.22v1.05h-1.22zM414.78 403.47h1.22v1.05h-1.22zM414.78 400.42h1.22v1.05h-1.22zM414.78 391.26h1.22v1.05h-1.22zM414.78 388.20h1.22v1.05h-1.22zM414.78 385.15h1.22v1.05h-1.22zM414.78 379.05h1.22v1.05h-1.22zM414.78 357.68h1.22v1.05h-1.22zM414.78 354.62h1.22v1.05h-1.22zM414.78 351.57h1.22v1.05h-1.22zM414.78 348.52h1.22v1.05h-1.22zM414.78 345.46h1.22v1.05h-1.22zM414.78 342.41h1.22v1.05h-1.22zM414.78 339.36h1.22v1.05h-1.22zM414.78 336.30h1.22v1.05h-1.22zM414.78 333.25h1.22v1.05h-1.22zM418.20 421.79h1.22v1.05h-1.22zM418.20 418.74h1.22v1.05h-1.22zM418.20 415.68h1.22v1.05h-1.22zM418.20 409.58h1.22v1.05h-1.22zM418.20 403.47h1.22v1.05h-1.22zM418.20 391.26h1.22v1.05h-1.22zM418.20 388.20h1.22v1.05h-1.22zM418.20 385.15h1.22v1.05h-1.22zM418.20 379.05h1.22v1.05h-1.22zM418.20 360.73h1.22v1.05h-1.22zM418.20 357.68h1.22v1.05h-1.22zM418.20 354.62h1.22v1.05h-1.22zM418.20 351.57h1.22v1.05h-1.22zM418.20 348.52h1.22v1.05h-1.22zM418.20 345.46h1.22v1.05h-1.22zM418.20 342.41h1.22v1.05h-1.22zM418.20 339.36h1.22v1.05h-1.22zM418.20 336.30h1.22v1.05h-1.22zM418.20 333.25h1.22v1.05h-1.22zM418.20 330.20h1.22v1.05h-1.22zM421.61 421.79h1.22v1.05h-1.22zM421.61 418.74h1.22v1.05h-1.22zM421.61 415.68h1.22v1.05h-1.22zM421.61 409.58h1.22v1.05h-1.22zM421.61 406.52h1.22v1.05h-1.22zM421.61 391.26h1.22v1.05h-1.22zM421.61 388.20h1.22v1.05h-1.22zM421.61 385.15h1.22v1.05h-1.22zM421.61 382.10h1.22v1.05h-1.22zM421.61 379.05h1.22v1.05h-1.22zM421.61 360.73h1.22v1.05h-1.22zM421.61 357.68h1.22v1.05h-1.22zM421.61 354.62h1.22v1.05h-1.22zM421.61 348.52h1.22v1.05h-1.22zM421.61 342.41h1.22v1.05h-1.22zM421.61 339.36h1.22v1.05h-1.22zM421.61 336.30h1.22v1.05h-1.22zM421.61 333.25h1.22v1.05h-1.22zM421.61 330.20h1.22v1.05h-1.22zM425.03 421.79h1.22v1.05h-1.22zM425.03 418.74h1.22v1.05h-1.22zM425.03 415.68h1.22v1.05h-1.22zM425.03 409.58h1.22v1.05h-1.22zM425.03 406.52h1.22v1.05h-1.22zM425.03 403.47h1.22v1.05h-1.22zM425.03 397.36h1.22v1.05h-1.22zM425.03 394.31h1.22v1.05h-1.22zM425.03 391.26h1.22v1.05h-1.22zM425.03 388.20h1.22v1.05h-1.22zM425.03 385.15h1.22v1.05h-1.22zM425.03 382.10h1.22v1.05h-1.22zM425.03 379.05h1.22v1.05h-1.22zM425.03 372.94h1.22v1.05h-1.22zM425.03 354.62h1.22v1.05h-1.22zM425.03 348.52h1.22v1.05h-1.22zM425.03 345.46h1.22v1.05h-1.22zM425.03 336.30h1.22v1.05h-1.22zM425.03 333.25h1.22v1.05h-1.22zM425.03 330.20h1.22v1.05h-1.22zM428.45 415.68h1.22v1.05h-1.22zM428.45 412.63h1.22v1.05h-1.22zM428.45 409.58h1.22v1.05h-1.22zM428.45 406.52h1.22v1.05h-1.22zM428.45 403.47h1.22v1.05h-1.22zM428.45 400.42h1.22v1.05h-1.22zM428.45 394.31h1.22v1.05h-1.22zM428.45 391.26h1.22v1.05h-1.22zM428.45 388.20h1.22v1.05h-1.22zM428.45 385.15h1.22v1.05h-1.22zM428.45 382.10h1.22v1.05h-1.22zM428.45 379.05h1.22v1.05h-1.22zM428.45 345.46h1.22v1.05h-1.22zM428.45 339.36h1.22v1.05h-1.22zM428.45 333.25h1.22v1.05h-1.22zM428.45 327.14h1.22v1.05h-1.22zM431.86 430.95h1.22v1.05h-1.22zM431.86 427.89h1.22v1.05h-1.22zM431.86 421.79h1.22v1.05h-1.22zM431.86 418.74h1.22v1.05h-1.22zM431.86 415.68h1.22v1.05h-1.22zM431.86 412.63h1.22v1.05h-1.22zM431.86 409.58h1.22v1.05h-1.22zM431.86 406.52h1.22v1.05h-1.22zM431.86 403.47h1.22v1.05h-1.22zM431.86 400.42h1.22v1.05h-1.22zM431.86 397.36h1.22v1.05h-1.22zM431.86 394.31h1.22v1.05h-1.22zM431.86 388.20h1.22v1.05h-1.22zM431.86 385.15h1.22v1.05h-1.22zM431.86 382.10h1.22v1.05h-1.22zM431.86 379.05h1.22v1.05h-1.22zM431.86 348.52h1.22v1.05h-1.22zM431.86 345.46h1.22v1.05h-1.22zM431.86 333.25h1.22v1.05h-1.22zM431.86 327.14h1.22v1.05h-1.22zM435.28 430.95h1.22v1.05h-1.22zM435.28 418.74h1.22v1.05h-1.22zM435.28 415.68h1.22v1.05h-1.22zM435.28 406.52h1.22v1.05h-1.22zM435.28 397.36h1.22v1.05h-1.22zM435.28 394.31h1.22v1.05h-1.22zM435.28 388.20h1.22v1.05h-1.22zM435.28 385.15h1.22v1.05h-1.22zM435.28 382.10h1.22v1.05h-1.22zM435.28 379.05h1.22v1.05h-1.22zM435.28 348.52h1.22v1.05h-1.22zM435.28 345.46h1.22v1.05h-1.22zM435.28 342.41h1.22v1.05h-1.22zM435.28 339.36h1.22v1.05h-1.22zM435.28 336.30h1.22v1.05h-1.22zM435.28 333.25h1.22v1.05h-1.22zM435.28 327.14h1.22v1.05h-1.22zM438.70 400.42h1.22v1.05h-1.22zM438.70 397.36h1.22v1.05h-1.22zM438.70 394.31h1.22v1.05h-1.22zM438.70 388.20h1.22v1.05h-1.22zM438.70 382.10h1.22v1.05h-1.22zM438.70 379.05h1.22v1.05h-1.22zM438.70 375.99h1.22v1.05h-1.22zM438.70 348.52h1.22v1.05h-1.22zM438.70 345.46h1.22v1.05h-1.22zM438.70 342.41h1.22v1.05h-1.22zM438.70 339.36h1.22v1.05h-1.22zM438.70 336.30h1.22v1.05h-1.22zM438.70 333.25h1.22v1.05h-1.22zM442.11 430.95h1.22v1.05h-1.22zM442.11 424.84h1.22v1.05h-1.22zM442.11 409.58h1.22v1.05h-1.22zM442.11 406.52h1.22v1.05h-1.22zM442.11 400.42h1.22v1.05h-1.22zM442.11 388.20h1.22v1.05h-1.22zM442.11 385.15h1.22v1.05h-1.22zM442.11 382.10h1.22v1.05h-1.22zM442.11 379.05h1.22v1.05h-1.22zM442.11 375.99h1.22v1.05h-1.22zM442.11 372.94h1.22v1.05h-1.22zM442.11 348.52h1.22v1.05h-1.22zM442.11 345.46h1.22v1.05h-1.22zM442.11 342.41h1.22v1.05h-1.22zM442.11 339.36h1.22v1.05h-1.22zM442.11 336.30h1.22v1.05h-1.22zM442.11 333.25h1.22v1.05h-1.22zM445.53 427.89h1.22v1.05h-1.22zM445.53 424.84h1.22v1.05h-1.22zM445.53 412.63h1.22v1.05h-1.22zM445.53 409.58h1.22v1.05h-1.22zM445.53 406.52h1.22v1.05h-1.22zM445.53 403.47h1.22v1.05h-1.22zM445.53 400.42h1.22v1.05h-1.22zM445.53 397.36h1.22v1.05h-1.22zM445.53 394.31h1.22v1.05h-1.22zM445.53 391.26h1.22v1.05h-1.22zM445.53 388.20h1.22v1.05h-1.22zM445.53 385.15h1.22v1.05h-1.22zM445.53 382.10h1.22v1.05h-1.22zM445.53 379.05h1.22v1.05h-1.22zM445.53 375.99h1.22v1.05h-1.22zM445.53 345.46h1.22v1.05h-1.22zM445.53 339.36h1.22v1.05h-1.22zM445.53 336.30h1.22v1.05h-1.22zM445.53 333.25h1.22v1.05h-1.22zM448.95 424.84h1.22v1.05h-1.22zM448.95 421.79h1.22v1.05h-1.22zM448.95 412.63h1.22v1.05h-1.22zM448.95 409.58h1.22v1.05h-1.22zM448.95 406.52h1.22v1.05h-1.22zM448.95 403.47h1.22v1.05h-1.22zM448.95 400.42h1.22v1.05h-1.22zM448.95 382.10h1.22v1.05h-1.22zM448.95 379.05h1.22v1.05h-1.22zM448.95 375.99h1.22v1.05h-1.22zM448.95 348.52h1.22v1.05h-1.22zM448.95 345.46h1.22v1.05h-1.22zM448.95 342.41h1.22v1.05h-1.22zM448.95 336.30h1.22v1.05h-1.22zM448.95 333.25h1.22v1.05h-1.22zM448.95 330.20h1.22v1.05h-1.22zM452.37 424.84h1.22v1.05h-1.22zM452.37 421.79h1.22v1.05h-1.22zM452.37 418.74h1.22v1.05h-1.22zM452.37 415.68h1.22v1.05h-1.22zM452.37 412.63h1.22v1.05h-1.22zM452.37 409.58h1.22v1.05h-1.22zM452.37 406.52h1.22v1.05h-1.22zM452.37 403.47h1.22v1.05h-1.22zM452.37 379.05h1.22v1.05h-1.22zM452.37 345.46h1.22v1.05h-1.22zM452.37 342.41h1.22v1.05h-1.22zM452.37 336.30h1.22v1.05h-1.22zM452.37 333.25h1.22v1.05h-1.22zM452.37 330.20h1.22v1.05h-1.22zM452.37 327.14h1.22v1.05h-1.22zM455.78 424.84h1.22v1.05h-1.22zM455.78 418.74h1.22v1.05h-1.22zM455.78 415.68h1.22v1.05h-1.22zM455.78 412.63h1.22v1.05h-1.22zM455.78 409.58h1.22v1.05h-1.22zM455.78 406.52h1.22v1.05h-1.22zM455.78 403.47h1.22v1.05h-1.22zM455.78 379.05h1.22v1.05h-1.22zM455.78 372.94h1.22v1.05h-1.22zM455.78 360.73h1.22v1.05h-1.22zM455.78 354.62h1.22v1.05h-1.22zM455.78 345.46h1.22v1.05h-1.22zM455.78 342.41h1.22v1.05h-1.22zM455.78 336.30h1.22v1.05h-1.22zM455.78 333.25h1.22v1.05h-1.22zM455.78 330.20h1.22v1.05h-1.22zM455.78 327.14h1.22v1.05h-1.22zM459.20 430.95h1.22v1.05h-1.22zM459.20 424.84h1.22v1.05h-1.22zM459.20 421.79h1.22v1.05h-1.22zM459.20 418.74h1.22v1.05h-1.22zM459.20 415.68h1.22v1.05h-1.22zM459.20 412.63h1.22v1.05h-1.22zM459.20 409.58h1.22v1.05h-1.22zM459.20 406.52h1.22v1.05h-1.22zM459.20 379.05h1.22v1.05h-1.22zM459.20 360.73h1.22v1.05h-1.22zM459.20 357.68h1.22v1.05h-1.22zM459.20 351.57h1.22v1.05h-1.22zM459.20 345.46h1.22v1.05h-1.22zM459.20 342.41h1.22v1.05h-1.22zM459.20 339.36h1.22v1.05h-1.22zM459.20 336.30h1.22v1.05h-1.22zM459.20 333.25h1.22v1.05h-1.22zM459.20 330.20h1.22v1.05h-1.22zM459.20 327.14h1.22v1.05h-1.22zM462.62 424.84h1.22v1.05h-1.22zM462.62 418.74h1.22v1.05h-1.22zM462.62 415.68h1.22v1.05h-1.22zM462.62 412.63h1.22v1.05h-1.22zM462.62 409.58h1.22v1.05h-1.22zM462.62 406.52h1.22v1.05h-1.22zM462.62 379.05h1.22v1.05h-1.22zM462.62 360.73h1.22v1.05h-1.22zM462.62 354.62h1.22v1.05h-1.22zM462.62 342.41h1.22v1.05h-1.22zM462.62 339.36h1.22v1.05h-1.22zM462.62 336.30h1.22v1.05h-1.22zM462.62 333.25h1.22v1.05h-1.22zM462.62 330.20h1.22v1.05h-1.22zM462.62 327.14h1.22v1.05h-1.22zM466.03 424.84h1.22v1.05h-1.22zM466.03 418.74h1.22v1.05h-1.22zM466.03 415.68h1.22v1.05h-1.22zM466.03 412.63h1.22v1.05h-1.22zM466.03 409.58h1.22v1.05h-1.22zM466.03 406.52h1.22v1.05h-1.22zM466.03 379.05h1.22v1.05h-1.22zM466.03 375.99h1.22v1.05h-1.22zM466.03 372.94h1.22v1.05h-1.22zM466.03 339.36h1.22v1.05h-1.22zM466.03 336.30h1.22v1.05h-1.22zM466.03 327.14h1.22v1.05h-1.22zM469.45 430.95h1.22v1.05h-1.22zM469.45 424.84h1.22v1.05h-1.22zM469.45 415.68h1.22v1.05h-1.22zM469.45 409.58h1.22v1.05h-1.22zM469.45 406.52h1.22v1.05h-1.22zM469.45 403.47h1.22v1.05h-1.22zM469.45 379.05h1.22v1.05h-1.22zM469.45 339.36h1.22v1.05h-1.22zM469.45 336.30h1.22v1.05h-1.22zM469.45 333.25h1.22v1.05h-1.22zM469.45 330.20h1.22v1.05h-1.22zM472.87 424.84h1.22v1.05h-1.22zM472.87 421.79h1.22v1.05h-1.22zM472.87 418.74h1.22v1.05h-1.22zM472.87 415.68h1.22v1.05h-1.22zM472.87 412.63h1.22v1.05h-1.22zM472.87 409.58h1.22v1.05h-1.22zM472.87 406.52h1.22v1.05h-1.22zM472.87 403.47h1.22v1.05h-1.22zM472.87 379.05h1.22v1.05h-1.22zM472.87 336.30h1.22v1.05h-1.22zM476.28 424.84h1.22v1.05h-1.22zM476.28 421.79h1.22v1.05h-1.22zM476.28 418.74h1.22v1.05h-1.22zM476.28 412.63h1.22v1.05h-1.22zM476.28 406.52h1.22v1.05h-1.22zM476.28 403.47h1.22v1.05h-1.22zM476.28 400.42h1.22v1.05h-1.22zM476.28 379.05h1.22v1.05h-1.22zM476.28 336.30h1.22v1.05h-1.22zM476.28 324.09h1.22v1.05h-1.22zM476.28 321.04h1.22v1.05h-1.22zM479.70 430.95h1.22v1.05h-1.22zM479.70 421.79h1.22v1.05h-1.22zM479.70 418.74h1.22v1.05h-1.22zM479.70 415.68h1.22v1.05h-1.22zM479.70 412.63h1.22v1.05h-1.22zM479.70 409.58h1.22v1.05h-1.22zM479.70 406.52h1.22v1.05h-1.22zM479.70 403.47h1.22v1.05h-1.22zM479.70 397.36h1.22v1.05h-1.22zM479.70 382.10h1.22v1.05h-1.22zM479.70 375.99h1.22v1.05h-1.22zM479.70 330.20h1.22v1.05h-1.22zM479.70 321.04h1.22v1.05h-1.22zM483.12 421.79h1.22v1.05h-1.22zM483.12 418.74h1.22v1.05h-1.22zM483.12 415.68h1.22v1.05h-1.22zM483.12 412.63h1.22v1.05h-1.22zM483.12 409.58h1.22v1.05h-1.22zM483.12 406.52h1.22v1.05h-1.22zM483.12 403.47h1.22v1.05h-1.22zM483.12 400.42h1.22v1.05h-1.22zM483.12 397.36h1.22v1.05h-1.22zM483.12 394.31h1.22v1.05h-1.22zM483.12 391.26h1.22v1.05h-1.22zM483.12 388.20h1.22v1.05h-1.22zM483.12 382.10h1.22v1.05h-1.22zM483.12 375.99h1.22v1.05h-1.22zM483.12 330.20h1.22v1.05h-1.22zM486.54 421.79h1.22v1.05h-1.22zM486.54 418.74h1.22v1.05h-1.22zM486.54 415.68h1.22v1.05h-1.22zM486.54 412.63h1.22v1.05h-1.22zM486.54 409.58h1.22v1.05h-1.22zM486.54 406.52h1.22v1.05h-1.22zM486.54 403.47h1.22v1.05h-1.22zM486.54 400.42h1.22v1.05h-1.22zM486.54 397.36h1.22v1.05h-1.22zM486.54 394.31h1.22v1.05h-1.22zM486.54 391.26h1.22v1.05h-1.22zM486.54 388.20h1.22v1.05h-1.22zM486.54 382.10h1.22v1.05h-1.22zM486.54 379.05h1.22v1.05h-1.22zM486.54 375.99h1.22v1.05h-1.22zM486.54 327.14h1.22v1.05h-1.22zM489.95 424.84h1.22v1.05h-1.22zM489.95 421.79h1.22v1.05h-1.22zM489.95 415.68h1.22v1.05h-1.22zM489.95 412.63h1.22v1.05h-1.22zM489.95 406.52h1.22v1.05h-1.22zM489.95 403.47h1.22v1.05h-1.22zM489.95 400.42h1.22v1.05h-1.22zM489.95 394.31h1.22v1.05h-1.22zM489.95 391.26h1.22v1.05h-1.22zM489.95 388.20h1.22v1.05h-1.22zM489.95 385.15h1.22v1.05h-1.22zM489.95 382.10h1.22v1.05h-1.22zM489.95 379.05h1.22v1.05h-1.22zM489.95 375.99h1.22v1.05h-1.22zM489.95 372.94h1.22v1.05h-1.22zM493.37 430.95h1.22v1.05h-1.22zM493.37 424.84h1.22v1.05h-1.22zM493.37 421.79h1.22v1.05h-1.22zM493.37 418.74h1.22v1.05h-1.22zM493.37 412.63h1.22v1.05h-1.22zM493.37 409.58h1.22v1.05h-1.22zM493.37 406.52h1.22v1.05h-1.22zM493.37 403.47h1.22v1.05h-1.22zM493.37 400.42h1.22v1.05h-1.22zM493.37 397.36h1.22v1.05h-1.22zM493.37 394.31h1.22v1.05h-1.22zM493.37 391.26h1.22v1.05h-1.22zM493.37 388.20h1.22v1.05h-1.22zM493.37 385.15h1.22v1.05h-1.22zM493.37 382.10h1.22v1.05h-1.22zM493.37 379.05h1.22v1.05h-1.22zM496.79 424.84h1.22v1.05h-1.22zM496.79 418.74h1.22v1.05h-1.22zM496.79 412.63h1.22v1.05h-1.22zM496.79 409.58h1.22v1.05h-1.22zM496.79 406.52h1.22v1.05h-1.22zM496.79 403.47h1.22v1.05h-1.22zM496.79 400.42h1.22v1.05h-1.22zM496.79 397.36h1.22v1.05h-1.22zM496.79 394.31h1.22v1.05h-1.22zM496.79 391.26h1.22v1.05h-1.22zM496.79 388.20h1.22v1.05h-1.22zM496.79 379.05h1.22v1.05h-1.22zM500.20 418.74h1.22v1.05h-1.22zM500.20 412.63h1.22v1.05h-1.22zM500.20 409.58h1.22v1.05h-1.22zM500.20 406.52h1.22v1.05h-1.22zM500.20 403.47h1.22v1.05h-1.22zM500.20 400.42h1.22v1.05h-1.22zM500.20 397.36h1.22v1.05h-1.22zM500.20 394.31h1.22v1.05h-1.22zM500.20 391.26h1.22v1.05h-1.22zM500.20 388.20h1.22v1.05h-1.22zM500.20 385.15h1.22v1.05h-1.22zM500.20 382.10h1.22v1.05h-1.22zM500.20 379.05h1.22v1.05h-1.22z" fill="#bcbcbc"/>
<path d="M373.51 430.75h1.74v1.45h-1.74zM373.51 427.69h1.74v1.45h-1.74zM373.51 412.43h1.74v1.45h-1.74zM373.51 409.38h1.74v1.45h-1.74zM373.51 406.32h1.74v1.45h-1.74zM373.51 403.27h1.74v1.45h-1.74zM373.51 400.22h1.74v1.45h-1.74zM373.51 397.16h1.74v1.45h-1.74zM373.51 394.11h1.74v1.45h-1.74zM373.51 391.06h1.74v1.45h-1.74zM373.51 384.95h1.74v1.45h-1.74zM373.51 381.90h1.74v1.45h-1.74zM373.51 372.74h1.74v1.45h-1.74zM373.51 369.69h1.74v1.45h-1.74zM376.93 415.48h1.74v1.45h-1.74zM376.93 403.27h1.74v1.45h-1.74zM376.93 388.00h1.74v1.45h-1.74zM376.93 372.74h1.74v1.45h-1.74zM376.93 369.69h1.74v1.45h-1.74zM376.93 360.53h1.74v1.45h-1.74zM380.35 421.59h1.74v1.45h-1.74zM380.35 397.16h1.74v1.45h-1.74zM380.35 394.11h1.74v1.45h-1.74zM380.35 391.06h1.74v1.45h-1.74zM380.35 378.85h1.74v1.45h-1.74zM380.35 375.79h1.74v1.45h-1.74zM380.35 348.32h1.74v1.45h-1.74zM380.35 333.05h1.74v1.45h-1.74zM383.76 430.75h1.74v1.45h-1.74zM383.76 409.38h1.74v1.45h-1.74zM383.76 406.32h1.74v1.45h-1.74zM383.76 403.27h1.74v1.45h-1.74zM383.76 369.69h1.74v1.45h-1.74zM383.76 342.21h1.74v1.45h-1.74zM383.76 336.10h1.74v1.45h-1.74zM387.18 430.75h1.74v1.45h-1.74zM387.18 412.43h1.74v1.45h-1.74zM387.18 388.00h1.74v1.45h-1.74zM387.18 384.95h1.74v1.45h-1.74zM387.18 378.85h1.74v1.45h-1.74zM387.18 351.37h1.74v1.45h-1.74zM387.18 345.26h1.74v1.45h-1.74zM387.18 336.10h1.74v1.45h-1.74zM387.18 317.79h1.74v1.45h-1.74zM390.60 403.27h1.74v1.45h-1.74zM390.60 400.22h1.74v1.45h-1.74zM390.60 375.79h1.74v1.45h-1.74zM390.60 360.53h1.74v1.45h-1.74zM390.60 342.21h1.74v1.45h-1.74zM390.60 336.10h1.74v1.45h-1.74zM390.60 330.00h1.74v1.45h-1.74zM394.02 406.32h1.74v1.45h-1.74zM394.02 397.16h1.74v1.45h-1.74zM394.02 394.11h1.74v1.45h-1.74zM394.02 391.06h1.74v1.45h-1.74zM394.02 388.00h1.74v1.45h-1.74zM394.02 381.90h1.74v1.45h-1.74zM394.02 378.85h1.74v1.45h-1.74zM394.02 375.79h1.74v1.45h-1.74zM394.02 372.74h1.74v1.45h-1.74zM394.02 369.69h1.74v1.45h-1.74zM394.02 333.05h1.74v1.45h-1.74zM397.43 360.53h1.74v1.45h-1.74zM397.43 348.32h1.74v1.45h-1.74zM397.43 339.16h1.74v1.45h-1.74zM397.43 317.79h1.74v1.45h-1.74zM400.85 363.58h1.74v1.45h-1.74zM400.85 360.53h1.74v1.45h-1.74zM400.85 333.05h1.74v1.45h-1.74zM404.27 406.32h1.74v1.45h-1.74zM404.27 403.27h1.74v1.45h-1.74zM404.27 400.22h1.74v1.45h-1.74zM404.27 397.16h1.74v1.45h-1.74zM404.27 394.11h1.74v1.45h-1.74zM404.27 391.06h1.74v1.45h-1.74zM404.27 388.00h1.74v1.45h-1.74zM404.27 384.95h1.74v1.45h-1.74zM404.27 381.90h1.74v1.45h-1.74zM404.27 378.85h1.74v1.45h-1.74zM404.27 375.79h1.74v1.45h-1.74zM404.27 357.48h1.74v1.45h-1.74zM404.27 339.16h1.74v1.45h-1.74zM404.27 323.89h1.74v1.45h-1.74zM407.68 406.32h1.74v1.45h-1.74zM407.68 381.90h1.74v1.45h-1.74zM407.68 369.69h1.74v1.45h-1.74zM407.68 333.05h1.74v1.45h-1.74zM411.10 430.75h1.74v1.45h-1.74zM411.10 421.59h1.74v1.45h-1.74zM411.10 418.54h1.74v1.45h-1.74zM411.10 406.32h1.74v1.45h-1.74zM411.10 403.27h1.74v1.45h-1.74zM411.10 369.69h1.74v1.45h-1.74zM411.10 363.58h1.74v1.45h-1.74zM411.10 357.48h1.74v1.45h-1.74zM411.10 354.42h1.74v1.45h-1.74zM411.10 351.37h1.74v1.45h-1.74zM411.10 330.00h1.74v1.45h-1.74zM411.10 326.94h1.74v1.45h-1.74zM411.10 317.79h1.74v1.45h-1.74zM411.10 308.63h1.74v1.45h-1.74zM411.10 302.52h1.74v1.45h-1.74zM411.10 299.47h1.74v1.45h-1.74zM414.52 430.75h1.74v1.45h-1.74zM414.52 427.69h1.74v1.45h-1.74zM414.52 415.48h1.74v1.45h-1.74zM414.52 412.43h1.74v1.45h-1.74zM414.52 409.38h1.74v1.45h-1.74zM414.52 397.16h1.74v1.45h-1.74zM414.52 394.11h1.74v1.45h-1.74zM414.52 375.79h1.74v1.45h-1.74zM414.52 369.69h1.74v1.45h-1.74zM414.52 360.53h1.74v1.45h-1.74zM414.52 305.57h1.74v1.45h-1.74zM414.52 302.52h1.74v1.45h-1.74zM417.94 424.64h1.74v1.45h-1.74zM417.94 412.43h1.74v1.45h-1.74zM417.94 406.32h1.74v1.45h-1.74zM417.94 400.22h1.74v1.45h-1.74zM417.94 381.90h1.74v1.45h-1.74zM417.94 369.69h1.74v1.45h-1.74zM417.94 305.57h1.74v1.45h-1.74zM417.94 299.47h1.74v1.45h-1.74zM421.35 427.69h1.74v1.45h-1.74zM421.35 397.16h1.74v1.45h-1.74zM421.35 394.11h1.74v1.45h-1.74zM421.35 375.79h1.74v1.45h-1.74zM421.35 372.74h1.74v1.45h-1.74zM421.35 320.84h1.74v1.45h-1.74zM421.35 305.57h1.74v1.45h-1.74zM421.35 296.42h1.74v1.45h-1.74zM424.77 427.69h1.74v1.45h-1.74zM424.77 412.43h1.74v1.45h-1.74zM424.77 400.22h1.74v1.45h-1.74zM424.77 360.53h1.74v1.45h-1.74zM424.77 357.48h1.74v1.45h-1.74zM424.77 351.37h1.74v1.45h-1.74zM424.77 342.21h1.74v1.45h-1.74zM424.77 326.94h1.74v1.45h-1.74zM428.19 430.75h1.74v1.45h-1.74zM428.19 424.64h1.74v1.45h-1.74zM428.19 375.79h1.74v1.45h-1.74zM428.19 372.74h1.74v1.45h-1.74zM428.19 369.69h1.74v1.45h-1.74zM428.19 366.63h1.74v1.45h-1.74zM428.19 354.42h1.74v1.45h-1.74zM428.19 330.00h1.74v1.45h-1.74zM431.60 424.64h1.74v1.45h-1.74zM431.60 369.69h1.74v1.45h-1.74zM431.60 342.21h1.74v1.45h-1.74zM431.60 323.89h1.74v1.45h-1.74zM435.02 427.69h1.74v1.45h-1.74zM435.02 421.59h1.74v1.45h-1.74zM435.02 412.43h1.74v1.45h-1.74zM435.02 403.27h1.74v1.45h-1.74zM435.02 391.06h1.74v1.45h-1.74zM435.02 375.79h1.74v1.45h-1.74zM435.02 369.69h1.74v1.45h-1.74zM435.02 363.58h1.74v1.45h-1.74zM435.02 351.37h1.74v1.45h-1.74zM435.02 330.00h1.74v1.45h-1.74zM435.02 317.79h1.74v1.45h-1.74zM435.02 305.57h1.74v1.45h-1.74zM438.44 430.75h1.74v1.45h-1.74zM438.44 424.64h1.74v1.45h-1.74zM438.44 418.54h1.74v1.45h-1.74zM438.44 372.74h1.74v1.45h-1.74zM438.44 363.58h1.74v1.45h-1.74zM438.44 330.00h1.74v1.45h-1.74zM438.44 326.94h1.74v1.45h-1.74zM441.85 427.69h1.74v1.45h-1.74zM441.85 421.59h1.74v1.45h-1.74zM441.85 415.48h1.74v1.45h-1.74zM441.85 412.43h1.74v1.45h-1.74zM441.85 403.27h1.74v1.45h-1.74zM441.85 391.06h1.74v1.45h-1.74zM441.85 366.63h1.74v1.45h-1.74zM441.85 363.58h1.74v1.45h-1.74zM441.85 320.84h1.74v1.45h-1.74zM441.85 299.47h1.74v1.45h-1.74zM445.27 430.75h1.74v1.45h-1.74zM445.27 418.54h1.74v1.45h-1.74zM445.27 372.74h1.74v1.45h-1.74zM445.27 369.69h1.74v1.45h-1.74zM445.27 366.63h1.74v1.45h-1.74zM445.27 360.53h1.74v1.45h-1.74zM445.27 330.00h1.74v1.45h-1.74zM445.27 323.89h1.74v1.45h-1.74zM448.69 427.69h1.74v1.45h-1.74zM448.69 415.48h1.74v1.45h-1.74zM448.69 369.69h1.74v1.45h-1.74zM448.69 360.53h1.74v1.45h-1.74zM448.69 354.42h1.74v1.45h-1.74zM448.69 351.37h1.74v1.45h-1.74zM448.69 339.16h1.74v1.45h-1.74zM448.69 326.94h1.74v1.45h-1.74zM448.69 323.89h1.74v1.45h-1.74zM448.69 305.57h1.74v1.45h-1.74zM452.10 430.75h1.74v1.45h-1.74zM452.10 372.74h1.74v1.45h-1.74zM452.10 360.53h1.74v1.45h-1.74zM452.10 354.42h1.74v1.45h-1.74zM452.10 348.32h1.74v1.45h-1.74zM452.10 299.47h1.74v1.45h-1.74zM455.52 430.75h1.74v1.45h-1.74zM455.52 375.79h1.74v1.45h-1.74zM455.52 357.48h1.74v1.45h-1.74zM455.52 351.37h1.74v1.45h-1.74zM455.52 339.16h1.74v1.45h-1.74zM455.52 323.89h1.74v1.45h-1.74zM455.52 320.84h1.74v1.45h-1.74zM455.52 305.57h1.74v1.45h-1.74zM455.52 299.47h1.74v1.45h-1.74zM458.94 427.69h1.74v1.45h-1.74zM458.94 372.74h1.74v1.45h-1.74zM458.94 363.58h1.74v1.45h-1.74zM458.94 320.84h1.74v1.45h-1.74zM462.36 430.75h1.74v1.45h-1.74zM462.36 421.59h1.74v1.45h-1.74zM462.36 375.79h1.74v1.45h-1.74zM462.36 357.48h1.74v1.45h-1.74zM462.36 351.37h1.74v1.45h-1.74zM462.36 345.26h1.74v1.45h-1.74zM462.36 323.89h1.74v1.45h-1.74zM462.36 320.84h1.74v1.45h-1.74zM462.36 311.68h1.74v1.45h-1.74zM465.77 427.69h1.74v1.45h-1.74zM465.77 363.58h1.74v1.45h-1.74zM465.77 360.53h1.74v1.45h-1.74zM465.77 354.42h1.74v1.45h-1.74zM465.77 342.21h1.74v1.45h-1.74zM465.77 323.89h1.74v1.45h-1.74zM465.77 317.79h1.74v1.45h-1.74zM469.19 427.69h1.74v1.45h-1.74zM469.19 421.59h1.74v1.45h-1.74zM469.19 375.79h1.74v1.45h-1.74zM469.19 372.74h1.74v1.45h-1.74zM469.19 348.32h1.74v1.45h-1.74zM469.19 326.94h1.74v1.45h-1.74zM472.61 430.75h1.74v1.45h-1.74zM472.61 357.48h1.74v1.45h-1.74zM472.61 351.37h1.74v1.45h-1.74zM472.61 333.05h1.74v1.45h-1.74zM472.61 323.89h1.74v1.45h-1.74zM472.61 320.84h1.74v1.45h-1.74zM476.02 430.75h1.74v1.45h-1.74zM476.02 375.79h1.74v1.45h-1.74zM476.02 369.69h1.74v1.45h-1.74zM476.02 348.32h1.74v1.45h-1.74zM476.02 339.16h1.74v1.45h-1.74zM476.02 330.00h1.74v1.45h-1.74zM479.44 427.69h1.74v1.45h-1.74zM479.44 424.64h1.74v1.45h-1.74zM479.44 384.95h1.74v1.45h-1.74zM479.44 351.37h1.74v1.45h-1.74zM479.44 336.10h1.74v1.45h-1.74zM479.44 326.94h1.74v1.45h-1.74zM482.86 430.75h1.74v1.45h-1.74zM482.86 366.63h1.74v1.45h-1.74zM482.86 348.32h1.74v1.45h-1.74zM482.86 323.89h1.74v1.45h-1.74zM482.86 320.84h1.74v1.45h-1.74zM486.27 424.64h1.74v1.45h-1.74zM486.27 384.95h1.74v1.45h-1.74zM486.27 372.74h1.74v1.45h-1.74zM486.27 369.69h1.74v1.45h-1.74zM486.27 330.00h1.74v1.45h-1.74zM489.69 430.75h1.74v1.45h-1.74zM489.69 354.42h1.74v1.45h-1.74zM489.69 326.94h1.74v1.45h-1.74zM489.69 323.89h1.74v1.45h-1.74zM493.11 427.69h1.74v1.45h-1.74zM493.11 415.48h1.74v1.45h-1.74zM493.11 375.79h1.74v1.45h-1.74zM493.11 372.74h1.74v1.45h-1.74zM493.11 369.69h1.74v1.45h-1.74zM493.11 348.32h1.74v1.45h-1.74zM493.11 339.16h1.74v1.45h-1.74zM493.11 320.84h1.74v1.45h-1.74zM493.11 317.79h1.74v1.45h-1.74zM496.53 430.75h1.74v1.45h-1.74zM496.53 427.69h1.74v1.45h-1.74zM496.53 421.59h1.74v1.45h-1.74zM496.53 360.53h1.74v1.45h-1.74zM496.53 357.48h1.74v1.45h-1.74zM496.53 351.37h1.74v1.45h-1.74zM496.53 336.10h1.74v1.45h-1.74zM496.53 326.94h1.74v1.45h-1.74zM496.53 320.84h1.74v1.45h-1.74zM499.94 424.64h1.74v1.45h-1.74zM499.94 415.48h1.74v1.45h-1.74zM499.94 375.79h1.74v1.45h-1.74zM499.94 369.69h1.74v1.45h-1.74zM499.94 366.63h1.74v1.45h-1.74zM499.94 333.05h1.74v1.45h-1.74zM499.94 326.94h1.74v1.45h-1.74zM499.94 323.89h1.74v1.45h-1.74zM503.36 430.75h1.74v1.45h-1.74zM503.36 418.54h1.74v1.45h-1.74zM503.36 415.48h1.74v1.45h-1.74zM503.36 412.43h1.74v1.45h-1.74zM503.36 409.38h1.74v1.45h-1.74zM503.36 406.32h1.74v1.45h-1.74zM503.36 403.27h1.74v1.45h-1.74zM503.36 400.22h1.74v1.45h-1.74zM503.36 397.16h1.74v1.45h-1.74zM503.36 394.11h1.74v1.45h-1.74zM503.36 391.06h1.74v1.45h-1.74zM503.36 388.00h1.74v1.45h-1.74zM503.36 384.95h1.74v1.45h-1.74zM503.36 381.90h1.74v1.45h-1.74zM503.36 378.85h1.74v1.45h-1.74zM503.36 375.79h1.74v1.45h-1.74zM503.36 372.74h1.74v1.45h-1.74zM503.36 369.69h1.74v1.45h-1.74zM503.36 336.10h1.74v1.45h-1.74zM506.78 342.21h1.74v1.45h-1.74zM506.78 339.16h1.74v1.45h-1.74z" fill="#ffffff"/>
<path d="M447.80 397.41h3.52v0.95h-3.52zM447.80 394.36h3.52v0.95h-3.52zM447.80 391.31h3.52v0.95h-3.52zM447.80 388.25h3.52v0.95h-3.52zM447.80 385.20h3.52v0.95h-3.52zM451.21 400.47h3.52v0.95h-3.52zM451.21 397.41h3.52v0.95h-3.52zM451.21 394.36h3.52v0.95h-3.52zM451.21 391.31h3.52v0.95h-3.52zM451.21 388.25h3.52v0.95h-3.52zM451.21 385.20h3.52v0.95h-3.52zM451.21 382.15h3.52v0.95h-3.52zM454.63 400.47h3.52v0.95h-3.52zM454.63 397.41h3.52v0.95h-3.52zM454.63 394.36h3.52v0.95h-3.52zM454.63 391.31h3.52v0.95h-3.52zM454.63 388.25h3.52v0.95h-3.52zM454.63 385.20h3.52v0.95h-3.52zM454.63 382.15h3.52v0.95h-3.52zM458.05 403.52h3.52v0.95h-3.52zM458.05 400.47h3.52v0.95h-3.52zM458.05 397.41h3.52v0.95h-3.52zM458.05 394.36h3.52v0.95h-3.52zM458.05 391.31h3.52v0.95h-3.52zM458.05 388.25h3.52v0.95h-3.52zM458.05 385.20h3.52v0.95h-3.52zM458.05 382.15h3.52v0.95h-3.52zM461.47 403.52h3.52v0.95h-3.52zM461.47 400.47h3.52v0.95h-3.52zM461.47 397.41h3.52v0.95h-3.52zM461.47 394.36h3.52v0.95h-3.52zM461.47 391.31h3.52v0.95h-3.52zM461.47 388.25h3.52v0.95h-3.52zM461.47 385.20h3.52v0.95h-3.52zM461.47 382.15h3.52v0.95h-3.52zM464.88 403.52h3.52v0.95h-3.52zM464.88 400.47h3.52v0.95h-3.52zM464.88 397.41h3.52v0.95h-3.52zM464.88 394.36h3.52v0.95h-3.52zM464.88 391.31h3.52v0.95h-3.52zM464.88 388.25h3.52v0.95h-3.52zM464.88 385.20h3.52v0.95h-3.52zM464.88 382.15h3.52v0.95h-3.52zM468.30 400.47h3.52v0.95h-3.52zM468.30 397.41h3.52v0.95h-3.52zM468.30 394.36h3.52v0.95h-3.52zM468.30 391.31h3.52v0.95h-3.52zM468.30 388.25h3.52v0.95h-3.52zM468.30 385.20h3.52v0.95h-3.52zM468.30 382.15h3.52v0.95h-3.52zM471.72 400.47h3.52v0.95h-3.52zM471.72 397.41h3.52v0.95h-3.52zM471.72 394.36h3.52v0.95h-3.52zM471.72 391.31h3.52v0.95h-3.52zM471.72 388.25h3.52v0.95h-3.52zM471.72 385.20h3.52v0.95h-3.52zM471.72 382.15h3.52v0.95h-3.52zM475.13 397.41h3.52v0.95h-3.52zM475.13 394.36h3.52v0.95h-3.52zM475.13 391.31h3.52v0.95h-3.52zM475.13 388.25h3.52v0.95h-3.52zM475.13 385.20h3.52v0.95h-3.52zM478.55 394.36h3.52v0.95h-3.52zM478.55 391.31h3.52v0.95h-3.52zM478.55 388.25h3.52v0.95h-3.52z" fill="#626262"/>
<path d="M400.11 429.75h3.22v3.45h-3.22zM400.11 426.69h3.22v3.45h-3.22zM400.11 423.64h3.22v3.45h-3.22zM400.11 420.59h3.22v3.45h-3.22zM400.11 417.54h3.22v3.45h-3.22zM400.11 414.48h3.22v3.45h-3.22zM400.11 411.43h3.22v3.45h-3.22zM400.11 408.38h3.22v3.45h-3.22zM400.11 405.32h3.22v3.45h-3.22zM400.11 402.27h3.22v3.45h-3.22zM400.11 399.22h3.22v3.45h-3.22zM400.11 396.16h3.22v3.45h-3.22zM400.11 393.11h3.22v3.45h-3.22zM400.11 390.06h3.22v3.45h-3.22zM400.11 387.00h3.22v3.45h-3.22zM400.11 383.95h3.22v3.45h-3.22zM400.11 380.90h3.22v3.45h-3.22zM400.11 377.85h3.22v3.45h-3.22zM400.11 374.79h3.22v3.45h-3.22zM400.11 371.74h3.22v3.45h-3.22zM400.11 368.69h3.22v3.45h-3.22z" fill="#161616"/>
<path d="M401.15 430.75h1.14v1.45h-1.14zM401.15 427.69h1.14v1.45h-1.14zM401.15 424.64h1.14v1.45h-1.14zM401.15 421.59h1.14v1.45h-1.14zM401.15 418.54h1.14v1.45h-1.14zM401.15 415.48h1.14v1.45h-1.14zM401.15 412.43h1.14v1.45h-1.14zM401.15 409.38h1.14v1.45h-1.14zM401.15 406.32h1.14v1.45h-1.14zM401.15 403.27h1.14v1.45h-1.14zM401.15 400.22h1.14v1.45h-1.14zM401.15 397.16h1.14v1.45h-1.14zM401.15 394.11h1.14v1.45h-1.14zM401.15 391.06h1.14v1.45h-1.14zM401.15 388.00h1.14v1.45h-1.14zM401.15 384.95h1.14v1.45h-1.14zM401.15 381.90h1.14v1.45h-1.14zM401.15 378.85h1.14v1.45h-1.14zM401.15 375.79h1.14v1.45h-1.14zM401.15 372.74h1.14v1.45h-1.14zM401.15 369.69h1.14v1.45h-1.14z" fill="#a8a8a8"/>
<polyline points="380.6,313.6 380.6,279.6 515,279.6" fill="none" stroke="#161616" stroke-width="1.3"/>
<polyline points="515,313.6 371.8,313.6 371.8,366 519.5,366" fill="none" stroke="#161616" stroke-width="1.3"/>
<line x1="297.00" y1="236.90" x2="297.00" y2="434.00" stroke="#161616" stroke-width="2.0" stroke-linecap="butt"/>
<line x1="296.00" y1="433.00" x2="516.00" y2="433.00" stroke="#161616" stroke-width="1.9" stroke-linecap="butt"/>
<line x1="296.50" y1="237.60" x2="516.00" y2="237.60" stroke="#161616" stroke-width="1.5" stroke-linecap="butt"/>
<line x1="515.00" y1="236.90" x2="515.00" y2="434.00" stroke="#161616" stroke-width="2.0" stroke-linecap="butt"/>
<line x1="292.00" y1="248.20" x2="297.00" y2="248.20" stroke="#161616" stroke-width="1.4" stroke-linecap="butt"/>
<line x1="293.60" y1="250.40" x2="297.00" y2="250.40" stroke="#161616" stroke-width="1.0" stroke-linecap="butt"/>
<line x1="293.60" y1="252.60" x2="297.00" y2="252.60" stroke="#161616" stroke-width="1.0" stroke-linecap="butt"/>
<line x1="293.60" y1="255.50" x2="297.00" y2="255.50" stroke="#161616" stroke-width="1.0" stroke-linecap="butt"/>
<line x1="293.60" y1="259.20" x2="297.00" y2="259.20" stroke="#161616" stroke-width="1.0" stroke-linecap="butt"/>
<line x1="293.60" y1="262.90" x2="297.00" y2="262.90" stroke="#161616" stroke-width="1.0" stroke-linecap="butt"/>
<line x1="293.60" y1="271.00" x2="297.00" y2="271.00" stroke="#161616" stroke-width="1.0" stroke-linecap="butt"/>
<line x1="292.00" y1="287.10" x2="297.00" y2="287.10" stroke="#161616" stroke-width="1.4" stroke-linecap="butt"/>
<line x1="292.00" y1="336.20" x2="297.00" y2="336.20" stroke="#161616" stroke-width="1.4" stroke-linecap="butt"/>
<line x1="292.00" y1="384.50" x2="297.00" y2="384.50" stroke="#161616" stroke-width="1.4" stroke-linecap="butt"/>
<line x1="292.00" y1="433.00" x2="297.00" y2="433.00" stroke="#161616" stroke-width="1.4" stroke-linecap="butt"/>
<line x1="293.60" y1="321.42" x2="297.00" y2="321.42" stroke="#161616" stroke-width="1.0" stroke-linecap="butt"/>
<line x1="293.60" y1="312.77" x2="297.00" y2="312.77" stroke="#161616" stroke-width="1.0" stroke-linecap="butt"/>
<line x1="293.60" y1="306.64" x2="297.00" y2="306.64" stroke="#161616" stroke-width="1.0" stroke-linecap="butt"/>
<line x1="293.60" y1="301.88" x2="297.00" y2="301.88" stroke="#161616" stroke-width="1.0" stroke-linecap="butt"/>
<line x1="293.60" y1="297.99" x2="297.00" y2="297.99" stroke="#161616" stroke-width="1.0" stroke-linecap="butt"/>
<line x1="293.60" y1="294.71" x2="297.00" y2="294.71" stroke="#161616" stroke-width="1.0" stroke-linecap="butt"/>
<line x1="293.60" y1="291.86" x2="297.00" y2="291.86" stroke="#161616" stroke-width="1.0" stroke-linecap="butt"/>
<line x1="293.60" y1="289.35" x2="297.00" y2="289.35" stroke="#161616" stroke-width="1.0" stroke-linecap="butt"/>
<line x1="293.60" y1="369.96" x2="297.00" y2="369.96" stroke="#161616" stroke-width="1.0" stroke-linecap="butt"/>
<line x1="293.60" y1="361.46" x2="297.00" y2="361.46" stroke="#161616" stroke-width="1.0" stroke-linecap="butt"/>
<line x1="293.60" y1="355.42" x2="297.00" y2="355.42" stroke="#161616" stroke-width="1.0" stroke-linecap="butt"/>
<line x1="293.60" y1="350.74" x2="297.00" y2="350.74" stroke="#161616" stroke-width="1.0" stroke-linecap="butt"/>
<line x1="293.60" y1="346.92" x2="297.00" y2="346.92" stroke="#161616" stroke-width="1.0" stroke-linecap="butt"/>
<line x1="293.60" y1="343.68" x2="297.00" y2="343.68" stroke="#161616" stroke-width="1.0" stroke-linecap="butt"/>
<line x1="293.60" y1="340.88" x2="297.00" y2="340.88" stroke="#161616" stroke-width="1.0" stroke-linecap="butt"/>
<line x1="293.60" y1="338.41" x2="297.00" y2="338.41" stroke="#161616" stroke-width="1.0" stroke-linecap="butt"/>
<line x1="293.60" y1="418.40" x2="297.00" y2="418.40" stroke="#161616" stroke-width="1.0" stroke-linecap="butt"/>
<line x1="293.60" y1="409.86" x2="297.00" y2="409.86" stroke="#161616" stroke-width="1.0" stroke-linecap="butt"/>
<line x1="293.60" y1="403.80" x2="297.00" y2="403.80" stroke="#161616" stroke-width="1.0" stroke-linecap="butt"/>
<line x1="293.60" y1="399.10" x2="297.00" y2="399.10" stroke="#161616" stroke-width="1.0" stroke-linecap="butt"/>
<line x1="293.60" y1="395.26" x2="297.00" y2="395.26" stroke="#161616" stroke-width="1.0" stroke-linecap="butt"/>
<line x1="293.60" y1="392.01" x2="297.00" y2="392.01" stroke="#161616" stroke-width="1.0" stroke-linecap="butt"/>
<line x1="293.60" y1="389.20" x2="297.00" y2="389.20" stroke="#161616" stroke-width="1.0" stroke-linecap="butt"/>
<line x1="293.60" y1="386.72" x2="297.00" y2="386.72" stroke="#161616" stroke-width="1.0" stroke-linecap="butt"/>
<line x1="297.50" y1="433.00" x2="297.50" y2="437.20" stroke="#161616" stroke-width="1.5" stroke-linecap="butt"/>
<text x="297.50" y="447.20" font-family="'Liberation Sans', sans-serif" font-size="12.8" font-weight="normal" text-anchor="middle" fill="#161616" stroke="#161616" stroke-width="0.32">0</text>
<line x1="331.25" y1="433.00" x2="331.25" y2="437.20" stroke="#161616" stroke-width="1.5" stroke-linecap="butt"/>
<text x="333.05" y="447.20" font-family="'Liberation Sans', sans-serif" font-size="12.8" font-weight="normal" text-anchor="end" fill="#161616" stroke="#161616" stroke-width="0.32">10</text>
<line x1="365.00" y1="433.00" x2="365.00" y2="437.20" stroke="#161616" stroke-width="1.5" stroke-linecap="butt"/>
<text x="366.80" y="447.20" font-family="'Liberation Sans', sans-serif" font-size="12.8" font-weight="normal" text-anchor="end" fill="#161616" stroke="#161616" stroke-width="0.32">20</text>
<line x1="398.75" y1="433.00" x2="398.75" y2="437.20" stroke="#161616" stroke-width="1.5" stroke-linecap="butt"/>
<text x="400.55" y="447.20" font-family="'Liberation Sans', sans-serif" font-size="12.8" font-weight="normal" text-anchor="end" fill="#161616" stroke="#161616" stroke-width="0.32">30</text>
<line x1="433.75" y1="433.00" x2="433.75" y2="437.20" stroke="#161616" stroke-width="1.5" stroke-linecap="butt"/>
<text x="435.55" y="447.20" font-family="'Liberation Sans', sans-serif" font-size="12.8" font-weight="normal" text-anchor="end" fill="#161616" stroke="#161616" stroke-width="0.32">40</text>
<line x1="468.00" y1="433.00" x2="468.00" y2="437.20" stroke="#161616" stroke-width="1.5" stroke-linecap="butt"/>
<text x="469.80" y="447.20" font-family="'Liberation Sans', sans-serif" font-size="12.8" font-weight="normal" text-anchor="end" fill="#161616" stroke="#161616" stroke-width="0.32">50</text>
<line x1="502.50" y1="433.00" x2="502.50" y2="437.20" stroke="#161616" stroke-width="1.5" stroke-linecap="butt"/>
<text x="504.30" y="447.20" font-family="'Liberation Sans', sans-serif" font-size="12.8" font-weight="normal" text-anchor="end" fill="#161616" stroke="#161616" stroke-width="0.32">60</text>
<text x="290.80" y="246.70" font-family="'Liberation Sans', sans-serif" font-size="12.2" font-weight="normal" text-anchor="middle" fill="#161616" stroke="#161616" stroke-width="0.32" transform="rotate(-90 290.80 246.70)">1000</text>
<text x="290.80" y="285.30" font-family="'Liberation Sans', sans-serif" font-size="12.2" font-weight="normal" text-anchor="middle" fill="#161616" stroke="#161616" stroke-width="0.32" transform="rotate(-90 290.80 285.30)">100</text>
<text x="289.80" y="332.30" font-family="'Liberation Sans', sans-serif" font-size="12.2" font-weight="normal" text-anchor="middle" fill="#161616" stroke="#161616" stroke-width="0.32" transform="rotate(-90 289.80 332.30)">10</text>
<text x="296.20" y="383.50" font-family="'Liberation Sans', sans-serif" font-size="12.2" font-weight="normal" text-anchor="middle" fill="#161616" stroke="#161616" stroke-width="0.32" transform="rotate(-90 296.20 383.50)">1</text>
<text x="290.40" y="426.00" font-family="'Liberation Sans', sans-serif" font-size="12.2" font-weight="normal" text-anchor="middle" fill="#161616" stroke="#161616" stroke-width="0.32" transform="rotate(-90 290.40 426.00)">.1</text>
<text x="405.10" y="459.80" font-family="'Liberation Serif', serif" font-size="12.6" font-weight="bold" text-anchor="start" fill="#161616" stroke="#161616" stroke-width="0.22">FSC</text>
<text x="272.80" y="322.20" font-family="'Liberation Serif', serif" font-size="11.6" font-weight="bold" text-anchor="middle" fill="#161616" stroke="#161616" stroke-width="0.22" transform="rotate(-90 272.80 322.20)">7-AAD</text>
<text x="262.80" y="239.60" font-family="'Liberation Sans', sans-serif" font-size="25" font-weight="bold" text-anchor="start" fill="#161616" stroke="#161616" stroke-width="0.22" transform="translate(262.80 239.60) scale(0.9 1) translate(-262.80 -239.60)">D</text>
<text x="429.60" y="261.00" font-family="'Liberation Serif', serif" font-size="15.4" font-weight="bold" text-anchor="start" fill="#161616" stroke="#161616" stroke-width="0.22">Gate on R2</text>
<text x="310.20" y="291.60" font-family="'Liberation Serif', serif" font-size="12.5" font-weight="bold" text-anchor="start" fill="#161616" stroke="#161616" stroke-width="0.22">Late</text>
<text x="310.20" y="306.30" font-family="'Liberation Serif', serif" font-size="12.5" font-weight="bold" text-anchor="start" fill="#161616" stroke="#161616" stroke-width="0.22">apoptotic</text>
<text x="312.60" y="342.00" font-family="'Liberation Serif', serif" font-size="12.5" font-weight="bold" text-anchor="start" fill="#161616" stroke="#161616" stroke-width="0.22">Early</text>
<text x="311.90" y="356.60" font-family="'Liberation Serif', serif" font-size="12.5" font-weight="bold" text-anchor="start" fill="#161616" stroke="#161616" stroke-width="0.22">apoptotic</text>
<text x="328.20" y="415.40" font-family="'Liberation Serif', serif" font-size="12.5" font-weight="bold" text-anchor="start" fill="#161616" stroke="#161616" stroke-width="0.22">Live</text>
</svg>
</body></html>
